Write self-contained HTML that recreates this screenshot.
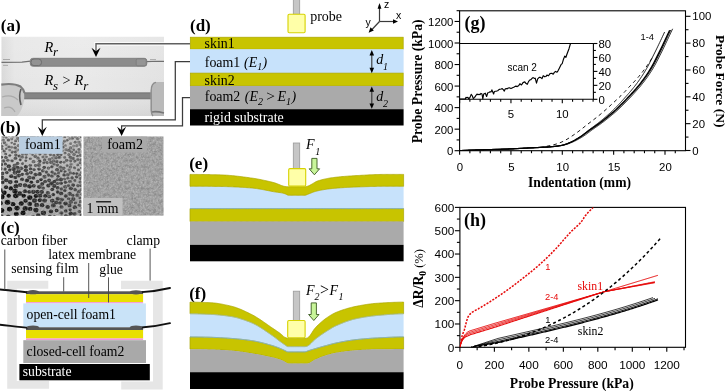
<!DOCTYPE html>
<html><head><meta charset="utf-8"><style>
html,body{margin:0;padding:0;background:#fff;width:725px;height:391px;overflow:hidden;}
svg{display:block;will-change:transform;}
</style></head><body>
<svg width="725" height="391" viewBox="0 0 725 391">
<rect width="725" height="391" fill="#fff"/>
<text x="0.80" y="30.50" font-family='"Liberation Serif", serif' font-size="17.00" font-weight="bold" font-style="normal" fill="#000" text-anchor="start" >(a)</text>
<defs><linearGradient id="pga" x1="0" y1="0" x2="1" y2="0"><stop offset="0" stop-color="#d8d8d8"/><stop offset="0.08" stop-color="#e6e6e6"/><stop offset="0.5" stop-color="#e9e9e9"/><stop offset="1" stop-color="#e2e2e2"/></linearGradient><linearGradient id="pgv" x1="0" y1="0" x2="0" y2="1"><stop offset="0" stop-color="#fff" stop-opacity="0.15"/><stop offset="0.6" stop-color="#fff" stop-opacity="0"/><stop offset="1" stop-color="#000" stop-opacity="0.06"/></linearGradient></defs>
<rect x="1.5" y="36.8" width="162.5" height="79.2" fill="url(#pga)"/>
<rect x="1.5" y="36.8" width="162.5" height="79.2" fill="url(#pgv)"/>
<path d="M1.5,62.4 L22,62.2 L30.5,61.2" stroke="#707070" stroke-width="1.3" fill="none"/>
<path d="M3,59.5 L10,59.5 M3,65.3 L8,65.4" stroke="#9a9a9a" stroke-width="0.8"/>
<path d="M146,61.6 L158,61.2 L164,61.4" stroke="#707070" stroke-width="1.1" fill="none"/>
<path d="M150,59.6 L156,59.6" stroke="#999" stroke-width="0.8"/>
<rect x="30.3" y="58.3" width="116.5" height="8.0" rx="2.5" fill="#8c8c8c" stroke="#7a7a7a" stroke-width="0.8"/>
<rect x="31" y="59.0" width="10.5" height="6.6" rx="3" fill="#929292" stroke="#6e6e6e" stroke-width="1"/>
<rect x="136.2" y="58.8" width="10" height="7" rx="1.5" fill="#959595" stroke="#7a7a7a" stroke-width="0.8"/>
<rect x="20" y="92.3" width="133" height="7.0" fill="#7a7a7a"/>
<rect x="20" y="93.6" width="133" height="4.2" fill="#858585"/>
<path d="M1.3,84.6 C8,83.6 16,84 20.5,86.5 C24.5,89.5 25,96 23.5,103 C22,109 19.5,114 17,116 L1.3,116 Z" fill="#c9c9c9"/>
<path d="M1.3,84.6 C8,83.6 16,84 20.5,86.5 C23,88.5 24,91 24.5,93" stroke="#7d7d7d" stroke-width="2.2" fill="none"/>
<path d="M21,89 C19,94 19.5,100 21,105" stroke="#5e5e5e" stroke-width="1.6" fill="none"/>
<path d="M2,97 C8,95 14,96 18,100 M4,108 C9,106 13,108 15,112" stroke="#aaa" stroke-width="1.2" fill="none"/>
<path d="M164,82.1 L156,82.1 C152.5,82.5 151,86 150.8,91 L150.8,110 C151,113 152,115.5 153,116 L164,116 Z" fill="#bababa"/>
<path d="M156,82.4 C152.5,82.8 151.2,86 151.2,91 L151.2,110 C151.4,113 152,115 153,116" stroke="#8e8e8e" stroke-width="1.4" fill="none"/>
<path d="M152,112 C156,111 160,112 164,113" stroke="#777" stroke-width="1.6" fill="none"/>
<text x="44.40" y="51.60" font-family='"Liberation Serif", serif' font-size="14.40" font-weight="normal" font-style="italic" fill="#000" text-anchor="start" >R</text>
<text x="53.00" y="56.20" font-family='"Liberation Serif", serif' font-size="13.00" font-weight="normal" font-style="italic" fill="#000" text-anchor="start" >r</text>
<text x="44.40" y="85.20" font-family='"Liberation Serif", serif' font-size="14.40" font-weight="normal" font-style="italic" fill="#000" text-anchor="start" >R</text>
<text x="53.00" y="89.80" font-family='"Liberation Serif", serif' font-size="13.00" font-weight="normal" font-style="italic" fill="#000" text-anchor="start" >s</text>
<text x="62.60" y="85.20" font-family='"Liberation Serif", serif' font-size="14.40" font-weight="normal" font-style="normal" fill="#000" text-anchor="start" >&gt;</text>
<text x="74.60" y="85.20" font-family='"Liberation Serif", serif' font-size="14.40" font-weight="normal" font-style="italic" fill="#000" text-anchor="start" >R</text>
<text x="83.20" y="89.80" font-family='"Liberation Serif", serif' font-size="13.00" font-weight="normal" font-style="italic" fill="#000" text-anchor="start" >r</text>
<text x="0.00" y="133.20" font-family='"Liberation Serif", serif' font-size="17.00" font-weight="bold" font-style="normal" fill="#000" text-anchor="start" >(b)</text>
<defs><clipPath id="f1clip"><rect x="1.2" y="136.5" width="80.1" height="79.2"/></clipPath><filter id="noise2" x="0" y="0" width="1" height="1"><feTurbulence type="fractalNoise" baseFrequency="0.32" numOctaves="3" seed="5" result="t"/><feColorMatrix type="matrix" values="0 0 0 0 0  0 0 0 0 0  0 0 0 0 0  -0.4 0 0 0 0.24" result="m"/><feComposite in="m" in2="SourceGraphic" operator="in"/></filter><filter id="noise3" x="0" y="0" width="1" height="1"><feTurbulence type="fractalNoise" baseFrequency="0.6" numOctaves="2" seed="9" result="t"/><feColorMatrix type="matrix" values="0 0 0 0 1  0 0 0 0 1  0 0 0 0 1  0.6 0 0 0 -0.25" result="m"/><feComposite in="m" in2="SourceGraphic" operator="in"/></filter><linearGradient id="f1g" x1="0" y1="0" x2="0.35" y2="1"><stop offset="0" stop-color="#c6c6c6"/><stop offset="0.55" stop-color="#b6b6b6"/><stop offset="1" stop-color="#a0a0a0"/></linearGradient></defs>
<rect x="1.2" y="136.5" width="80.1" height="79.2" fill="url(#f1g)"/>
<g clip-path="url(#f1clip)">
<ellipse cx="37.5" cy="181.5" rx="1.89" ry="1.70" fill="#3f3f3f"/><ellipse cx="76.7" cy="173.6" rx="1.53" ry="1.37" fill="#4a4a4a"/><ellipse cx="42.2" cy="183.8" rx="2.10" ry="1.89" fill="#3d3d3d"/><ellipse cx="15.3" cy="177.5" rx="1.94" ry="1.74" fill="#363636"/><ellipse cx="52.3" cy="200.8" rx="2.26" ry="2.04" fill="#333333"/><ellipse cx="7.8" cy="160.2" rx="1.73" ry="1.56" fill="#5a5a5a"/><ellipse cx="7.5" cy="202.2" rx="2.80" ry="2.52" fill="#0c0c0c"/><ellipse cx="57.6" cy="138.5" rx="1.58" ry="1.42" fill="#666666"/><ellipse cx="81.5" cy="215.1" rx="1.87" ry="1.69" fill="#383838"/><ellipse cx="54.3" cy="186.1" rx="2.21" ry="1.99" fill="#3a3a3a"/><ellipse cx="13.1" cy="136.2" rx="1.57" ry="1.41" fill="#747474"/><ellipse cx="43.9" cy="139.9" rx="1.77" ry="1.59" fill="#6c6c6c"/><ellipse cx="15.8" cy="155.1" rx="1.75" ry="1.57" fill="#565656"/><ellipse cx="2.5" cy="173.5" rx="1.85" ry="1.66" fill="#3d3d3d"/><ellipse cx="36.6" cy="204.9" rx="2.45" ry="2.20" fill="#2b2b2b"/><ellipse cx="43.1" cy="188.1" rx="1.81" ry="1.63" fill="#404040"/><ellipse cx="38.0" cy="158.1" rx="1.89" ry="1.70" fill="#616161"/><ellipse cx="69.7" cy="193.7" rx="2.15" ry="1.94" fill="#424242"/><ellipse cx="26.2" cy="154.1" rx="1.79" ry="1.61" fill="#626262"/><ellipse cx="24.0" cy="140.8" rx="1.40" ry="1.26" fill="#606060"/><ellipse cx="63.6" cy="168.2" rx="1.99" ry="1.79" fill="#595959"/><ellipse cx="70.3" cy="167.1" rx="1.87" ry="1.68" fill="#676767"/><ellipse cx="79.5" cy="205.3" rx="2.00" ry="1.80" fill="#515151"/><ellipse cx="0.0" cy="152.4" rx="1.46" ry="1.31" fill="#666666"/><ellipse cx="81.4" cy="168.0" rx="1.41" ry="1.27" fill="#656565"/><ellipse cx="6.1" cy="187.2" rx="2.14" ry="1.92" fill="#1e1e1e"/><ellipse cx="64.6" cy="157.4" rx="1.52" ry="1.37" fill="#696969"/><ellipse cx="80.0" cy="197.9" rx="1.57" ry="1.41" fill="#555555"/><ellipse cx="9.8" cy="155.5" rx="1.45" ry="1.30" fill="#515151"/><ellipse cx="8.4" cy="140.0" rx="1.80" ry="1.62" fill="#5e5e5e"/><ellipse cx="66.2" cy="149.7" rx="1.83" ry="1.64" fill="#717171"/><ellipse cx="46.4" cy="172.1" rx="1.70" ry="1.53" fill="#464646"/><ellipse cx="15.8" cy="195.7" rx="2.73" ry="2.46" fill="#101010"/><ellipse cx="10.9" cy="188.4" rx="2.29" ry="2.06" fill="#131313"/><ellipse cx="9.7" cy="169.9" rx="1.80" ry="1.62" fill="#343434"/><ellipse cx="80.6" cy="201.7" rx="1.82" ry="1.63" fill="#4f4f4f"/><ellipse cx="25.2" cy="208.4" rx="2.60" ry="2.34" fill="#181818"/><ellipse cx="17.5" cy="167.7" rx="2.09" ry="1.88" fill="#434343"/><ellipse cx="70.9" cy="188.3" rx="2.08" ry="1.88" fill="#3d3d3d"/><ellipse cx="8.3" cy="217.1" rx="2.59" ry="2.33" fill="#0c0c0c"/><ellipse cx="64.1" cy="162.3" rx="1.53" ry="1.37" fill="#666666"/><ellipse cx="20.2" cy="184.9" rx="2.25" ry="2.02" fill="#313131"/><ellipse cx="30.9" cy="172.6" rx="2.02" ry="1.82" fill="#464646"/><ellipse cx="79.6" cy="175.1" rx="1.65" ry="1.48" fill="#5f5f5f"/><ellipse cx="47.7" cy="206.9" rx="2.24" ry="2.02" fill="#2e2e2e"/><ellipse cx="15.2" cy="147.8" rx="1.83" ry="1.65" fill="#5f5f5f"/><ellipse cx="75.4" cy="202.9" rx="1.60" ry="1.44" fill="#4a4a4a"/><ellipse cx="20.7" cy="150.8" rx="1.76" ry="1.59" fill="#707070"/><ellipse cx="61.4" cy="213.1" rx="1.95" ry="1.76" fill="#3a3a3a"/><ellipse cx="16.3" cy="213.9" rx="2.45" ry="2.21" fill="#0c0c0c"/><ellipse cx="73.2" cy="185.1" rx="2.01" ry="1.81" fill="#474747"/><ellipse cx="35.0" cy="143.6" rx="1.61" ry="1.45" fill="#797979"/><ellipse cx="19.8" cy="193.5" rx="2.42" ry="2.18" fill="#262626"/><ellipse cx="21.3" cy="203.4" rx="2.51" ry="2.26" fill="#161616"/><ellipse cx="49.5" cy="159.4" rx="1.86" ry="1.67" fill="#676767"/><ellipse cx="5.7" cy="154.0" rx="1.51" ry="1.36" fill="#575757"/><ellipse cx="76.1" cy="151.9" rx="1.45" ry="1.31" fill="#626262"/><ellipse cx="1.4" cy="157.3" rx="1.62" ry="1.46" fill="#484848"/><ellipse cx="37.0" cy="140.0" rx="1.76" ry="1.58" fill="#6e6e6e"/><ellipse cx="14.6" cy="165.6" rx="2.07" ry="1.86" fill="#535353"/><ellipse cx="47.5" cy="145.9" rx="1.31" ry="1.18" fill="#666666"/><ellipse cx="30.1" cy="208.9" rx="2.33" ry="2.10" fill="#171717"/><ellipse cx="81.4" cy="189.5" rx="1.74" ry="1.56" fill="#4e4e4e"/><ellipse cx="57.4" cy="183.5" rx="1.75" ry="1.57" fill="#4b4b4b"/><ellipse cx="1.5" cy="210.5" rx="2.79" ry="2.52" fill="#0c0c0c"/><ellipse cx="40.0" cy="195.6" rx="2.43" ry="2.19" fill="#323232"/><ellipse cx="26.5" cy="217.9" rx="2.41" ry="2.17" fill="#0f0f0f"/><ellipse cx="6.2" cy="180.3" rx="2.23" ry="2.01" fill="#2c2c2c"/><ellipse cx="61.2" cy="193.4" rx="2.10" ry="1.89" fill="#363636"/><ellipse cx="65.8" cy="210.9" rx="1.78" ry="1.60" fill="#323232"/><ellipse cx="29.2" cy="191.9" rx="1.99" ry="1.79" fill="#313131"/><ellipse cx="74.8" cy="207.3" rx="2.19" ry="1.97" fill="#3a3a3a"/><ellipse cx="34.6" cy="200.6" rx="2.59" ry="2.33" fill="#2e2e2e"/><ellipse cx="51.9" cy="166.7" rx="1.73" ry="1.55" fill="#484848"/><ellipse cx="48.4" cy="185.5" rx="2.14" ry="1.92" fill="#393939"/><ellipse cx="82.4" cy="208.0" rx="1.75" ry="1.57" fill="#505050"/><ellipse cx="60.4" cy="167.2" rx="1.89" ry="1.70" fill="#5f5f5f"/><ellipse cx="61.0" cy="183.2" rx="1.83" ry="1.64" fill="#3b3b3b"/><ellipse cx="39.9" cy="154.1" rx="1.67" ry="1.51" fill="#575757"/><ellipse cx="58.0" cy="176.3" rx="1.68" ry="1.51" fill="#424242"/><ellipse cx="51.0" cy="211.4" rx="2.19" ry="1.97" fill="#2e2e2e"/><ellipse cx="21.2" cy="135.9" rx="1.78" ry="1.60" fill="#636363"/><ellipse cx="25.0" cy="191.3" rx="2.26" ry="2.03" fill="#2e2e2e"/><ellipse cx="75.2" cy="189.8" rx="2.00" ry="1.80" fill="#4c4c4c"/><ellipse cx="11.3" cy="176.2" rx="2.14" ry="1.92" fill="#2d2d2d"/><ellipse cx="69.5" cy="205.4" rx="2.10" ry="1.89" fill="#444444"/><ellipse cx="23.0" cy="149.0" rx="1.54" ry="1.39" fill="#5e5e5e"/><ellipse cx="51.9" cy="176.0" rx="1.80" ry="1.62" fill="#3c3c3c"/><ellipse cx="81.5" cy="172.6" rx="1.56" ry="1.41" fill="#646464"/><ellipse cx="6.2" cy="137.6" rx="1.41" ry="1.27" fill="#6c6c6c"/><ellipse cx="72.4" cy="138.4" rx="1.56" ry="1.40" fill="#666666"/><ellipse cx="25.6" cy="200.7" rx="2.25" ry="2.03" fill="#181818"/><ellipse cx="1.6" cy="146.3" rx="1.80" ry="1.62" fill="#5f5f5f"/><ellipse cx="37.8" cy="137.1" rx="1.34" ry="1.21" fill="#747474"/><ellipse cx="68.9" cy="154.7" rx="1.59" ry="1.43" fill="#616161"/><ellipse cx="11.7" cy="138.9" rx="1.64" ry="1.48" fill="#797979"/><ellipse cx="52.2" cy="172.1" rx="1.81" ry="1.63" fill="#494949"/><ellipse cx="52.3" cy="189.4" rx="1.91" ry="1.72" fill="#353535"/><ellipse cx="56.8" cy="151.5" rx="1.52" ry="1.37" fill="#757575"/><ellipse cx="39.4" cy="149.8" rx="1.41" ry="1.27" fill="#656565"/><ellipse cx="59.3" cy="149.9" rx="1.46" ry="1.32" fill="#696969"/><ellipse cx="22.6" cy="163.7" rx="1.53" ry="1.38" fill="#575757"/><ellipse cx="75.2" cy="142.2" rx="1.62" ry="1.46" fill="#6f6f6f"/><ellipse cx="77.4" cy="195.0" rx="2.06" ry="1.85" fill="#4c4c4c"/><ellipse cx="31.3" cy="182.2" rx="1.82" ry="1.64" fill="#272727"/><ellipse cx="59.9" cy="202.9" rx="1.90" ry="1.71" fill="#3a3a3a"/><ellipse cx="53.3" cy="194.6" rx="1.77" ry="1.60" fill="#2e2e2e"/><ellipse cx="44.6" cy="200.6" rx="2.41" ry="2.17" fill="#343434"/><ellipse cx="71.0" cy="163.9" rx="1.68" ry="1.51" fill="#676767"/><ellipse cx="67.2" cy="140.3" rx="1.38" ry="1.24" fill="#606060"/><ellipse cx="11.7" cy="147.3" rx="1.56" ry="1.41" fill="#6b6b6b"/><ellipse cx="78.8" cy="142.1" rx="1.80" ry="1.62" fill="#727272"/><ellipse cx="70.0" cy="181.5" rx="1.99" ry="1.79" fill="#555555"/><ellipse cx="25.9" cy="166.6" rx="2.07" ry="1.87" fill="#3d3d3d"/><ellipse cx="70.2" cy="209.7" rx="1.72" ry="1.55" fill="#3e3e3e"/><ellipse cx="80.4" cy="178.5" rx="1.59" ry="1.43" fill="#5d5d5d"/><ellipse cx="47.6" cy="151.7" rx="1.34" ry="1.20" fill="#696969"/><ellipse cx="44.5" cy="176.8" rx="2.17" ry="1.95" fill="#4f4f4f"/><ellipse cx="50.2" cy="137.3" rx="1.34" ry="1.21" fill="#696969"/><ellipse cx="79.4" cy="211.6" rx="1.90" ry="1.71" fill="#4b4b4b"/><ellipse cx="22.3" cy="174.3" rx="1.80" ry="1.62" fill="#3f3f3f"/><ellipse cx="39.6" cy="161.3" rx="1.95" ry="1.75" fill="#494949"/><ellipse cx="15.9" cy="186.3" rx="2.43" ry="2.18" fill="#272727"/><ellipse cx="76.8" cy="145.7" rx="1.79" ry="1.61" fill="#787878"/><ellipse cx="64.7" cy="136.9" rx="1.35" ry="1.22" fill="#636363"/><ellipse cx="57.0" cy="161.7" rx="1.81" ry="1.63" fill="#565656"/><ellipse cx="29.5" cy="186.4" rx="2.30" ry="2.07" fill="#242424"/><ellipse cx="8.7" cy="195.7" rx="2.23" ry="2.01" fill="#0c0c0c"/><ellipse cx="43.9" cy="148.3" rx="1.63" ry="1.47" fill="#6d6d6d"/><ellipse cx="74.9" cy="161.2" rx="1.66" ry="1.49" fill="#616161"/><ellipse cx="73.7" cy="146.1" rx="1.59" ry="1.43" fill="#787878"/><ellipse cx="21.5" cy="143.1" rx="1.48" ry="1.33" fill="#767676"/><ellipse cx="69.1" cy="170.0" rx="1.60" ry="1.44" fill="#646464"/><ellipse cx="65.6" cy="145.5" rx="1.45" ry="1.31" fill="#777777"/><ellipse cx="33.4" cy="191.9" rx="2.35" ry="2.11" fill="#2e2e2e"/><ellipse cx="56.6" cy="210.6" rx="1.92" ry="1.73" fill="#222222"/><ellipse cx="80.4" cy="144.6" rx="1.87" ry="1.68" fill="#787878"/><ellipse cx="41.7" cy="191.9" rx="2.22" ry="2.00" fill="#323232"/><ellipse cx="15.7" cy="140.9" rx="1.61" ry="1.45" fill="#626262"/><ellipse cx="15.3" cy="151.9" rx="1.59" ry="1.43" fill="#575757"/><ellipse cx="69.7" cy="217.2" rx="2.18" ry="1.96" fill="#353535"/><ellipse cx="27.1" cy="173.8" rx="1.99" ry="1.79" fill="#484848"/><ellipse cx="42.8" cy="170.7" rx="1.91" ry="1.72" fill="#4d4d4d"/><ellipse cx="15.0" cy="172.7" rx="2.32" ry="2.08" fill="#3e3e3e"/><ellipse cx="42.5" cy="136.3" rx="1.39" ry="1.25" fill="#666666"/><ellipse cx="61.8" cy="199.6" rx="2.17" ry="1.95" fill="#404040"/><ellipse cx="57.7" cy="198.7" rx="2.11" ry="1.90" fill="#393939"/><ellipse cx="60.0" cy="140.9" rx="1.89" ry="1.70" fill="#767676"/><ellipse cx="0.9" cy="164.5" rx="2.19" ry="1.97" fill="#464646"/><ellipse cx="44.2" cy="167.3" rx="1.78" ry="1.60" fill="#474747"/><ellipse cx="81.3" cy="136.9" rx="1.41" ry="1.27" fill="#5e5e5e"/><ellipse cx="21.3" cy="168.3" rx="2.04" ry="1.83" fill="#4c4c4c"/><ellipse cx="4.2" cy="151.2" rx="1.51" ry="1.36" fill="#585858"/><ellipse cx="31.2" cy="143.2" rx="1.62" ry="1.45" fill="#5f5f5f"/><ellipse cx="80.3" cy="182.1" rx="1.85" ry="1.67" fill="#555555"/><ellipse cx="78.5" cy="169.9" rx="1.63" ry="1.47" fill="#595959"/><ellipse cx="30.3" cy="158.7" rx="1.47" ry="1.32" fill="#5a5a5a"/><ellipse cx="54.4" cy="181.5" rx="1.95" ry="1.75" fill="#363636"/><ellipse cx="24.6" cy="136.2" rx="1.79" ry="1.61" fill="#6a6a6a"/><ellipse cx="35.6" cy="174.6" rx="2.19" ry="1.97" fill="#404040"/><ellipse cx="80.8" cy="155.2" rx="1.91" ry="1.72" fill="#636363"/><ellipse cx="43.4" cy="212.8" rx="2.66" ry="2.40" fill="#282828"/><ellipse cx="50.1" cy="144.6" rx="1.31" ry="1.17" fill="#646464"/><ellipse cx="43.8" cy="145.3" rx="1.50" ry="1.35" fill="#757575"/><ellipse cx="64.6" cy="179.1" rx="1.59" ry="1.43" fill="#585858"/><ellipse cx="60.9" cy="154.8" rx="1.57" ry="1.42" fill="#5c5c5c"/><ellipse cx="9.5" cy="209.1" rx="2.66" ry="2.39" fill="#0c0c0c"/><ellipse cx="65.1" cy="186.9" rx="2.08" ry="1.87" fill="#525252"/><ellipse cx="62.5" cy="150.8" rx="1.45" ry="1.31" fill="#666666"/><ellipse cx="3.3" cy="140.0" rx="1.70" ry="1.53" fill="#6e6e6e"/><ellipse cx="17.5" cy="163.5" rx="1.85" ry="1.66" fill="#4b4b4b"/><ellipse cx="6.2" cy="144.9" rx="1.51" ry="1.36" fill="#767676"/><ellipse cx="35.2" cy="156.4" rx="1.85" ry="1.66" fill="#606060"/><ellipse cx="67.2" cy="165.6" rx="1.46" ry="1.31" fill="#5c5c5c"/><ellipse cx="54.3" cy="217.1" rx="1.94" ry="1.75" fill="#1f1f1f"/><ellipse cx="27.0" cy="180.5" rx="2.26" ry="2.03" fill="#2c2c2c"/><ellipse cx="35.5" cy="165.6" rx="1.65" ry="1.49" fill="#585858"/><ellipse cx="64.4" cy="141.3" rx="1.65" ry="1.48" fill="#6e6e6e"/><ellipse cx="66.7" cy="160.3" rx="1.75" ry="1.58" fill="#5a5a5a"/><ellipse cx="30.3" cy="165.2" rx="1.71" ry="1.53" fill="#575757"/><ellipse cx="16.2" cy="181.8" rx="2.02" ry="1.82" fill="#272727"/><ellipse cx="73.1" cy="158.4" rx="1.85" ry="1.66" fill="#5d5d5d"/><ellipse cx="1.8" cy="177.8" rx="2.49" ry="2.24" fill="#373737"/><ellipse cx="53.9" cy="155.4" rx="1.43" ry="1.29" fill="#575757"/><ellipse cx="41.0" cy="179.6" rx="1.82" ry="1.64" fill="#2f2f2f"/><ellipse cx="70.8" cy="201.9" rx="2.20" ry="1.98" fill="#4a4a4a"/><ellipse cx="34.9" cy="147.1" rx="1.67" ry="1.50" fill="#606060"/><ellipse cx="61.5" cy="217.3" rx="2.08" ry="1.87" fill="#2c2c2c"/><ellipse cx="31.2" cy="148.9" rx="1.32" ry="1.19" fill="#6b6b6b"/><ellipse cx="15.4" cy="158.3" rx="1.81" ry="1.63" fill="#4d4d4d"/><ellipse cx="67.8" cy="174.8" rx="1.98" ry="1.79" fill="#5a5a5a"/><ellipse cx="72.1" cy="177.8" rx="1.75" ry="1.58" fill="#4a4a4a"/><ellipse cx="22.1" cy="179.4" rx="1.98" ry="1.78" fill="#3b3b3b"/><ellipse cx="0.1" cy="203.2" rx="2.69" ry="2.42" fill="#0c0c0c"/><ellipse cx="39.8" cy="173.9" rx="2.21" ry="1.99" fill="#3d3d3d"/><ellipse cx="13.1" cy="204.1" rx="2.45" ry="2.21" fill="#0c0c0c"/><ellipse cx="25.8" cy="160.8" rx="1.47" ry="1.33" fill="#585858"/><ellipse cx="38.3" cy="215.3" rx="2.21" ry="1.99" fill="#262626"/><ellipse cx="0.9" cy="217.3" rx="3.01" ry="2.71" fill="#0c0c0c"/><ellipse cx="60.7" cy="162.3" rx="1.61" ry="1.45" fill="#4d4d4d"/><ellipse cx="11.7" cy="142.8" rx="1.30" ry="1.17" fill="#6b6b6b"/><ellipse cx="33.8" cy="141.0" rx="1.80" ry="1.62" fill="#707070"/><ellipse cx="34.2" cy="136.3" rx="1.64" ry="1.48" fill="#777777"/><ellipse cx="8.8" cy="166.3" rx="2.19" ry="1.97" fill="#3a3a3a"/><ellipse cx="68.5" cy="185.7" rx="1.59" ry="1.43" fill="#474747"/><ellipse cx="74.9" cy="180.5" rx="1.64" ry="1.47" fill="#585858"/><ellipse cx="52.1" cy="151.4" rx="1.83" ry="1.65" fill="#6d6d6d"/><ellipse cx="47.8" cy="192.9" rx="2.06" ry="1.85" fill="#3e3e3e"/><ellipse cx="45.1" cy="181.5" rx="1.95" ry="1.76" fill="#404040"/><ellipse cx="46.5" cy="156.9" rx="1.39" ry="1.25" fill="#676767"/><ellipse cx="75.5" cy="217.3" rx="1.67" ry="1.50" fill="#484848"/><ellipse cx="69.0" cy="150.4" rx="1.82" ry="1.64" fill="#636363"/><ellipse cx="43.1" cy="156.9" rx="1.64" ry="1.47" fill="#6a6a6a"/><ellipse cx="47.1" cy="162.6" rx="1.80" ry="1.62" fill="#5d5d5d"/><ellipse cx="53.3" cy="138.1" rx="1.75" ry="1.57" fill="#6c6c6c"/><ellipse cx="55.7" cy="147.0" rx="1.79" ry="1.61" fill="#767676"/><ellipse cx="39.0" cy="169.1" rx="1.85" ry="1.66" fill="#414141"/><ellipse cx="35.9" cy="210.1" rx="2.61" ry="2.35" fill="#202020"/><ellipse cx="26.6" cy="139.5" rx="1.85" ry="1.67" fill="#686868"/><ellipse cx="49.3" cy="140.8" rx="1.61" ry="1.45" fill="#6d6d6d"/><ellipse cx="4.3" cy="192.7" rx="2.46" ry="2.21" fill="#101010"/><ellipse cx="19.6" cy="140.7" rx="1.69" ry="1.52" fill="#626262"/><ellipse cx="78.9" cy="135.0" rx="1.83" ry="1.64" fill="#6d6d6d"/><ellipse cx="20.2" cy="159.8" rx="1.54" ry="1.38" fill="#4b4b4b"/><ellipse cx="59.2" cy="146.2" rx="1.40" ry="1.26" fill="#747474"/><ellipse cx="42.0" cy="205.2" rx="2.32" ry="2.09" fill="#272727"/><ellipse cx="79.0" cy="149.4" rx="1.56" ry="1.41" fill="#5f5f5f"/><ellipse cx="50.5" cy="154.5" rx="1.78" ry="1.60" fill="#646464"/><ellipse cx="12.1" cy="160.8" rx="1.71" ry="1.54" fill="#515151"/><ellipse cx="3.5" cy="161.1" rx="1.93" ry="1.73" fill="#535353"/><ellipse cx="5.1" cy="169.1" rx="1.75" ry="1.58" fill="#444444"/><ellipse cx="30.2" cy="153.0" rx="1.51" ry="1.36" fill="#5e5e5e"/><ellipse cx="81.9" cy="147.0" rx="1.56" ry="1.40" fill="#6d6d6d"/><ellipse cx="19.1" cy="156.0" rx="1.74" ry="1.57" fill="#4d4d4d"/><ellipse cx="81.4" cy="185.7" rx="1.94" ry="1.74" fill="#525252"/><ellipse cx="73.6" cy="173.4" rx="1.50" ry="1.35" fill="#4c4c4c"/><ellipse cx="71.6" cy="152.0" rx="1.79" ry="1.61" fill="#646464"/><ellipse cx="57.4" cy="165.1" rx="1.79" ry="1.61" fill="#575757"/><ellipse cx="59.4" cy="157.3" rx="1.77" ry="1.59" fill="#565656"/><ellipse cx="77.7" cy="164.9" rx="1.49" ry="1.34" fill="#646464"/><ellipse cx="75.3" cy="136.7" rx="1.56" ry="1.41" fill="#6a6a6a"/><ellipse cx="32.7" cy="154.8" rx="1.42" ry="1.28" fill="#5d5d5d"/><ellipse cx="25.9" cy="170.2" rx="2.13" ry="1.92" fill="#3c3c3c"/><ellipse cx="12.2" cy="152.0" rx="1.72" ry="1.55" fill="#5c5c5c"/><ellipse cx="17.9" cy="138.4" rx="1.81" ry="1.63" fill="#737373"/><ellipse cx="81.0" cy="159.7" rx="1.72" ry="1.55" fill="#606060"/><ellipse cx="52.5" cy="142.5" rx="1.59" ry="1.43" fill="#606060"/><ellipse cx="34.1" cy="169.5" rx="1.69" ry="1.53" fill="#4a4a4a"/><ellipse cx="80.4" cy="162.7" rx="1.60" ry="1.44" fill="#585858"/><ellipse cx="57.7" cy="192.0" rx="1.84" ry="1.66" fill="#323232"/><ellipse cx="27.0" cy="149.8" rx="1.79" ry="1.61" fill="#5f5f5f"/><ellipse cx="64.1" cy="174.9" rx="1.77" ry="1.59" fill="#414141"/><ellipse cx="57.1" cy="169.8" rx="1.96" ry="1.77" fill="#444444"/><ellipse cx="23.7" cy="195.7" rx="2.28" ry="2.05" fill="#131313"/><ellipse cx="14.5" cy="143.9" rx="1.37" ry="1.23" fill="#5e5e5e"/><ellipse cx="77.5" cy="155.9" rx="1.41" ry="1.27" fill="#595959"/><ellipse cx="40.5" cy="145.0" rx="1.59" ry="1.43" fill="#727272"/><ellipse cx="23.0" cy="212.9" rx="2.56" ry="2.31" fill="#0c0c0c"/><ellipse cx="2.2" cy="149.0" rx="1.46" ry="1.31" fill="#606060"/><ellipse cx="29.8" cy="197.5" rx="2.64" ry="2.37" fill="#131313"/><ellipse cx="65.8" cy="196.0" rx="1.97" ry="1.77" fill="#393939"/><ellipse cx="68.7" cy="198.7" rx="1.69" ry="1.52" fill="#464646"/><ellipse cx="8.8" cy="146.9" rx="1.56" ry="1.40" fill="#626262"/><ellipse cx="33.5" cy="161.7" rx="1.99" ry="1.79" fill="#5f5f5f"/><ellipse cx="17.0" cy="208.1" rx="2.68" ry="2.41" fill="#141414"/><ellipse cx="82.5" cy="140.4" rx="1.43" ry="1.29" fill="#666666"/><ellipse cx="9.7" cy="150.1" rx="1.52" ry="1.37" fill="#737373"/><ellipse cx="72.8" cy="195.4" rx="1.66" ry="1.49" fill="#444444"/><ellipse cx="52.3" cy="158.1" rx="1.39" ry="1.25" fill="#686868"/><ellipse cx="78.1" cy="185.6" rx="1.82" ry="1.64" fill="#565656"/><ellipse cx="49.0" cy="180.3" rx="2.03" ry="1.83" fill="#3a3a3a"/><ellipse cx="74.5" cy="213.8" rx="2.09" ry="1.88" fill="#464646"/><ellipse cx="38.9" cy="165.0" rx="2.10" ry="1.89" fill="#5a5a5a"/><ellipse cx="10.3" cy="182.1" rx="2.37" ry="2.14" fill="#2f2f2f"/><ellipse cx="70.6" cy="143.7" rx="1.55" ry="1.39" fill="#727272"/><ellipse cx="70.6" cy="147.9" rx="1.88" ry="1.69" fill="#6b6b6b"/><ellipse cx="33.7" cy="185.8" rx="2.07" ry="1.86" fill="#313131"/><ellipse cx="53.4" cy="205.4" rx="2.46" ry="2.22" fill="#363636"/><ellipse cx="0.7" cy="168.7" rx="1.88" ry="1.69" fill="#3a3a3a"/><ellipse cx="4.4" cy="142.7" rx="1.63" ry="1.47" fill="#5f5f5f"/><ellipse cx="48.1" cy="135.5" rx="1.42" ry="1.27" fill="#717171"/><ellipse cx="64.9" cy="171.6" rx="1.60" ry="1.44" fill="#4a4a4a"/><ellipse cx="48.5" cy="174.9" rx="1.92" ry="1.73" fill="#4d4d4d"/><ellipse cx="57.9" cy="154.4" rx="1.70" ry="1.53" fill="#575757"/><ellipse cx="62.5" cy="143.5" rx="1.68" ry="1.52" fill="#5e5e5e"/><ellipse cx="65.1" cy="153.1" rx="1.57" ry="1.41" fill="#626262"/><ellipse cx="60.9" cy="179.4" rx="2.10" ry="1.89" fill="#404040"/><ellipse cx="55.3" cy="140.6" rx="1.87" ry="1.69" fill="#696969"/><ellipse cx="2.5" cy="182.4" rx="2.03" ry="1.83" fill="#313131"/><ellipse cx="40.3" cy="141.5" rx="1.82" ry="1.64" fill="#6e6e6e"/><ellipse cx="0.1" cy="140.6" rx="1.41" ry="1.27" fill="#676767"/><ellipse cx="65.9" cy="216.0" rx="1.99" ry="1.79" fill="#2d2d2d"/><ellipse cx="43.7" cy="162.8" rx="1.53" ry="1.38" fill="#565656"/><ellipse cx="32.1" cy="146.3" rx="1.61" ry="1.45" fill="#727272"/><ellipse cx="49.2" cy="196.5" rx="2.06" ry="1.86" fill="#3f3f3f"/><ellipse cx="76.7" cy="176.8" rx="1.78" ry="1.60" fill="#4f4f4f"/><ellipse cx="39.3" cy="186.8" rx="2.36" ry="2.12" fill="#3c3c3c"/><ellipse cx="26.2" cy="157.6" rx="1.45" ry="1.31" fill="#525252"/><ellipse cx="44.9" cy="217.8" rx="2.47" ry="2.23" fill="#202020"/><ellipse cx="58.6" cy="172.9" rx="1.80" ry="1.62" fill="#5b5b5b"/><ellipse cx="5.9" cy="157.4" rx="1.86" ry="1.68" fill="#545454"/><ellipse cx="33.1" cy="217.5" rx="2.49" ry="2.24" fill="#161616"/><ellipse cx="77.6" cy="138.6" rx="1.79" ry="1.61" fill="#717171"/><ellipse cx="27.9" cy="135.8" rx="1.42" ry="1.28" fill="#636363"/><ellipse cx="61.5" cy="206.9" rx="2.04" ry="1.83" fill="#3d3d3d"/><ellipse cx="0.1" cy="135.1" rx="1.67" ry="1.50" fill="#696969"/><ellipse cx="34.4" cy="150.2" rx="1.30" ry="1.17" fill="#6c6c6c"/><ellipse cx="28.6" cy="145.0" rx="1.61" ry="1.45" fill="#6d6d6d"/><ellipse cx="60.5" cy="137.5" rx="1.83" ry="1.64" fill="#717171"/><ellipse cx="65.5" cy="203.5" rx="2.31" ry="2.08" fill="#363636"/><ellipse cx="43.2" cy="151.9" rx="1.67" ry="1.50" fill="#6b6b6b"/><ellipse cx="56.1" cy="143.9" rx="1.60" ry="1.44" fill="#767676"/><ellipse cx="82.3" cy="151.6" rx="1.74" ry="1.57" fill="#676767"/><ellipse cx="69.5" cy="138.6" rx="1.55" ry="1.40" fill="#787878"/><ellipse cx="9.0" cy="135.3" rx="1.55" ry="1.40" fill="#656565"/><ellipse cx="74.5" cy="167.9" rx="1.57" ry="1.41" fill="#5f5f5f"/><ellipse cx="25.1" cy="185.4" rx="2.32" ry="2.09" fill="#333333"/><ellipse cx="65.5" cy="182.3" rx="1.85" ry="1.66" fill="#464646"/><ellipse cx="53.7" cy="160.8" rx="1.74" ry="1.56" fill="#606060"/><ellipse cx="73.7" cy="149.7" rx="1.40" ry="1.26" fill="#606060"/><ellipse cx="18.4" cy="145.6" rx="1.86" ry="1.68" fill="#717171"/><ellipse cx="45.2" cy="195.8" rx="2.10" ry="1.89" fill="#2a2a2a"/><ellipse cx="61.4" cy="188.9" rx="1.77" ry="1.59" fill="#494949"/><ellipse cx="48.5" cy="168.1" rx="1.81" ry="1.63" fill="#5c5c5c"/><ellipse cx="52.8" cy="135.2" rx="1.56" ry="1.41" fill="#696969"/><ellipse cx="82.5" cy="194.3" rx="2.10" ry="1.89" fill="#484848"/><ellipse cx="77.8" cy="159.7" rx="1.63" ry="1.47" fill="#5c5c5c"/><ellipse cx="73.2" cy="199.0" rx="2.16" ry="1.94" fill="#3d3d3d"/><ellipse cx="70.4" cy="157.3" rx="1.91" ry="1.72" fill="#606060"/><ellipse cx="64.9" cy="190.5" rx="1.74" ry="1.57" fill="#424242"/><ellipse cx="72.2" cy="135.6" rx="1.62" ry="1.46" fill="#666666"/><ellipse cx="67.9" cy="178.2" rx="1.54" ry="1.38" fill="#585858"/><ellipse cx="33.4" cy="178.1" rx="1.94" ry="1.74" fill="#3b3b3b"/><ellipse cx="6.8" cy="172.6" rx="1.85" ry="1.67" fill="#3d3d3d"/><ellipse cx="74.0" cy="154.5" rx="1.87" ry="1.68" fill="#6a6a6a"/><ellipse cx="31.4" cy="135.7" rx="1.82" ry="1.64" fill="#747474"/><ellipse cx="54.0" cy="164.0" rx="1.77" ry="1.59" fill="#5d5d5d"/><ellipse cx="55.0" cy="173.9" rx="1.74" ry="1.57" fill="#515151"/><ellipse cx="29.8" cy="203.9" rx="2.36" ry="2.13" fill="#1b1b1b"/><ellipse cx="61.1" cy="170.7" rx="1.60" ry="1.44" fill="#4e4e4e"/><ellipse cx="39.8" cy="200.1" rx="2.18" ry="1.96" fill="#191919"/><ellipse cx="1.7" cy="196.8" rx="2.86" ry="2.57" fill="#0c0c0c"/><ellipse cx="51.4" cy="147.8" rx="1.88" ry="1.69" fill="#6b6b6b"/><ellipse cx="22.8" cy="154.1" rx="1.78" ry="1.60" fill="#666666"/><ellipse cx="17.6" cy="150.0" rx="1.62" ry="1.46" fill="#767676"/><ellipse cx="82.8" cy="176.5" rx="1.78" ry="1.60" fill="#575757"/><ellipse cx="0.2" cy="190.2" rx="2.53" ry="2.28" fill="#101010"/><ellipse cx="22.0" cy="145.9" rx="1.83" ry="1.64" fill="#727272"/><ellipse cx="35.8" cy="196.1" rx="2.25" ry="2.02" fill="#191919"/><ellipse cx="25.6" cy="143.9" rx="1.34" ry="1.20" fill="#5e5e5e"/><ellipse cx="16.3" cy="135.9" rx="1.38" ry="1.24" fill="#686868"/><ellipse cx="70.7" cy="160.8" rx="1.60" ry="1.44" fill="#5f5f5f"/><ellipse cx="30.5" cy="140.3" rx="1.83" ry="1.64" fill="#6f6f6f"/><ellipse cx="18.6" cy="171.3" rx="2.20" ry="1.98" fill="#3b3b3b"/><ellipse cx="5.4" cy="163.9" rx="1.69" ry="1.52" fill="#484848"/><ellipse cx="62.9" cy="146.9" rx="1.82" ry="1.63" fill="#5e5e5e"/><ellipse cx="68.0" cy="135.2" rx="1.85" ry="1.66" fill="#626262"/><ellipse cx="47.0" cy="138.5" rx="1.86" ry="1.68" fill="#6a6a6a"/><ellipse cx="6.3" cy="148.8" rx="1.35" ry="1.21" fill="#606060"/><ellipse cx="45.9" cy="142.5" rx="1.67" ry="1.50" fill="#676767"/><ellipse cx="82.4" cy="164.9" rx="1.54" ry="1.38" fill="#5c5c5c"/><ellipse cx="35.8" cy="153.0" rx="1.57" ry="1.42" fill="#686868"/><ellipse cx="22.1" cy="157.1" rx="1.81" ry="1.63" fill="#616161"/><ellipse cx="70.7" cy="213.4" rx="2.11" ry="1.90" fill="#303030"/><ellipse cx="78.8" cy="191.7" rx="2.01" ry="1.81" fill="#525252"/><ellipse cx="29.4" cy="177.5" rx="2.29" ry="2.06" fill="#474747"/><ellipse cx="57.6" cy="187.8" rx="2.01" ry="1.81" fill="#414141"/><ellipse cx="56.0" cy="157.7" rx="1.94" ry="1.75" fill="#5f5f5f"/><ellipse cx="18.7" cy="175.6" rx="2.24" ry="2.02" fill="#3d3d3d"/><ellipse cx="15.0" cy="191.2" rx="2.62" ry="2.36" fill="#181818"/><ellipse cx="49.8" cy="216.7" rx="2.12" ry="1.91" fill="#292929"/><ellipse cx="30.5" cy="168.8" rx="1.80" ry="1.62" fill="#444444"/><ellipse cx="37.5" cy="191.8" rx="2.15" ry="1.93" fill="#262626"/><ellipse cx="37.9" cy="147.5" rx="1.34" ry="1.20" fill="#5f5f5f"/><ellipse cx="58.0" cy="135.3" rx="1.70" ry="1.53" fill="#686868"/><ellipse cx="45.2" cy="135.4" rx="1.74" ry="1.56" fill="#6a6a6a"/><ellipse cx="3.4" cy="136.2" rx="1.67" ry="1.51" fill="#696969"/><ellipse cx="51.4" cy="183.6" rx="2.23" ry="2.00" fill="#353535"/><ellipse cx="45.3" cy="153.9" rx="1.67" ry="1.50" fill="#6f6f6f"/><ellipse cx="44.7" cy="159.9" rx="1.72" ry="1.55" fill="#595959"/><ellipse cx="57.3" cy="179.6" rx="1.82" ry="1.63" fill="#4a4a4a"/><ellipse cx="0.1" cy="160.8" rx="1.54" ry="1.39" fill="#4b4b4b"/><ellipse cx="78.9" cy="152.4" rx="1.58" ry="1.42" fill="#717171"/><ellipse cx="13.6" cy="169.0" rx="2.21" ry="1.99" fill="#333333"/><ellipse cx="51.1" cy="162.4" rx="2.01" ry="1.81" fill="#616161"/><ellipse cx="70.4" cy="172.9" rx="1.72" ry="1.55" fill="#5b5b5b"/><ellipse cx="26.0" cy="147.0" rx="1.44" ry="1.30" fill="#777777"/><ellipse cx="56.1" cy="202.4" rx="2.09" ry="1.89" fill="#3e3e3e"/><ellipse cx="46.9" cy="149.0" rx="1.57" ry="1.42" fill="#656565"/><ellipse cx="0.6" cy="143.5" rx="1.33" ry="1.19" fill="#5f5f5f"/><ellipse cx="54.5" cy="149.9" rx="1.33" ry="1.20" fill="#6f6f6f"/>
<rect x="1.2" y="136.5" width="80.1" height="79.2" fill="#fff" filter="url(#noise3)"/>
</g>
<rect x="19" y="136.5" width="43.6" height="17.3" fill="#b9cde0"/>
<text x="24.90" y="149.00" font-family='"Liberation Serif", serif' font-size="14.00" font-weight="normal" font-style="normal" fill="#000" text-anchor="start" >foam1</text>
<rect x="83.5" y="136.5" width="80.0" height="79.1" fill="#a2a2a2"/>
<rect x="83.5" y="136.5" width="80.0" height="79.1" fill="#000" filter="url(#noise2)"/>
<rect x="83.5" y="136.5" width="80.0" height="79.1" fill="#fff" filter="url(#noise3)"/>
<rect x="102" y="136.5" width="44.8" height="16.0" fill="#a9a9a9"/>
<text x="107.20" y="148.50" font-family='"Liberation Serif", serif' font-size="14.00" font-weight="normal" font-style="normal" fill="#000" text-anchor="start" >foam2</text>
<rect x="83.5" y="198" width="39.1" height="17.6" fill="#c0c0c0"/>
<text x="86.60" y="213.20" font-family='"Liberation Serif", serif' font-size="13.80" font-weight="normal" font-style="normal" fill="#000" text-anchor="start" >1 mm</text>
<path d="M96.1,201.8 L111.1,201.8" stroke="#000" stroke-width="1.2"/>
<path d="M164,43.8 L96,43.8 L96,52" stroke="#fafafa" stroke-width="3.8" fill="none"/>
<path d="M190,43.8 L96,43.8 L96,52" stroke="#606060" stroke-width="1.4" fill="none"/>
<path d="M96.00,57.00 L91.50,47.70 L96.00,51.30 L100.50,47.70 Z" fill="#000"/>
<path d="M190,61.5 L175.3,61.5 L175.3,119.9 L42.3,119.9 L42.3,130" stroke="#3c3c3c" stroke-width="1.25" fill="none"/>
<path d="M42.30,136.10 L37.80,126.80 L42.30,130.40 L46.80,126.80 Z" fill="#000"/>
<path d="M190,97.6 L182.5,97.6 L182.5,125.9 L121.6,125.9 L121.6,130" stroke="#3c3c3c" stroke-width="1.25" fill="none"/>
<path d="M121.60,136.00 L117.10,126.70 L121.60,130.30 L126.10,126.70 Z" fill="#000"/>
<text x="0.80" y="232.50" font-family='"Liberation Serif", serif' font-size="17.00" font-weight="bold" font-style="normal" fill="#000" text-anchor="start" >(c)</text>
<path d="M7.2,280.7 L48.3,280.7 L48.3,288.8 L16.8,288.8 L16.8,381 L49.1,381 L49.1,388.8 L7.2,388.8 Z" fill="#e6e6e6"/>
<path d="M162.7,280.8 L121,280.8 L121,289 L153,289 L153,381.6 L121.2,381.6 L121.2,389.4 L162.7,389.4 Z" fill="#e6e6e6"/>
<rect x="26" y="291.3" width="117.1" height="3.0" fill="#555"/>
<rect x="26" y="294.2" width="117.1" height="8.0" fill="#e8e000"/>
<rect x="26" y="302.1" width="117.1" height="1.4" fill="#f29ad6"/>
<rect x="23.3" y="303.4" width="122.6" height="24.0" fill="#c9e3f8"/>
<rect x="26" y="327.3" width="117.1" height="2.8" fill="#555"/>
<rect x="26" y="330.0" width="117.1" height="8.5" fill="#e8e000"/>
<rect x="26" y="338.4" width="117.1" height="1.6" fill="#f29ad6"/>
<rect x="23.3" y="340.2" width="122.7" height="22.8" fill="#a9a9a9"/>
<rect x="19.4" y="364" width="130.4" height="16.3" fill="#000"/>
<path d="M-1,289.4 C8,290.0 18,291.6 30,292.4" stroke="#111" stroke-width="1.9" fill="none" stroke-linecap="round"/>
<path d="M139,292.4 C150,291.8 160,290.4 170,288.0" stroke="#111" stroke-width="1.9" fill="none" stroke-linecap="round"/>
<path d="M-1,324.6 C8,325.4 18,327.0 30,327.8" stroke="#111" stroke-width="1.9" fill="none" stroke-linecap="round"/>
<path d="M139,327.8 C150,327.2 160,325.6 170,323.2" stroke="#111" stroke-width="1.9" fill="none" stroke-linecap="round"/>
<ellipse cx="33.0" cy="292.2" rx="6.3" ry="2.1" fill="#555"/>
<ellipse cx="136.0" cy="292.3" rx="6.3" ry="2.1" fill="#555"/>
<ellipse cx="33.0" cy="327.6" rx="6.3" ry="2.1" fill="#555"/>
<ellipse cx="136.0" cy="327.6" rx="6.3" ry="2.1" fill="#555"/>
<text x="0.80" y="245.00" font-family='"Liberation Serif", serif' font-size="13.70" font-weight="normal" font-style="normal" fill="#000" text-anchor="start" >carbon fiber</text>
<text x="126.60" y="245.00" font-family='"Liberation Serif", serif' font-size="13.70" font-weight="normal" font-style="normal" fill="#000" text-anchor="start" >clamp</text>
<text x="48.30" y="259.10" font-family='"Liberation Serif", serif' font-size="13.70" font-weight="normal" font-style="normal" fill="#000" text-anchor="start" >latex membrane</text>
<text x="11.30" y="273.00" font-family='"Liberation Serif", serif' font-size="13.70" font-weight="normal" font-style="normal" fill="#000" text-anchor="start" >sensing film</text>
<text x="99.30" y="273.90" font-family='"Liberation Serif", serif' font-size="13.70" font-weight="normal" font-style="normal" fill="#000" text-anchor="start" >glue</text>
<path d="M4.8,249.5 L4.8,290" stroke="#444" stroke-width="0.9"/>
<path d="M63.7,277.2 L63.7,291.5" stroke="#444" stroke-width="0.9"/>
<path d="M88.7,263 L88.7,298" stroke="#444" stroke-width="0.9"/>
<path d="M108.5,277.3 L108.5,302.5" stroke="#444" stroke-width="0.9"/>
<path d="M150.1,248.7 L150.1,280.6" stroke="#444" stroke-width="0.9"/>
<text x="26.60" y="319.00" font-family='"Liberation Serif", serif' font-size="13.70" font-weight="normal" font-style="normal" fill="#000" text-anchor="start" >open-cell foam1</text>
<text x="26.60" y="356.40" font-family='"Liberation Serif", serif' font-size="13.70" font-weight="normal" font-style="normal" fill="#000" text-anchor="start" >closed-cell foam2</text>
<text x="22.80" y="376.20" font-family='"Liberation Serif", serif' font-size="13.70" font-weight="normal" font-style="normal" fill="#fff" text-anchor="start" >substrate</text>
<text x="190.00" y="30.80" font-family='"Liberation Serif", serif' font-size="17.00" font-weight="bold" font-style="normal" fill="#000" text-anchor="start" >(d)</text>
<rect x="190.3" y="37.2" width="212.9" height="12.0" fill="#c8c400" stroke="#aaa600" stroke-width="0.7"/>
<rect x="190.0" y="49.2" width="213.6" height="24.0" fill="#c7e2fb"/>
<rect x="190.3" y="73.1" width="212.9" height="12.8" fill="#c8c400" stroke="#aaa600" stroke-width="0.7"/>
<rect x="190.0" y="86.0" width="213.6" height="23.3" fill="#aaaaaa"/>
<rect x="190.0" y="109.2" width="213.6" height="16.3" fill="#000"/>
<rect x="293.3" y="-2.00" width="6.4" height="16.30" fill="#c6c6c6" stroke="#999" stroke-width="0.8"/>
<rect x="288.00" y="14.30" width="17.10" height="18.50" rx="1.2" fill="#ffffa8" stroke="#d6d200" stroke-width="1.1"/>
<text x="310.20" y="20.60" font-family='"Liberation Serif", serif' font-size="14.00" font-weight="normal" font-style="normal" fill="#000" text-anchor="start" >probe</text>
<text x="204.60" y="47.60" font-family='"Liberation Serif", serif' font-size="13.90" font-weight="normal" font-style="normal" fill="#000" text-anchor="start" >skin1</text>
<text x="204.80" y="66.6" font-family='"Liberation Serif", serif' font-size="13.9"><tspan>foam1 </tspan><tspan font-style="italic" dx="0.3">(E</tspan><tspan font-style="italic" font-size="10" dy="3.8">1</tspan><tspan font-style="italic" dy="-3.8" dx="0.2">)</tspan></text>
<text x="204.60" y="84.60" font-family='"Liberation Serif", serif' font-size="13.90" font-weight="normal" font-style="normal" fill="#000" text-anchor="start" >skin2</text>
<text x="204.80" y="100.9" font-family='"Liberation Serif", serif' font-size="13.9"><tspan>foam2 </tspan><tspan font-style="italic" dx="1">(E</tspan><tspan font-style="italic" font-size="10" dy="3.8">2</tspan><tspan dy="-3.8" dx="3.4" font-size="15.5">&gt;</tspan><tspan font-style="italic" dx="2.4">E</tspan><tspan font-style="italic" font-size="10" dy="3.8">1</tspan><tspan font-style="italic" dy="-3.8" dx="0.6">)</tspan></text>
<text x="204.60" y="121.60" font-family='"Liberation Serif", serif' font-size="13.90" font-weight="normal" font-style="normal" fill="#fff" text-anchor="start" >rigid substrate</text>
<path d="M371.8,53.00 L371.8,70.20" stroke="#333" stroke-width="1.1"/>
<path d="M369.5,55.40 L371.8,50.00 L374.1,55.40 Z" fill="#000"/>
<path d="M369.5,67.80 L371.8,73.20 L374.1,67.80 Z" fill="#000"/>
<text x="376.3" y="64.20" font-family='"Liberation Serif", serif' font-size="14" font-style="italic">d<tspan font-size="10" dy="5.8" dx="-0.4">1</tspan></text>
<path d="M371.8,89.40 L371.8,105.80" stroke="#333" stroke-width="1.1"/>
<path d="M369.5,91.80 L371.8,86.40 L374.1,91.80 Z" fill="#000"/>
<path d="M369.5,103.40 L371.8,108.80 L374.1,103.40 Z" fill="#000"/>
<text x="376.3" y="100.60" font-family='"Liberation Serif", serif' font-size="14" font-style="italic">d<tspan font-size="10" dy="6.0" dx="-0.4">2</tspan></text>
<path d="M379.5,21.5 L379.5,5" stroke="#3a3a3a" stroke-width="1.2"/>
<path d="M377.6,8.8 L379.5,2.9 L381.4,8.8 Z" fill="#000"/>
<path d="M379.5,21.5 L394.5,21.5" stroke="#3a3a3a" stroke-width="1.2"/>
<path d="M393,19.3 L398,21.5 L393,23.7 Z" fill="#000"/>
<path d="M379.5,21.5 L371.5,30" stroke="#3a3a3a" stroke-width="1.2"/>
<path d="M370.5,27.3 L368.6,32.7 L373.8,30.5 Z" fill="#000"/>
<text x="383.90" y="8.00" font-family='"Liberation Sans", sans-serif' font-size="10.50" font-weight="normal" font-style="normal" fill="#000" text-anchor="start" >z</text>
<text x="396.00" y="18.90" font-family='"Liberation Sans", sans-serif' font-size="10.50" font-weight="normal" font-style="normal" fill="#000" text-anchor="start" >x</text>
<text x="365.50" y="25.60" font-family='"Liberation Sans", sans-serif' font-size="10.50" font-weight="normal" font-style="normal" fill="#000" text-anchor="start" >y</text>
<text x="189.20" y="169.00" font-family='"Liberation Serif", serif' font-size="17.00" font-weight="bold" font-style="normal" fill="#000" text-anchor="start" >(e)</text>
<path d="M190.00,186.30 L191.19,186.30 L192.37,186.30 L193.56,186.30 L194.75,186.30 L195.93,186.30 L197.12,186.30 L198.31,186.30 L199.49,186.30 L200.68,186.30 L201.87,186.31 L203.05,186.31 L204.24,186.32 L205.43,186.33 L206.61,186.33 L207.80,186.34 L208.99,186.35 L210.17,186.36 L211.36,186.37 L212.55,186.39 L213.73,186.40 L214.92,186.41 L216.11,186.43 L217.29,186.44 L218.48,186.45 L219.67,186.47 L220.85,186.48 L222.04,186.50 L223.23,186.53 L224.41,186.55 L225.60,186.58 L226.79,186.61 L227.97,186.65 L229.16,186.69 L230.35,186.73 L231.53,186.78 L232.72,186.83 L233.91,186.88 L235.09,186.94 L236.28,187.00 L237.47,187.06 L238.65,187.12 L239.84,187.19 L241.03,187.26 L242.21,187.33 L243.40,187.41 L244.59,187.48 L245.77,187.56 L246.96,187.65 L248.15,187.73 L249.33,187.82 L250.52,187.91 L251.71,188.00 L252.89,188.12 L254.08,188.25 L255.27,188.40 L256.45,188.56 L257.64,188.73 L258.83,188.92 L260.01,189.12 L261.20,189.32 L262.39,189.54 L263.57,189.76 L264.76,189.98 L265.95,190.21 L267.13,190.45 L268.32,190.68 L269.51,190.92 L270.69,191.15 L271.88,191.39 L273.07,191.62 L274.25,191.83 L275.44,192.02 L276.63,192.17 L277.81,192.32 L279.00,192.47 L280.19,192.64 L281.37,192.83 L282.56,193.08 L283.75,193.38 L284.93,193.75 L286.12,194.21 L287.31,194.94 L288.49,195.30 L289.68,195.30 L290.87,195.30 L292.05,195.30 L293.24,195.30 L294.43,195.30 L295.61,195.30 L296.80,195.30 L297.99,195.30 L299.17,195.30 L300.36,195.30 L301.55,195.30 L302.73,195.30 L303.92,195.30 L305.11,195.30 L306.29,194.93 L307.48,194.42 L308.67,193.94 L309.85,193.45 L311.04,192.98 L312.23,192.52 L313.41,192.09 L314.60,191.68 L315.79,191.32 L316.97,191.00 L318.16,190.72 L319.35,190.47 L320.53,190.23 L321.72,190.00 L322.91,189.79 L324.09,189.59 L325.28,189.40 L326.47,189.22 L327.65,189.06 L328.84,188.90 L330.03,188.76 L331.21,188.63 L332.40,188.51 L333.59,188.40 L334.77,188.29 L335.96,188.19 L337.15,188.09 L338.33,188.00 L339.52,187.91 L340.71,187.82 L341.89,187.74 L343.08,187.66 L344.27,187.58 L345.45,187.51 L346.64,187.44 L347.83,187.37 L349.01,187.31 L350.20,187.25 L351.39,187.20 L352.57,187.14 L353.76,187.09 L354.95,187.05 L356.13,187.00 L357.32,186.96 L358.51,186.92 L359.69,186.88 L360.88,186.84 L362.07,186.80 L363.25,186.75 L364.44,186.71 L365.63,186.68 L366.81,186.64 L368.00,186.60 L369.19,186.57 L370.37,186.53 L371.56,186.50 L372.75,186.47 L373.93,186.44 L375.12,186.42 L376.31,186.39 L377.49,186.37 L378.68,186.35 L379.87,186.34 L381.05,186.32 L382.24,186.31 L383.43,186.31 L384.61,186.30 L385.80,186.30 L386.99,186.30 L388.17,186.30 L389.36,186.30 L390.55,186.30 L391.73,186.30 L392.92,186.30 L394.11,186.30 L395.29,186.30 L396.48,186.30 L397.67,186.30 L398.85,186.30 L400.04,186.30 L401.23,186.30 L402.41,186.30 L403.60,186.30 L403.60,208.60 L402.41,208.60 L401.23,208.60 L400.04,208.60 L398.85,208.60 L397.67,208.60 L396.48,208.60 L395.29,208.60 L394.11,208.60 L392.92,208.60 L391.73,208.60 L390.55,208.60 L389.36,208.60 L388.17,208.60 L386.99,208.60 L385.80,208.60 L384.61,208.60 L383.43,208.60 L382.24,208.60 L381.05,208.60 L379.87,208.60 L378.68,208.60 L377.49,208.60 L376.31,208.60 L375.12,208.60 L373.93,208.60 L372.75,208.60 L371.56,208.60 L370.37,208.60 L369.19,208.60 L368.00,208.60 L366.81,208.60 L365.63,208.60 L364.44,208.60 L363.25,208.60 L362.07,208.60 L360.88,208.60 L359.69,208.60 L358.51,208.60 L357.32,208.60 L356.13,208.60 L354.95,208.60 L353.76,208.60 L352.57,208.60 L351.39,208.60 L350.20,208.60 L349.01,208.60 L347.83,208.60 L346.64,208.60 L345.45,208.60 L344.27,208.60 L343.08,208.60 L341.89,208.60 L340.71,208.60 L339.52,208.60 L338.33,208.60 L337.15,208.60 L335.96,208.60 L334.77,208.60 L333.59,208.60 L332.40,208.60 L331.21,208.60 L330.03,208.60 L328.84,208.60 L327.65,208.60 L326.47,208.60 L325.28,208.60 L324.09,208.60 L322.91,208.60 L321.72,208.60 L320.53,208.60 L319.35,208.60 L318.16,208.60 L316.97,208.60 L315.79,208.60 L314.60,208.60 L313.41,208.60 L312.23,208.60 L311.04,208.60 L309.85,208.60 L308.67,208.60 L307.48,208.60 L306.29,208.60 L305.11,208.60 L303.92,208.60 L302.73,208.60 L301.55,208.60 L300.36,208.60 L299.17,208.60 L297.99,208.60 L296.80,208.60 L295.61,208.60 L294.43,208.60 L293.24,208.60 L292.05,208.60 L290.87,208.60 L289.68,208.60 L288.49,208.60 L287.31,208.60 L286.12,208.60 L284.93,208.60 L283.75,208.60 L282.56,208.60 L281.37,208.60 L280.19,208.60 L279.00,208.60 L277.81,208.60 L276.63,208.60 L275.44,208.60 L274.25,208.60 L273.07,208.60 L271.88,208.60 L270.69,208.60 L269.51,208.60 L268.32,208.60 L267.13,208.60 L265.95,208.60 L264.76,208.60 L263.57,208.60 L262.39,208.60 L261.20,208.60 L260.01,208.60 L258.83,208.60 L257.64,208.60 L256.45,208.60 L255.27,208.60 L254.08,208.60 L252.89,208.60 L251.71,208.60 L250.52,208.60 L249.33,208.60 L248.15,208.60 L246.96,208.60 L245.77,208.60 L244.59,208.60 L243.40,208.60 L242.21,208.60 L241.03,208.60 L239.84,208.60 L238.65,208.60 L237.47,208.60 L236.28,208.60 L235.09,208.60 L233.91,208.60 L232.72,208.60 L231.53,208.60 L230.35,208.60 L229.16,208.60 L227.97,208.60 L226.79,208.60 L225.60,208.60 L224.41,208.60 L223.23,208.60 L222.04,208.60 L220.85,208.60 L219.67,208.60 L218.48,208.60 L217.29,208.60 L216.11,208.60 L214.92,208.60 L213.73,208.60 L212.55,208.60 L211.36,208.60 L210.17,208.60 L208.99,208.60 L207.80,208.60 L206.61,208.60 L205.43,208.60 L204.24,208.60 L203.05,208.60 L201.87,208.60 L200.68,208.60 L199.49,208.60 L198.31,208.60 L197.12,208.60 L195.93,208.60 L194.75,208.60 L193.56,208.60 L192.37,208.60 L191.19,208.60 L190.00,208.60 Z" fill="#c7e2fb"/>
<path d="M190.00,174.40 L191.19,174.40 L192.37,174.40 L193.56,174.41 L194.75,174.41 L195.93,174.42 L197.12,174.43 L198.31,174.44 L199.49,174.45 L200.68,174.47 L201.87,174.48 L203.05,174.50 L204.24,174.52 L205.43,174.54 L206.61,174.56 L207.80,174.58 L208.99,174.61 L210.17,174.63 L211.36,174.66 L212.55,174.69 L213.73,174.71 L214.92,174.74 L216.11,174.77 L217.29,174.80 L218.48,174.84 L219.67,174.87 L220.85,174.90 L222.04,174.94 L223.23,174.99 L224.41,175.05 L225.60,175.12 L226.79,175.20 L227.97,175.28 L229.16,175.38 L230.35,175.48 L231.53,175.58 L232.72,175.70 L233.91,175.81 L235.09,175.94 L236.28,176.07 L237.47,176.20 L238.65,176.34 L239.84,176.48 L241.03,176.63 L242.21,176.78 L243.40,176.93 L244.59,177.08 L245.77,177.24 L246.96,177.40 L248.15,177.56 L249.33,177.72 L250.52,177.88 L251.71,178.05 L252.89,178.22 L254.08,178.41 L255.27,178.60 L256.45,178.81 L257.64,179.02 L258.83,179.24 L260.01,179.47 L261.20,179.71 L262.39,179.95 L263.57,180.20 L264.76,180.46 L265.95,180.72 L267.13,180.99 L268.32,181.27 L269.51,181.55 L270.69,181.83 L271.88,182.12 L273.07,182.41 L274.25,182.72 L275.44,183.10 L276.63,183.54 L277.81,184.01 L279.00,184.50 L280.19,184.99 L281.37,185.45 L282.56,185.86 L283.75,186.22 L284.93,186.49 L286.12,186.65 L287.31,186.70 L288.49,186.70 L289.68,186.70 L290.87,186.70 L292.05,186.70 L293.24,186.70 L294.43,186.70 L295.61,186.70 L296.80,186.70 L297.99,186.70 L299.17,186.70 L300.36,186.70 L301.55,186.70 L302.73,186.70 L303.92,186.70 L305.11,186.70 L306.29,186.51 L307.48,186.21 L308.67,185.80 L309.85,185.26 L311.04,184.60 L312.23,183.89 L313.41,183.15 L314.60,182.43 L315.79,181.78 L316.97,181.22 L318.16,180.81 L319.35,180.44 L320.53,180.10 L321.72,179.78 L322.91,179.47 L324.09,179.18 L325.28,178.91 L326.47,178.66 L327.65,178.43 L328.84,178.21 L330.03,178.01 L331.21,177.83 L332.40,177.66 L333.59,177.51 L334.77,177.37 L335.96,177.23 L337.15,177.10 L338.33,176.97 L339.52,176.85 L340.71,176.73 L341.89,176.62 L343.08,176.52 L344.27,176.41 L345.45,176.32 L346.64,176.22 L347.83,176.14 L349.01,176.05 L350.20,175.97 L351.39,175.89 L352.57,175.82 L353.76,175.74 L354.95,175.67 L356.13,175.61 L357.32,175.54 L358.51,175.47 L359.69,175.40 L360.88,175.33 L362.07,175.26 L363.25,175.19 L364.44,175.13 L365.63,175.06 L366.81,175.00 L368.00,174.93 L369.19,174.87 L370.37,174.81 L371.56,174.76 L372.75,174.71 L373.93,174.66 L375.12,174.61 L376.31,174.57 L377.49,174.53 L378.68,174.50 L379.87,174.47 L381.05,174.44 L382.24,174.42 L383.43,174.41 L384.61,174.40 L385.80,174.40 L386.99,174.40 L388.17,174.40 L389.36,174.40 L390.55,174.40 L391.73,174.40 L392.92,174.40 L394.11,174.40 L395.29,174.40 L396.48,174.40 L397.67,174.40 L398.85,174.40 L400.04,174.40 L401.23,174.40 L402.41,174.40 L403.60,174.40 L403.60,186.30 L402.41,186.30 L401.23,186.30 L400.04,186.30 L398.85,186.30 L397.67,186.30 L396.48,186.30 L395.29,186.30 L394.11,186.30 L392.92,186.30 L391.73,186.30 L390.55,186.30 L389.36,186.30 L388.17,186.30 L386.99,186.30 L385.80,186.30 L384.61,186.30 L383.43,186.31 L382.24,186.31 L381.05,186.32 L379.87,186.34 L378.68,186.35 L377.49,186.37 L376.31,186.39 L375.12,186.42 L373.93,186.44 L372.75,186.47 L371.56,186.50 L370.37,186.53 L369.19,186.57 L368.00,186.60 L366.81,186.64 L365.63,186.68 L364.44,186.71 L363.25,186.75 L362.07,186.80 L360.88,186.84 L359.69,186.88 L358.51,186.92 L357.32,186.96 L356.13,187.00 L354.95,187.05 L353.76,187.09 L352.57,187.14 L351.39,187.20 L350.20,187.25 L349.01,187.31 L347.83,187.37 L346.64,187.44 L345.45,187.51 L344.27,187.58 L343.08,187.66 L341.89,187.74 L340.71,187.82 L339.52,187.91 L338.33,188.00 L337.15,188.09 L335.96,188.19 L334.77,188.29 L333.59,188.40 L332.40,188.51 L331.21,188.63 L330.03,188.76 L328.84,188.90 L327.65,189.06 L326.47,189.22 L325.28,189.40 L324.09,189.59 L322.91,189.79 L321.72,190.00 L320.53,190.23 L319.35,190.47 L318.16,190.72 L316.97,191.00 L315.79,191.32 L314.60,191.68 L313.41,192.09 L312.23,192.52 L311.04,192.98 L309.85,193.45 L308.67,193.94 L307.48,194.42 L306.29,194.93 L305.11,195.30 L303.92,195.30 L302.73,195.30 L301.55,195.30 L300.36,195.30 L299.17,195.30 L297.99,195.30 L296.80,195.30 L295.61,195.30 L294.43,195.30 L293.24,195.30 L292.05,195.30 L290.87,195.30 L289.68,195.30 L288.49,195.30 L287.31,194.94 L286.12,194.21 L284.93,193.75 L283.75,193.38 L282.56,193.08 L281.37,192.83 L280.19,192.64 L279.00,192.47 L277.81,192.32 L276.63,192.17 L275.44,192.02 L274.25,191.83 L273.07,191.62 L271.88,191.39 L270.69,191.15 L269.51,190.92 L268.32,190.68 L267.13,190.45 L265.95,190.21 L264.76,189.98 L263.57,189.76 L262.39,189.54 L261.20,189.32 L260.01,189.12 L258.83,188.92 L257.64,188.73 L256.45,188.56 L255.27,188.40 L254.08,188.25 L252.89,188.12 L251.71,188.00 L250.52,187.91 L249.33,187.82 L248.15,187.73 L246.96,187.65 L245.77,187.56 L244.59,187.48 L243.40,187.41 L242.21,187.33 L241.03,187.26 L239.84,187.19 L238.65,187.12 L237.47,187.06 L236.28,187.00 L235.09,186.94 L233.91,186.88 L232.72,186.83 L231.53,186.78 L230.35,186.73 L229.16,186.69 L227.97,186.65 L226.79,186.61 L225.60,186.58 L224.41,186.55 L223.23,186.53 L222.04,186.50 L220.85,186.48 L219.67,186.47 L218.48,186.45 L217.29,186.44 L216.11,186.43 L214.92,186.41 L213.73,186.40 L212.55,186.39 L211.36,186.37 L210.17,186.36 L208.99,186.35 L207.80,186.34 L206.61,186.33 L205.43,186.33 L204.24,186.32 L203.05,186.31 L201.87,186.31 L200.68,186.30 L199.49,186.30 L198.31,186.30 L197.12,186.30 L195.93,186.30 L194.75,186.30 L193.56,186.30 L192.37,186.30 L191.19,186.30 L190.00,186.30 Z" fill="#c8c400" stroke="#aaa600" stroke-width="0.7"/>
<path d="M190.00,208.60 L191.19,208.60 L192.37,208.60 L193.56,208.60 L194.75,208.60 L195.93,208.60 L197.12,208.60 L198.31,208.60 L199.49,208.60 L200.68,208.60 L201.87,208.60 L203.05,208.60 L204.24,208.60 L205.43,208.60 L206.61,208.60 L207.80,208.60 L208.99,208.60 L210.17,208.60 L211.36,208.60 L212.55,208.60 L213.73,208.60 L214.92,208.60 L216.11,208.60 L217.29,208.60 L218.48,208.60 L219.67,208.60 L220.85,208.60 L222.04,208.60 L223.23,208.60 L224.41,208.60 L225.60,208.60 L226.79,208.60 L227.97,208.60 L229.16,208.60 L230.35,208.60 L231.53,208.60 L232.72,208.60 L233.91,208.60 L235.09,208.60 L236.28,208.60 L237.47,208.60 L238.65,208.60 L239.84,208.60 L241.03,208.60 L242.21,208.60 L243.40,208.60 L244.59,208.60 L245.77,208.60 L246.96,208.60 L248.15,208.60 L249.33,208.60 L250.52,208.60 L251.71,208.60 L252.89,208.60 L254.08,208.60 L255.27,208.60 L256.45,208.60 L257.64,208.60 L258.83,208.60 L260.01,208.60 L261.20,208.60 L262.39,208.60 L263.57,208.60 L264.76,208.60 L265.95,208.60 L267.13,208.60 L268.32,208.60 L269.51,208.60 L270.69,208.60 L271.88,208.60 L273.07,208.60 L274.25,208.60 L275.44,208.60 L276.63,208.60 L277.81,208.60 L279.00,208.60 L280.19,208.60 L281.37,208.60 L282.56,208.60 L283.75,208.60 L284.93,208.60 L286.12,208.60 L287.31,208.60 L288.49,208.60 L289.68,208.60 L290.87,208.60 L292.05,208.60 L293.24,208.60 L294.43,208.60 L295.61,208.60 L296.80,208.60 L297.99,208.60 L299.17,208.60 L300.36,208.60 L301.55,208.60 L302.73,208.60 L303.92,208.60 L305.11,208.60 L306.29,208.60 L307.48,208.60 L308.67,208.60 L309.85,208.60 L311.04,208.60 L312.23,208.60 L313.41,208.60 L314.60,208.60 L315.79,208.60 L316.97,208.60 L318.16,208.60 L319.35,208.60 L320.53,208.60 L321.72,208.60 L322.91,208.60 L324.09,208.60 L325.28,208.60 L326.47,208.60 L327.65,208.60 L328.84,208.60 L330.03,208.60 L331.21,208.60 L332.40,208.60 L333.59,208.60 L334.77,208.60 L335.96,208.60 L337.15,208.60 L338.33,208.60 L339.52,208.60 L340.71,208.60 L341.89,208.60 L343.08,208.60 L344.27,208.60 L345.45,208.60 L346.64,208.60 L347.83,208.60 L349.01,208.60 L350.20,208.60 L351.39,208.60 L352.57,208.60 L353.76,208.60 L354.95,208.60 L356.13,208.60 L357.32,208.60 L358.51,208.60 L359.69,208.60 L360.88,208.60 L362.07,208.60 L363.25,208.60 L364.44,208.60 L365.63,208.60 L366.81,208.60 L368.00,208.60 L369.19,208.60 L370.37,208.60 L371.56,208.60 L372.75,208.60 L373.93,208.60 L375.12,208.60 L376.31,208.60 L377.49,208.60 L378.68,208.60 L379.87,208.60 L381.05,208.60 L382.24,208.60 L383.43,208.60 L384.61,208.60 L385.80,208.60 L386.99,208.60 L388.17,208.60 L389.36,208.60 L390.55,208.60 L391.73,208.60 L392.92,208.60 L394.11,208.60 L395.29,208.60 L396.48,208.60 L397.67,208.60 L398.85,208.60 L400.04,208.60 L401.23,208.60 L402.41,208.60 L403.60,208.60 L403.60,221.50 L402.41,221.50 L401.23,221.50 L400.04,221.50 L398.85,221.50 L397.67,221.50 L396.48,221.50 L395.29,221.50 L394.11,221.50 L392.92,221.50 L391.73,221.50 L390.55,221.50 L389.36,221.50 L388.17,221.50 L386.99,221.50 L385.80,221.50 L384.61,221.50 L383.43,221.50 L382.24,221.50 L381.05,221.50 L379.87,221.50 L378.68,221.50 L377.49,221.50 L376.31,221.50 L375.12,221.50 L373.93,221.50 L372.75,221.50 L371.56,221.50 L370.37,221.50 L369.19,221.50 L368.00,221.50 L366.81,221.50 L365.63,221.50 L364.44,221.50 L363.25,221.50 L362.07,221.50 L360.88,221.50 L359.69,221.50 L358.51,221.50 L357.32,221.50 L356.13,221.50 L354.95,221.50 L353.76,221.50 L352.57,221.50 L351.39,221.50 L350.20,221.50 L349.01,221.50 L347.83,221.50 L346.64,221.50 L345.45,221.50 L344.27,221.50 L343.08,221.50 L341.89,221.50 L340.71,221.50 L339.52,221.50 L338.33,221.50 L337.15,221.50 L335.96,221.50 L334.77,221.50 L333.59,221.50 L332.40,221.50 L331.21,221.50 L330.03,221.50 L328.84,221.50 L327.65,221.50 L326.47,221.50 L325.28,221.50 L324.09,221.50 L322.91,221.50 L321.72,221.50 L320.53,221.50 L319.35,221.50 L318.16,221.50 L316.97,221.50 L315.79,221.50 L314.60,221.50 L313.41,221.50 L312.23,221.50 L311.04,221.50 L309.85,221.50 L308.67,221.50 L307.48,221.50 L306.29,221.50 L305.11,221.50 L303.92,221.50 L302.73,221.50 L301.55,221.50 L300.36,221.50 L299.17,221.50 L297.99,221.50 L296.80,221.50 L295.61,221.50 L294.43,221.50 L293.24,221.50 L292.05,221.50 L290.87,221.50 L289.68,221.50 L288.49,221.50 L287.31,221.50 L286.12,221.50 L284.93,221.50 L283.75,221.50 L282.56,221.50 L281.37,221.50 L280.19,221.50 L279.00,221.50 L277.81,221.50 L276.63,221.50 L275.44,221.50 L274.25,221.50 L273.07,221.50 L271.88,221.50 L270.69,221.50 L269.51,221.50 L268.32,221.50 L267.13,221.50 L265.95,221.50 L264.76,221.50 L263.57,221.50 L262.39,221.50 L261.20,221.50 L260.01,221.50 L258.83,221.50 L257.64,221.50 L256.45,221.50 L255.27,221.50 L254.08,221.50 L252.89,221.50 L251.71,221.50 L250.52,221.50 L249.33,221.50 L248.15,221.50 L246.96,221.50 L245.77,221.50 L244.59,221.50 L243.40,221.50 L242.21,221.50 L241.03,221.50 L239.84,221.50 L238.65,221.50 L237.47,221.50 L236.28,221.50 L235.09,221.50 L233.91,221.50 L232.72,221.50 L231.53,221.50 L230.35,221.50 L229.16,221.50 L227.97,221.50 L226.79,221.50 L225.60,221.50 L224.41,221.50 L223.23,221.50 L222.04,221.50 L220.85,221.50 L219.67,221.50 L218.48,221.50 L217.29,221.50 L216.11,221.50 L214.92,221.50 L213.73,221.50 L212.55,221.50 L211.36,221.50 L210.17,221.50 L208.99,221.50 L207.80,221.50 L206.61,221.50 L205.43,221.50 L204.24,221.50 L203.05,221.50 L201.87,221.50 L200.68,221.50 L199.49,221.50 L198.31,221.50 L197.12,221.50 L195.93,221.50 L194.75,221.50 L193.56,221.50 L192.37,221.50 L191.19,221.50 L190.00,221.50 Z" fill="#c8c400" stroke="#aaa600" stroke-width="0.7"/>
<polyline points="190.00,208.60 191.19,208.60 192.37,208.60 193.56,208.60 194.75,208.60 195.93,208.60 197.12,208.60 198.31,208.60 199.49,208.60 200.68,208.60 201.87,208.60 203.05,208.60 204.24,208.60 205.43,208.60 206.61,208.60 207.80,208.60 208.99,208.60 210.17,208.60 211.36,208.60 212.55,208.60 213.73,208.60 214.92,208.60 216.11,208.60 217.29,208.60 218.48,208.60 219.67,208.60 220.85,208.60 222.04,208.60 223.23,208.60 224.41,208.60 225.60,208.60 226.79,208.60 227.97,208.60 229.16,208.60 230.35,208.60 231.53,208.60 232.72,208.60 233.91,208.60 235.09,208.60 236.28,208.60 237.47,208.60 238.65,208.60 239.84,208.60 241.03,208.60 242.21,208.60 243.40,208.60 244.59,208.60 245.77,208.60 246.96,208.60 248.15,208.60 249.33,208.60 250.52,208.60 251.71,208.60 252.89,208.60 254.08,208.60 255.27,208.60 256.45,208.60 257.64,208.60 258.83,208.60 260.01,208.60 261.20,208.60 262.39,208.60 263.57,208.60 264.76,208.60 265.95,208.60 267.13,208.60 268.32,208.60 269.51,208.60 270.69,208.60 271.88,208.60 273.07,208.60 274.25,208.60 275.44,208.60 276.63,208.60 277.81,208.60 279.00,208.60 280.19,208.60 281.37,208.60 282.56,208.60 283.75,208.60 284.93,208.60 286.12,208.60 287.31,208.60 288.49,208.60 289.68,208.60 290.87,208.60 292.05,208.60 293.24,208.60 294.43,208.60 295.61,208.60 296.80,208.60 297.99,208.60 299.17,208.60 300.36,208.60 301.55,208.60 302.73,208.60 303.92,208.60 305.11,208.60 306.29,208.60 307.48,208.60 308.67,208.60 309.85,208.60 311.04,208.60 312.23,208.60 313.41,208.60 314.60,208.60 315.79,208.60 316.97,208.60 318.16,208.60 319.35,208.60 320.53,208.60 321.72,208.60 322.91,208.60 324.09,208.60 325.28,208.60 326.47,208.60 327.65,208.60 328.84,208.60 330.03,208.60 331.21,208.60 332.40,208.60 333.59,208.60 334.77,208.60 335.96,208.60 337.15,208.60 338.33,208.60 339.52,208.60 340.71,208.60 341.89,208.60 343.08,208.60 344.27,208.60 345.45,208.60 346.64,208.60 347.83,208.60 349.01,208.60 350.20,208.60 351.39,208.60 352.57,208.60 353.76,208.60 354.95,208.60 356.13,208.60 357.32,208.60 358.51,208.60 359.69,208.60 360.88,208.60 362.07,208.60 363.25,208.60 364.44,208.60 365.63,208.60 366.81,208.60 368.00,208.60 369.19,208.60 370.37,208.60 371.56,208.60 372.75,208.60 373.93,208.60 375.12,208.60 376.31,208.60 377.49,208.60 378.68,208.60 379.87,208.60 381.05,208.60 382.24,208.60 383.43,208.60 384.61,208.60 385.80,208.60 386.99,208.60 388.17,208.60 389.36,208.60 390.55,208.60 391.73,208.60 392.92,208.60 394.11,208.60 395.29,208.60 396.48,208.60 397.67,208.60 398.85,208.60 400.04,208.60 401.23,208.60 402.41,208.60 403.60,208.60" fill="none" stroke="#79b0e4" stroke-width="0.80"/>
<path d="M190.00,221.50 L191.19,221.50 L192.37,221.50 L193.56,221.50 L194.75,221.50 L195.93,221.50 L197.12,221.50 L198.31,221.50 L199.49,221.50 L200.68,221.50 L201.87,221.50 L203.05,221.50 L204.24,221.50 L205.43,221.50 L206.61,221.50 L207.80,221.50 L208.99,221.50 L210.17,221.50 L211.36,221.50 L212.55,221.50 L213.73,221.50 L214.92,221.50 L216.11,221.50 L217.29,221.50 L218.48,221.50 L219.67,221.50 L220.85,221.50 L222.04,221.50 L223.23,221.50 L224.41,221.50 L225.60,221.50 L226.79,221.50 L227.97,221.50 L229.16,221.50 L230.35,221.50 L231.53,221.50 L232.72,221.50 L233.91,221.50 L235.09,221.50 L236.28,221.50 L237.47,221.50 L238.65,221.50 L239.84,221.50 L241.03,221.50 L242.21,221.50 L243.40,221.50 L244.59,221.50 L245.77,221.50 L246.96,221.50 L248.15,221.50 L249.33,221.50 L250.52,221.50 L251.71,221.50 L252.89,221.50 L254.08,221.50 L255.27,221.50 L256.45,221.50 L257.64,221.50 L258.83,221.50 L260.01,221.50 L261.20,221.50 L262.39,221.50 L263.57,221.50 L264.76,221.50 L265.95,221.50 L267.13,221.50 L268.32,221.50 L269.51,221.50 L270.69,221.50 L271.88,221.50 L273.07,221.50 L274.25,221.50 L275.44,221.50 L276.63,221.50 L277.81,221.50 L279.00,221.50 L280.19,221.50 L281.37,221.50 L282.56,221.50 L283.75,221.50 L284.93,221.50 L286.12,221.50 L287.31,221.50 L288.49,221.50 L289.68,221.50 L290.87,221.50 L292.05,221.50 L293.24,221.50 L294.43,221.50 L295.61,221.50 L296.80,221.50 L297.99,221.50 L299.17,221.50 L300.36,221.50 L301.55,221.50 L302.73,221.50 L303.92,221.50 L305.11,221.50 L306.29,221.50 L307.48,221.50 L308.67,221.50 L309.85,221.50 L311.04,221.50 L312.23,221.50 L313.41,221.50 L314.60,221.50 L315.79,221.50 L316.97,221.50 L318.16,221.50 L319.35,221.50 L320.53,221.50 L321.72,221.50 L322.91,221.50 L324.09,221.50 L325.28,221.50 L326.47,221.50 L327.65,221.50 L328.84,221.50 L330.03,221.50 L331.21,221.50 L332.40,221.50 L333.59,221.50 L334.77,221.50 L335.96,221.50 L337.15,221.50 L338.33,221.50 L339.52,221.50 L340.71,221.50 L341.89,221.50 L343.08,221.50 L344.27,221.50 L345.45,221.50 L346.64,221.50 L347.83,221.50 L349.01,221.50 L350.20,221.50 L351.39,221.50 L352.57,221.50 L353.76,221.50 L354.95,221.50 L356.13,221.50 L357.32,221.50 L358.51,221.50 L359.69,221.50 L360.88,221.50 L362.07,221.50 L363.25,221.50 L364.44,221.50 L365.63,221.50 L366.81,221.50 L368.00,221.50 L369.19,221.50 L370.37,221.50 L371.56,221.50 L372.75,221.50 L373.93,221.50 L375.12,221.50 L376.31,221.50 L377.49,221.50 L378.68,221.50 L379.87,221.50 L381.05,221.50 L382.24,221.50 L383.43,221.50 L384.61,221.50 L385.80,221.50 L386.99,221.50 L388.17,221.50 L389.36,221.50 L390.55,221.50 L391.73,221.50 L392.92,221.50 L394.11,221.50 L395.29,221.50 L396.48,221.50 L397.67,221.50 L398.85,221.50 L400.04,221.50 L401.23,221.50 L402.41,221.50 L403.60,221.50 L403.60,244.80 L402.41,244.80 L401.23,244.80 L400.04,244.80 L398.85,244.80 L397.67,244.80 L396.48,244.80 L395.29,244.80 L394.11,244.80 L392.92,244.80 L391.73,244.80 L390.55,244.80 L389.36,244.80 L388.17,244.80 L386.99,244.80 L385.80,244.80 L384.61,244.80 L383.43,244.80 L382.24,244.80 L381.05,244.80 L379.87,244.80 L378.68,244.80 L377.49,244.80 L376.31,244.80 L375.12,244.80 L373.93,244.80 L372.75,244.80 L371.56,244.80 L370.37,244.80 L369.19,244.80 L368.00,244.80 L366.81,244.80 L365.63,244.80 L364.44,244.80 L363.25,244.80 L362.07,244.80 L360.88,244.80 L359.69,244.80 L358.51,244.80 L357.32,244.80 L356.13,244.80 L354.95,244.80 L353.76,244.80 L352.57,244.80 L351.39,244.80 L350.20,244.80 L349.01,244.80 L347.83,244.80 L346.64,244.80 L345.45,244.80 L344.27,244.80 L343.08,244.80 L341.89,244.80 L340.71,244.80 L339.52,244.80 L338.33,244.80 L337.15,244.80 L335.96,244.80 L334.77,244.80 L333.59,244.80 L332.40,244.80 L331.21,244.80 L330.03,244.80 L328.84,244.80 L327.65,244.80 L326.47,244.80 L325.28,244.80 L324.09,244.80 L322.91,244.80 L321.72,244.80 L320.53,244.80 L319.35,244.80 L318.16,244.80 L316.97,244.80 L315.79,244.80 L314.60,244.80 L313.41,244.80 L312.23,244.80 L311.04,244.80 L309.85,244.80 L308.67,244.80 L307.48,244.80 L306.29,244.80 L305.11,244.80 L303.92,244.80 L302.73,244.80 L301.55,244.80 L300.36,244.80 L299.17,244.80 L297.99,244.80 L296.80,244.80 L295.61,244.80 L294.43,244.80 L293.24,244.80 L292.05,244.80 L290.87,244.80 L289.68,244.80 L288.49,244.80 L287.31,244.80 L286.12,244.80 L284.93,244.80 L283.75,244.80 L282.56,244.80 L281.37,244.80 L280.19,244.80 L279.00,244.80 L277.81,244.80 L276.63,244.80 L275.44,244.80 L274.25,244.80 L273.07,244.80 L271.88,244.80 L270.69,244.80 L269.51,244.80 L268.32,244.80 L267.13,244.80 L265.95,244.80 L264.76,244.80 L263.57,244.80 L262.39,244.80 L261.20,244.80 L260.01,244.80 L258.83,244.80 L257.64,244.80 L256.45,244.80 L255.27,244.80 L254.08,244.80 L252.89,244.80 L251.71,244.80 L250.52,244.80 L249.33,244.80 L248.15,244.80 L246.96,244.80 L245.77,244.80 L244.59,244.80 L243.40,244.80 L242.21,244.80 L241.03,244.80 L239.84,244.80 L238.65,244.80 L237.47,244.80 L236.28,244.80 L235.09,244.80 L233.91,244.80 L232.72,244.80 L231.53,244.80 L230.35,244.80 L229.16,244.80 L227.97,244.80 L226.79,244.80 L225.60,244.80 L224.41,244.80 L223.23,244.80 L222.04,244.80 L220.85,244.80 L219.67,244.80 L218.48,244.80 L217.29,244.80 L216.11,244.80 L214.92,244.80 L213.73,244.80 L212.55,244.80 L211.36,244.80 L210.17,244.80 L208.99,244.80 L207.80,244.80 L206.61,244.80 L205.43,244.80 L204.24,244.80 L203.05,244.80 L201.87,244.80 L200.68,244.80 L199.49,244.80 L198.31,244.80 L197.12,244.80 L195.93,244.80 L194.75,244.80 L193.56,244.80 L192.37,244.80 L191.19,244.80 L190.00,244.80 Z" fill="#aaaaaa"/>
<rect x="190.0" y="244.8" width="213.6" height="16.5" fill="#000"/>
<rect x="293.3" y="143.00" width="6.4" height="25.60" fill="#c6c6c6" stroke="#999" stroke-width="0.8"/>
<rect x="288.70" y="168.60" width="17.00" height="17.50" rx="1.2" fill="#ffffa8" stroke="#d6d200" stroke-width="1.1"/>
<path d="M311.80,158.40 L317.00,158.40 L317.00,168.80 L319.60,168.80 L314.40,174.80 L309.20,168.80 L311.80,168.80 Z" fill="#c8f59a" stroke="#3a5a20" stroke-width="0.9"/>
<text x="306" y="148.9" font-family='"Liberation Serif", serif' font-size="14" font-style="italic">F<tspan font-size="10" dy="5.6" dx="0.8">1</tspan></text>
<text x="189.20" y="298.50" font-family='"Liberation Serif", serif' font-size="17.00" font-weight="bold" font-style="normal" fill="#000" text-anchor="start" >(f)</text>
<path d="M190.00,313.71 L191.19,313.72 L192.37,313.74 L193.56,313.76 L194.75,313.78 L195.93,313.81 L197.12,313.84 L198.31,313.88 L199.49,313.91 L200.68,313.95 L201.87,314.00 L203.05,314.04 L204.24,314.09 L205.43,314.14 L206.61,314.19 L207.80,314.24 L208.99,314.29 L210.17,314.34 L211.36,314.40 L212.55,314.46 L213.73,314.54 L214.92,314.62 L216.11,314.71 L217.29,314.81 L218.48,314.91 L219.67,315.03 L220.85,315.15 L222.04,315.28 L223.23,315.42 L224.41,315.56 L225.60,315.71 L226.79,315.87 L227.97,316.03 L229.16,316.20 L230.35,316.38 L231.53,316.56 L232.72,316.78 L233.91,317.01 L235.09,317.27 L236.28,317.55 L237.47,317.86 L238.65,318.18 L239.84,318.53 L241.03,318.89 L242.21,319.27 L243.40,319.67 L244.59,320.08 L245.77,320.51 L246.96,320.95 L248.15,321.40 L249.33,321.86 L250.52,322.33 L251.71,322.82 L252.89,323.34 L254.08,323.90 L255.27,324.50 L256.45,325.14 L257.64,325.81 L258.83,326.51 L260.01,327.24 L261.20,327.99 L262.39,328.76 L263.57,329.54 L264.76,330.34 L265.95,331.15 L267.13,331.97 L268.32,332.79 L269.51,333.61 L270.69,334.43 L271.88,335.24 L273.07,336.07 L274.25,336.94 L275.44,337.83 L276.63,338.75 L277.81,339.67 L279.00,340.58 L280.19,341.48 L281.37,342.36 L282.56,343.21 L283.75,344.04 L284.93,344.85 L286.12,345.66 L287.31,346.47 L288.49,346.60 L289.68,346.60 L290.87,346.60 L292.05,346.60 L293.24,346.60 L294.43,346.60 L295.61,346.60 L296.80,346.60 L297.99,346.60 L299.17,346.60 L300.36,346.60 L301.55,346.60 L302.73,346.60 L303.92,346.60 L305.11,346.60 L306.29,346.40 L307.48,346.03 L308.67,345.37 L309.85,344.42 L311.04,343.29 L312.23,342.07 L313.41,340.85 L314.60,339.71 L315.79,338.73 L316.97,337.82 L318.16,336.94 L319.35,336.08 L320.53,335.24 L321.72,334.42 L322.91,333.62 L324.09,332.83 L325.28,332.06 L326.47,331.30 L327.65,330.54 L328.84,329.78 L330.03,329.04 L331.21,328.31 L332.40,327.62 L333.59,326.96 L334.77,326.34 L335.96,325.78 L337.15,325.25 L338.33,324.73 L339.52,324.21 L340.71,323.71 L341.89,323.23 L343.08,322.75 L344.27,322.29 L345.45,321.85 L346.64,321.42 L347.83,321.00 L349.01,320.61 L350.20,320.23 L351.39,319.88 L352.57,319.54 L353.76,319.23 L354.95,318.94 L356.13,318.67 L357.32,318.42 L358.51,318.18 L359.69,317.95 L360.88,317.72 L362.07,317.50 L363.25,317.30 L364.44,317.10 L365.63,316.90 L366.81,316.72 L368.00,316.55 L369.19,316.38 L370.37,316.22 L371.56,316.07 L372.75,315.93 L373.93,315.80 L375.12,315.67 L376.31,315.56 L377.49,315.45 L378.68,315.34 L379.87,315.23 L381.05,315.12 L382.24,315.01 L383.43,314.91 L384.61,314.80 L385.80,314.70 L386.99,314.60 L388.17,314.50 L389.36,314.41 L390.55,314.32 L391.73,314.24 L392.92,314.16 L394.11,314.08 L395.29,314.01 L396.48,313.95 L397.67,313.89 L398.85,313.84 L400.04,313.79 L401.23,313.76 L402.41,313.73 L403.60,313.71 L403.60,336.91 L402.41,336.92 L401.23,336.94 L400.04,336.96 L398.85,336.98 L397.67,337.01 L396.48,337.05 L395.29,337.08 L394.11,337.12 L392.92,337.17 L391.73,337.22 L390.55,337.27 L389.36,337.32 L388.17,337.37 L386.99,337.43 L385.80,337.49 L384.61,337.55 L383.43,337.61 L382.24,337.67 L381.05,337.73 L379.87,337.79 L378.68,337.85 L377.49,337.91 L376.31,337.98 L375.12,338.04 L373.93,338.11 L372.75,338.18 L371.56,338.26 L370.37,338.34 L369.19,338.42 L368.00,338.51 L366.81,338.61 L365.63,338.70 L364.44,338.80 L363.25,338.91 L362.07,339.02 L360.88,339.13 L359.69,339.25 L358.51,339.37 L357.32,339.49 L356.13,339.62 L354.95,339.75 L353.76,339.90 L352.57,340.06 L351.39,340.23 L350.20,340.40 L349.01,340.59 L347.83,340.78 L346.64,340.98 L345.45,341.18 L344.27,341.40 L343.08,341.62 L341.89,341.84 L340.71,342.07 L339.52,342.31 L338.33,342.55 L337.15,342.79 L335.96,343.04 L334.77,343.30 L333.59,343.57 L332.40,343.87 L331.21,344.18 L330.03,344.49 L328.84,344.82 L327.65,345.14 L326.47,345.47 L325.28,345.79 L324.09,346.11 L322.91,346.44 L321.72,346.77 L320.53,347.10 L319.35,347.44 L318.16,347.79 L316.97,348.13 L315.79,348.48 L314.60,348.84 L313.41,349.19 L312.23,349.54 L311.04,349.90 L309.85,350.27 L308.67,350.67 L307.48,351.08 L306.29,351.56 L305.11,351.90 L303.92,351.90 L302.73,351.90 L301.55,351.90 L300.36,351.90 L299.17,351.90 L297.99,351.90 L296.80,351.90 L295.61,351.90 L294.43,351.90 L293.24,351.90 L292.05,351.90 L290.87,351.90 L289.68,351.90 L288.49,351.90 L287.31,351.80 L286.12,351.21 L284.93,350.60 L283.75,350.01 L282.56,349.45 L281.37,348.93 L280.19,348.44 L279.00,347.96 L277.81,347.50 L276.63,347.06 L275.44,346.63 L274.25,346.22 L273.07,345.84 L271.88,345.47 L270.69,345.12 L269.51,344.78 L268.32,344.44 L267.13,344.10 L265.95,343.78 L264.76,343.46 L263.57,343.14 L262.39,342.84 L261.20,342.55 L260.01,342.26 L258.83,341.99 L257.64,341.73 L256.45,341.48 L255.27,341.25 L254.08,341.03 L252.89,340.82 L251.71,340.64 L250.52,340.46 L249.33,340.29 L248.15,340.13 L246.96,339.98 L245.77,339.83 L244.59,339.68 L243.40,339.54 L242.21,339.41 L241.03,339.28 L239.84,339.16 L238.65,339.04 L237.47,338.93 L236.28,338.82 L235.09,338.72 L233.91,338.62 L232.72,338.53 L231.53,338.44 L230.35,338.36 L229.16,338.28 L227.97,338.20 L226.79,338.12 L225.60,338.04 L224.41,337.96 L223.23,337.89 L222.04,337.82 L220.85,337.75 L219.67,337.68 L218.48,337.61 L217.29,337.55 L216.11,337.50 L214.92,337.44 L213.73,337.39 L212.55,337.34 L211.36,337.30 L210.17,337.27 L208.99,337.23 L207.80,337.21 L206.61,337.18 L205.43,337.16 L204.24,337.14 L203.05,337.12 L201.87,337.09 L200.68,337.07 L199.49,337.05 L198.31,337.04 L197.12,337.02 L195.93,337.00 L194.75,336.99 L193.56,336.97 L192.37,336.96 L191.19,336.94 L190.00,336.93 Z" fill="#c7e2fb"/>
<path d="M190.00,302.11 L191.19,302.12 L192.37,302.13 L193.56,302.15 L194.75,302.17 L195.93,302.20 L197.12,302.22 L198.31,302.25 L199.49,302.29 L200.68,302.32 L201.87,302.36 L203.05,302.40 L204.24,302.45 L205.43,302.49 L206.61,302.54 L207.80,302.59 L208.99,302.65 L210.17,302.70 L211.36,302.76 L212.55,302.84 L213.73,302.95 L214.92,303.07 L216.11,303.21 L217.29,303.37 L218.48,303.55 L219.67,303.74 L220.85,303.95 L222.04,304.17 L223.23,304.40 L224.41,304.64 L225.60,304.89 L226.79,305.14 L227.97,305.41 L229.16,305.68 L230.35,305.95 L231.53,306.24 L232.72,306.55 L233.91,306.89 L235.09,307.26 L236.28,307.66 L237.47,308.09 L238.65,308.54 L239.84,309.01 L241.03,309.50 L242.21,310.01 L243.40,310.54 L244.59,311.08 L245.77,311.64 L246.96,312.20 L248.15,312.78 L249.33,313.36 L250.52,313.95 L251.71,314.54 L252.89,315.16 L254.08,315.82 L255.27,316.50 L256.45,317.22 L257.64,317.95 L258.83,318.71 L260.01,319.49 L261.20,320.29 L262.39,321.10 L263.57,321.92 L264.76,322.75 L265.95,323.58 L267.13,324.41 L268.32,325.24 L269.51,326.07 L270.69,326.90 L271.88,327.71 L273.07,328.51 L274.25,329.31 L275.44,330.10 L276.63,330.91 L277.81,331.73 L279.00,332.58 L280.19,333.46 L281.37,334.39 L282.56,335.42 L283.75,336.65 L284.93,337.42 L286.12,337.86 L287.31,338.23 L288.49,338.30 L289.68,338.30 L290.87,338.30 L292.05,338.30 L293.24,338.30 L294.43,338.30 L295.61,338.30 L296.80,338.30 L297.99,338.30 L299.17,338.30 L300.36,338.30 L301.55,338.30 L302.73,338.30 L303.92,338.30 L305.11,338.30 L306.29,338.16 L307.48,337.88 L308.67,337.08 L309.85,335.75 L311.04,334.07 L312.23,332.21 L313.41,330.35 L314.60,328.67 L315.79,327.33 L316.97,326.11 L318.16,324.94 L319.35,323.82 L320.53,322.73 L321.72,321.70 L322.91,320.71 L324.09,319.76 L325.28,318.87 L326.47,318.03 L327.65,317.20 L328.84,316.40 L330.03,315.63 L331.21,314.90 L332.40,314.21 L333.59,313.57 L334.77,312.99 L335.96,312.46 L337.15,311.98 L338.33,311.51 L339.52,311.06 L340.71,310.62 L341.89,310.20 L343.08,309.79 L344.27,309.41 L345.45,309.03 L346.64,308.67 L347.83,308.33 L349.01,308.00 L350.20,307.69 L351.39,307.39 L352.57,307.10 L353.76,306.83 L354.95,306.58 L356.13,306.33 L357.32,306.10 L358.51,305.87 L359.69,305.64 L360.88,305.42 L362.07,305.21 L363.25,305.00 L364.44,304.80 L365.63,304.61 L366.81,304.42 L368.00,304.25 L369.19,304.08 L370.37,303.92 L371.56,303.78 L372.75,303.65 L373.93,303.53 L375.12,303.42 L376.31,303.33 L377.49,303.25 L378.68,303.17 L379.87,303.09 L381.05,303.02 L382.24,302.94 L383.43,302.87 L384.61,302.80 L385.80,302.73 L386.99,302.67 L388.17,302.60 L389.36,302.54 L390.55,302.49 L391.73,302.43 L392.92,302.38 L394.11,302.33 L395.29,302.29 L396.48,302.25 L397.67,302.21 L398.85,302.18 L400.04,302.16 L401.23,302.14 L402.41,302.12 L403.60,302.11 L403.60,313.71 L402.41,313.73 L401.23,313.76 L400.04,313.79 L398.85,313.84 L397.67,313.89 L396.48,313.95 L395.29,314.01 L394.11,314.08 L392.92,314.16 L391.73,314.24 L390.55,314.32 L389.36,314.41 L388.17,314.50 L386.99,314.60 L385.80,314.70 L384.61,314.80 L383.43,314.91 L382.24,315.01 L381.05,315.12 L379.87,315.23 L378.68,315.34 L377.49,315.45 L376.31,315.56 L375.12,315.67 L373.93,315.80 L372.75,315.93 L371.56,316.07 L370.37,316.22 L369.19,316.38 L368.00,316.55 L366.81,316.72 L365.63,316.90 L364.44,317.10 L363.25,317.30 L362.07,317.50 L360.88,317.72 L359.69,317.95 L358.51,318.18 L357.32,318.42 L356.13,318.67 L354.95,318.94 L353.76,319.23 L352.57,319.54 L351.39,319.88 L350.20,320.23 L349.01,320.61 L347.83,321.00 L346.64,321.42 L345.45,321.85 L344.27,322.29 L343.08,322.75 L341.89,323.23 L340.71,323.71 L339.52,324.21 L338.33,324.73 L337.15,325.25 L335.96,325.78 L334.77,326.34 L333.59,326.96 L332.40,327.62 L331.21,328.31 L330.03,329.04 L328.84,329.78 L327.65,330.54 L326.47,331.30 L325.28,332.06 L324.09,332.83 L322.91,333.62 L321.72,334.42 L320.53,335.24 L319.35,336.08 L318.16,336.94 L316.97,337.82 L315.79,338.73 L314.60,339.71 L313.41,340.85 L312.23,342.07 L311.04,343.29 L309.85,344.42 L308.67,345.37 L307.48,346.03 L306.29,346.40 L305.11,346.60 L303.92,346.60 L302.73,346.60 L301.55,346.60 L300.36,346.60 L299.17,346.60 L297.99,346.60 L296.80,346.60 L295.61,346.60 L294.43,346.60 L293.24,346.60 L292.05,346.60 L290.87,346.60 L289.68,346.60 L288.49,346.60 L287.31,346.47 L286.12,345.66 L284.93,344.85 L283.75,344.04 L282.56,343.21 L281.37,342.36 L280.19,341.48 L279.00,340.58 L277.81,339.67 L276.63,338.75 L275.44,337.83 L274.25,336.94 L273.07,336.07 L271.88,335.24 L270.69,334.43 L269.51,333.61 L268.32,332.79 L267.13,331.97 L265.95,331.15 L264.76,330.34 L263.57,329.54 L262.39,328.76 L261.20,327.99 L260.01,327.24 L258.83,326.51 L257.64,325.81 L256.45,325.14 L255.27,324.50 L254.08,323.90 L252.89,323.34 L251.71,322.82 L250.52,322.33 L249.33,321.86 L248.15,321.40 L246.96,320.95 L245.77,320.51 L244.59,320.08 L243.40,319.67 L242.21,319.27 L241.03,318.89 L239.84,318.53 L238.65,318.18 L237.47,317.86 L236.28,317.55 L235.09,317.27 L233.91,317.01 L232.72,316.78 L231.53,316.56 L230.35,316.38 L229.16,316.20 L227.97,316.03 L226.79,315.87 L225.60,315.71 L224.41,315.56 L223.23,315.42 L222.04,315.28 L220.85,315.15 L219.67,315.03 L218.48,314.91 L217.29,314.81 L216.11,314.71 L214.92,314.62 L213.73,314.54 L212.55,314.46 L211.36,314.40 L210.17,314.34 L208.99,314.29 L207.80,314.24 L206.61,314.19 L205.43,314.14 L204.24,314.09 L203.05,314.04 L201.87,314.00 L200.68,313.95 L199.49,313.91 L198.31,313.88 L197.12,313.84 L195.93,313.81 L194.75,313.78 L193.56,313.76 L192.37,313.74 L191.19,313.72 L190.00,313.71 Z" fill="#c8c400" stroke="#aaa600" stroke-width="0.7"/>
<path d="M190.00,336.93 L191.19,336.94 L192.37,336.96 L193.56,336.97 L194.75,336.99 L195.93,337.00 L197.12,337.02 L198.31,337.04 L199.49,337.05 L200.68,337.07 L201.87,337.09 L203.05,337.12 L204.24,337.14 L205.43,337.16 L206.61,337.18 L207.80,337.21 L208.99,337.23 L210.17,337.27 L211.36,337.30 L212.55,337.34 L213.73,337.39 L214.92,337.44 L216.11,337.50 L217.29,337.55 L218.48,337.61 L219.67,337.68 L220.85,337.75 L222.04,337.82 L223.23,337.89 L224.41,337.96 L225.60,338.04 L226.79,338.12 L227.97,338.20 L229.16,338.28 L230.35,338.36 L231.53,338.44 L232.72,338.53 L233.91,338.62 L235.09,338.72 L236.28,338.82 L237.47,338.93 L238.65,339.04 L239.84,339.16 L241.03,339.28 L242.21,339.41 L243.40,339.54 L244.59,339.68 L245.77,339.83 L246.96,339.98 L248.15,340.13 L249.33,340.29 L250.52,340.46 L251.71,340.64 L252.89,340.82 L254.08,341.03 L255.27,341.25 L256.45,341.48 L257.64,341.73 L258.83,341.99 L260.01,342.26 L261.20,342.55 L262.39,342.84 L263.57,343.14 L264.76,343.46 L265.95,343.78 L267.13,344.10 L268.32,344.44 L269.51,344.78 L270.69,345.12 L271.88,345.47 L273.07,345.84 L274.25,346.22 L275.44,346.63 L276.63,347.06 L277.81,347.50 L279.00,347.96 L280.19,348.44 L281.37,348.93 L282.56,349.45 L283.75,350.01 L284.93,350.60 L286.12,351.21 L287.31,351.80 L288.49,351.90 L289.68,351.90 L290.87,351.90 L292.05,351.90 L293.24,351.90 L294.43,351.90 L295.61,351.90 L296.80,351.90 L297.99,351.90 L299.17,351.90 L300.36,351.90 L301.55,351.90 L302.73,351.90 L303.92,351.90 L305.11,351.90 L306.29,351.56 L307.48,351.08 L308.67,350.67 L309.85,350.27 L311.04,349.90 L312.23,349.54 L313.41,349.19 L314.60,348.84 L315.79,348.48 L316.97,348.13 L318.16,347.79 L319.35,347.44 L320.53,347.10 L321.72,346.77 L322.91,346.44 L324.09,346.11 L325.28,345.79 L326.47,345.47 L327.65,345.14 L328.84,344.82 L330.03,344.49 L331.21,344.18 L332.40,343.87 L333.59,343.57 L334.77,343.30 L335.96,343.04 L337.15,342.79 L338.33,342.55 L339.52,342.31 L340.71,342.07 L341.89,341.84 L343.08,341.62 L344.27,341.40 L345.45,341.18 L346.64,340.98 L347.83,340.78 L349.01,340.59 L350.20,340.40 L351.39,340.23 L352.57,340.06 L353.76,339.90 L354.95,339.75 L356.13,339.62 L357.32,339.49 L358.51,339.37 L359.69,339.25 L360.88,339.13 L362.07,339.02 L363.25,338.91 L364.44,338.80 L365.63,338.70 L366.81,338.61 L368.00,338.51 L369.19,338.42 L370.37,338.34 L371.56,338.26 L372.75,338.18 L373.93,338.11 L375.12,338.04 L376.31,337.98 L377.49,337.91 L378.68,337.85 L379.87,337.79 L381.05,337.73 L382.24,337.67 L383.43,337.61 L384.61,337.55 L385.80,337.49 L386.99,337.43 L388.17,337.37 L389.36,337.32 L390.55,337.27 L391.73,337.22 L392.92,337.17 L394.11,337.12 L395.29,337.08 L396.48,337.05 L397.67,337.01 L398.85,336.98 L400.04,336.96 L401.23,336.94 L402.41,336.92 L403.60,336.91 L403.60,349.10 L402.41,349.10 L401.23,349.10 L400.04,349.11 L398.85,349.11 L397.67,349.11 L396.48,349.12 L395.29,349.12 L394.11,349.12 L392.92,349.13 L391.73,349.13 L390.55,349.14 L389.36,349.15 L388.17,349.15 L386.99,349.16 L385.80,349.17 L384.61,349.18 L383.43,349.19 L382.24,349.20 L381.05,349.21 L379.87,349.22 L378.68,349.23 L377.49,349.24 L376.31,349.25 L375.12,349.27 L373.93,349.29 L372.75,349.32 L371.56,349.36 L370.37,349.41 L369.19,349.46 L368.00,349.51 L366.81,349.57 L365.63,349.64 L364.44,349.71 L363.25,349.78 L362.07,349.85 L360.88,349.93 L359.69,350.01 L358.51,350.09 L357.32,350.17 L356.13,350.26 L354.95,350.34 L353.76,350.44 L352.57,350.55 L351.39,350.66 L350.20,350.78 L349.01,350.91 L347.83,351.05 L346.64,351.20 L345.45,351.35 L344.27,351.51 L343.08,351.67 L341.89,351.85 L340.71,352.03 L339.52,352.21 L338.33,352.41 L337.15,352.60 L335.96,352.81 L334.77,353.03 L333.59,353.27 L332.40,353.54 L331.21,353.83 L330.03,354.14 L328.84,354.47 L327.65,354.81 L326.47,355.16 L325.28,355.52 L324.09,355.91 L322.91,356.33 L321.72,356.77 L320.53,357.23 L319.35,357.71 L318.16,358.21 L316.97,358.71 L315.79,359.23 L314.60,359.79 L313.41,360.50 L312.23,361.27 L311.04,362.03 L309.85,362.70 L308.67,363.18 L307.48,363.40 L306.29,363.40 L305.11,363.40 L303.92,363.40 L302.73,363.40 L301.55,363.40 L300.36,363.40 L299.17,363.40 L297.99,363.40 L296.80,363.40 L295.61,363.40 L294.43,363.40 L293.24,363.40 L292.05,363.40 L290.87,363.40 L289.68,363.40 L288.49,363.40 L287.31,363.29 L286.12,362.57 L284.93,361.82 L283.75,361.11 L282.56,360.50 L281.37,360.01 L280.19,359.57 L279.00,359.18 L277.81,358.81 L276.63,358.47 L275.44,358.15 L274.25,357.85 L273.07,357.56 L271.88,357.27 L270.69,356.99 L269.51,356.71 L268.32,356.45 L267.13,356.18 L265.95,355.93 L264.76,355.68 L263.57,355.44 L262.39,355.20 L261.20,354.97 L260.01,354.75 L258.83,354.53 L257.64,354.31 L256.45,354.10 L255.27,353.90 L254.08,353.70 L252.89,353.50 L251.71,353.31 L250.52,353.12 L249.33,352.93 L248.15,352.75 L246.96,352.56 L245.77,352.37 L244.59,352.19 L243.40,352.01 L242.21,351.83 L241.03,351.66 L239.84,351.49 L238.65,351.34 L237.47,351.18 L236.28,351.04 L235.09,350.91 L233.91,350.79 L232.72,350.68 L231.53,350.58 L230.35,350.49 L229.16,350.41 L227.97,350.32 L226.79,350.25 L225.60,350.17 L224.41,350.09 L223.23,350.02 L222.04,349.95 L220.85,349.89 L219.67,349.83 L218.48,349.77 L217.29,349.71 L216.11,349.66 L214.92,349.61 L213.73,349.56 L212.55,349.52 L211.36,349.48 L210.17,349.45 L208.99,349.42 L207.80,349.39 L206.61,349.37 L205.43,349.35 L204.24,349.33 L203.05,349.31 L201.87,349.29 L200.68,349.27 L199.49,349.25 L198.31,349.23 L197.12,349.21 L195.93,349.20 L194.75,349.18 L193.56,349.17 L192.37,349.15 L191.19,349.14 L190.00,349.13 Z" fill="#c8c400" stroke="#aaa600" stroke-width="0.7"/>
<path d="M190.00,349.13 L191.19,349.14 L192.37,349.15 L193.56,349.17 L194.75,349.18 L195.93,349.20 L197.12,349.21 L198.31,349.23 L199.49,349.25 L200.68,349.27 L201.87,349.29 L203.05,349.31 L204.24,349.33 L205.43,349.35 L206.61,349.37 L207.80,349.39 L208.99,349.42 L210.17,349.45 L211.36,349.48 L212.55,349.52 L213.73,349.56 L214.92,349.61 L216.11,349.66 L217.29,349.71 L218.48,349.77 L219.67,349.83 L220.85,349.89 L222.04,349.95 L223.23,350.02 L224.41,350.09 L225.60,350.17 L226.79,350.25 L227.97,350.32 L229.16,350.41 L230.35,350.49 L231.53,350.58 L232.72,350.68 L233.91,350.79 L235.09,350.91 L236.28,351.04 L237.47,351.18 L238.65,351.34 L239.84,351.49 L241.03,351.66 L242.21,351.83 L243.40,352.01 L244.59,352.19 L245.77,352.37 L246.96,352.56 L248.15,352.75 L249.33,352.93 L250.52,353.12 L251.71,353.31 L252.89,353.50 L254.08,353.70 L255.27,353.90 L256.45,354.10 L257.64,354.31 L258.83,354.53 L260.01,354.75 L261.20,354.97 L262.39,355.20 L263.57,355.44 L264.76,355.68 L265.95,355.93 L267.13,356.18 L268.32,356.45 L269.51,356.71 L270.69,356.99 L271.88,357.27 L273.07,357.56 L274.25,357.85 L275.44,358.15 L276.63,358.47 L277.81,358.81 L279.00,359.18 L280.19,359.57 L281.37,360.01 L282.56,360.50 L283.75,361.11 L284.93,361.82 L286.12,362.57 L287.31,363.29 L288.49,363.40 L289.68,363.40 L290.87,363.40 L292.05,363.40 L293.24,363.40 L294.43,363.40 L295.61,363.40 L296.80,363.40 L297.99,363.40 L299.17,363.40 L300.36,363.40 L301.55,363.40 L302.73,363.40 L303.92,363.40 L305.11,363.40 L306.29,363.40 L307.48,363.40 L308.67,363.18 L309.85,362.70 L311.04,362.03 L312.23,361.27 L313.41,360.50 L314.60,359.79 L315.79,359.23 L316.97,358.71 L318.16,358.21 L319.35,357.71 L320.53,357.23 L321.72,356.77 L322.91,356.33 L324.09,355.91 L325.28,355.52 L326.47,355.16 L327.65,354.81 L328.84,354.47 L330.03,354.14 L331.21,353.83 L332.40,353.54 L333.59,353.27 L334.77,353.03 L335.96,352.81 L337.15,352.60 L338.33,352.41 L339.52,352.21 L340.71,352.03 L341.89,351.85 L343.08,351.67 L344.27,351.51 L345.45,351.35 L346.64,351.20 L347.83,351.05 L349.01,350.91 L350.20,350.78 L351.39,350.66 L352.57,350.55 L353.76,350.44 L354.95,350.34 L356.13,350.26 L357.32,350.17 L358.51,350.09 L359.69,350.01 L360.88,349.93 L362.07,349.85 L363.25,349.78 L364.44,349.71 L365.63,349.64 L366.81,349.57 L368.00,349.51 L369.19,349.46 L370.37,349.41 L371.56,349.36 L372.75,349.32 L373.93,349.29 L375.12,349.27 L376.31,349.25 L377.49,349.24 L378.68,349.23 L379.87,349.22 L381.05,349.21 L382.24,349.20 L383.43,349.19 L384.61,349.18 L385.80,349.17 L386.99,349.16 L388.17,349.15 L389.36,349.15 L390.55,349.14 L391.73,349.13 L392.92,349.13 L394.11,349.12 L395.29,349.12 L396.48,349.12 L397.67,349.11 L398.85,349.11 L400.04,349.11 L401.23,349.10 L402.41,349.10 L403.60,349.10 L403.60,372.20 L402.41,372.20 L401.23,372.20 L400.04,372.20 L398.85,372.20 L397.67,372.20 L396.48,372.20 L395.29,372.20 L394.11,372.20 L392.92,372.20 L391.73,372.20 L390.55,372.20 L389.36,372.20 L388.17,372.20 L386.99,372.20 L385.80,372.20 L384.61,372.20 L383.43,372.20 L382.24,372.20 L381.05,372.20 L379.87,372.20 L378.68,372.20 L377.49,372.20 L376.31,372.20 L375.12,372.20 L373.93,372.20 L372.75,372.20 L371.56,372.20 L370.37,372.20 L369.19,372.20 L368.00,372.20 L366.81,372.20 L365.63,372.20 L364.44,372.20 L363.25,372.20 L362.07,372.20 L360.88,372.20 L359.69,372.20 L358.51,372.20 L357.32,372.20 L356.13,372.20 L354.95,372.20 L353.76,372.20 L352.57,372.20 L351.39,372.20 L350.20,372.20 L349.01,372.20 L347.83,372.20 L346.64,372.20 L345.45,372.20 L344.27,372.20 L343.08,372.20 L341.89,372.20 L340.71,372.20 L339.52,372.20 L338.33,372.20 L337.15,372.20 L335.96,372.20 L334.77,372.20 L333.59,372.20 L332.40,372.20 L331.21,372.20 L330.03,372.20 L328.84,372.20 L327.65,372.20 L326.47,372.20 L325.28,372.20 L324.09,372.20 L322.91,372.20 L321.72,372.20 L320.53,372.20 L319.35,372.20 L318.16,372.20 L316.97,372.20 L315.79,372.20 L314.60,372.20 L313.41,372.20 L312.23,372.20 L311.04,372.20 L309.85,372.20 L308.67,372.20 L307.48,372.20 L306.29,372.20 L305.11,372.20 L303.92,372.20 L302.73,372.20 L301.55,372.20 L300.36,372.20 L299.17,372.20 L297.99,372.20 L296.80,372.20 L295.61,372.20 L294.43,372.20 L293.24,372.20 L292.05,372.20 L290.87,372.20 L289.68,372.20 L288.49,372.20 L287.31,372.20 L286.12,372.20 L284.93,372.20 L283.75,372.20 L282.56,372.20 L281.37,372.20 L280.19,372.20 L279.00,372.20 L277.81,372.20 L276.63,372.20 L275.44,372.20 L274.25,372.20 L273.07,372.20 L271.88,372.20 L270.69,372.20 L269.51,372.20 L268.32,372.20 L267.13,372.20 L265.95,372.20 L264.76,372.20 L263.57,372.20 L262.39,372.20 L261.20,372.20 L260.01,372.20 L258.83,372.20 L257.64,372.20 L256.45,372.20 L255.27,372.20 L254.08,372.20 L252.89,372.20 L251.71,372.20 L250.52,372.20 L249.33,372.20 L248.15,372.20 L246.96,372.20 L245.77,372.20 L244.59,372.20 L243.40,372.20 L242.21,372.20 L241.03,372.20 L239.84,372.20 L238.65,372.20 L237.47,372.20 L236.28,372.20 L235.09,372.20 L233.91,372.20 L232.72,372.20 L231.53,372.20 L230.35,372.20 L229.16,372.20 L227.97,372.20 L226.79,372.20 L225.60,372.20 L224.41,372.20 L223.23,372.20 L222.04,372.20 L220.85,372.20 L219.67,372.20 L218.48,372.20 L217.29,372.20 L216.11,372.20 L214.92,372.20 L213.73,372.20 L212.55,372.20 L211.36,372.20 L210.17,372.20 L208.99,372.20 L207.80,372.20 L206.61,372.20 L205.43,372.20 L204.24,372.20 L203.05,372.20 L201.87,372.20 L200.68,372.20 L199.49,372.20 L198.31,372.20 L197.12,372.20 L195.93,372.20 L194.75,372.20 L193.56,372.20 L192.37,372.20 L191.19,372.20 L190.00,372.20 Z" fill="#aaaaaa"/>
<polyline points="190.00,336.93 191.19,336.94 192.37,336.96 193.56,336.97 194.75,336.99 195.93,337.00 197.12,337.02 198.31,337.04 199.49,337.05 200.68,337.07 201.87,337.09 203.05,337.12 204.24,337.14 205.43,337.16 206.61,337.18 207.80,337.21 208.99,337.23 210.17,337.27 211.36,337.30 212.55,337.34 213.73,337.39 214.92,337.44 216.11,337.50 217.29,337.55 218.48,337.61 219.67,337.68 220.85,337.75 222.04,337.82 223.23,337.89 224.41,337.96 225.60,338.04 226.79,338.12 227.97,338.20 229.16,338.28 230.35,338.36 231.53,338.44 232.72,338.53 233.91,338.62 235.09,338.72 236.28,338.82 237.47,338.93 238.65,339.04 239.84,339.16 241.03,339.28 242.21,339.41 243.40,339.54 244.59,339.68 245.77,339.83 246.96,339.98 248.15,340.13 249.33,340.29 250.52,340.46 251.71,340.64 252.89,340.82 254.08,341.03 255.27,341.25 256.45,341.48 257.64,341.73 258.83,341.99 260.01,342.26 261.20,342.55 262.39,342.84 263.57,343.14 264.76,343.46 265.95,343.78 267.13,344.10 268.32,344.44 269.51,344.78 270.69,345.12 271.88,345.47 273.07,345.84 274.25,346.22 275.44,346.63 276.63,347.06 277.81,347.50 279.00,347.96 280.19,348.44 281.37,348.93 282.56,349.45 283.75,350.01 284.93,350.60 286.12,351.21 287.31,351.80 288.49,351.90 289.68,351.90 290.87,351.90 292.05,351.90 293.24,351.90 294.43,351.90 295.61,351.90 296.80,351.90 297.99,351.90 299.17,351.90 300.36,351.90 301.55,351.90 302.73,351.90 303.92,351.90 305.11,351.90 306.29,351.56 307.48,351.08 308.67,350.67 309.85,350.27 311.04,349.90 312.23,349.54 313.41,349.19 314.60,348.84 315.79,348.48 316.97,348.13 318.16,347.79 319.35,347.44 320.53,347.10 321.72,346.77 322.91,346.44 324.09,346.11 325.28,345.79 326.47,345.47 327.65,345.14 328.84,344.82 330.03,344.49 331.21,344.18 332.40,343.87 333.59,343.57 334.77,343.30 335.96,343.04 337.15,342.79 338.33,342.55 339.52,342.31 340.71,342.07 341.89,341.84 343.08,341.62 344.27,341.40 345.45,341.18 346.64,340.98 347.83,340.78 349.01,340.59 350.20,340.40 351.39,340.23 352.57,340.06 353.76,339.90 354.95,339.75 356.13,339.62 357.32,339.49 358.51,339.37 359.69,339.25 360.88,339.13 362.07,339.02 363.25,338.91 364.44,338.80 365.63,338.70 366.81,338.61 368.00,338.51 369.19,338.42 370.37,338.34 371.56,338.26 372.75,338.18 373.93,338.11 375.12,338.04 376.31,337.98 377.49,337.91 378.68,337.85 379.87,337.79 381.05,337.73 382.24,337.67 383.43,337.61 384.61,337.55 385.80,337.49 386.99,337.43 388.17,337.37 389.36,337.32 390.55,337.27 391.73,337.22 392.92,337.17 394.11,337.12 395.29,337.08 396.48,337.05 397.67,337.01 398.85,336.98 400.04,336.96 401.23,336.94 402.41,336.92 403.60,336.91" fill="none" stroke="#79b0e4" stroke-width="0.80"/>
<polyline points="190.00,313.71 191.19,313.72 192.37,313.74 193.56,313.76 194.75,313.78 195.93,313.81 197.12,313.84 198.31,313.88 199.49,313.91 200.68,313.95 201.87,314.00 203.05,314.04 204.24,314.09 205.43,314.14 206.61,314.19 207.80,314.24 208.99,314.29 210.17,314.34 211.36,314.40 212.55,314.46 213.73,314.54 214.92,314.62 216.11,314.71 217.29,314.81 218.48,314.91 219.67,315.03 220.85,315.15 222.04,315.28 223.23,315.42 224.41,315.56 225.60,315.71 226.79,315.87 227.97,316.03 229.16,316.20 230.35,316.38 231.53,316.56 232.72,316.78 233.91,317.01 235.09,317.27 236.28,317.55 237.47,317.86 238.65,318.18 239.84,318.53 241.03,318.89 242.21,319.27 243.40,319.67 244.59,320.08 245.77,320.51 246.96,320.95 248.15,321.40 249.33,321.86 250.52,322.33 251.71,322.82 252.89,323.34 254.08,323.90 255.27,324.50 256.45,325.14 257.64,325.81 258.83,326.51 260.01,327.24 261.20,327.99 262.39,328.76 263.57,329.54 264.76,330.34 265.95,331.15 267.13,331.97 268.32,332.79 269.51,333.61 270.69,334.43 271.88,335.24 273.07,336.07 274.25,336.94 275.44,337.83 276.63,338.75 277.81,339.67 279.00,340.58 280.19,341.48 281.37,342.36 282.56,343.21 283.75,344.04 284.93,344.85 286.12,345.66 287.31,346.47 288.49,346.60 289.68,346.60 290.87,346.60 292.05,346.60 293.24,346.60 294.43,346.60 295.61,346.60 296.80,346.60 297.99,346.60 299.17,346.60 300.36,346.60 301.55,346.60 302.73,346.60 303.92,346.60 305.11,346.60 306.29,346.40 307.48,346.03 308.67,345.37 309.85,344.42 311.04,343.29 312.23,342.07 313.41,340.85 314.60,339.71 315.79,338.73 316.97,337.82 318.16,336.94 319.35,336.08 320.53,335.24 321.72,334.42 322.91,333.62 324.09,332.83 325.28,332.06 326.47,331.30 327.65,330.54 328.84,329.78 330.03,329.04 331.21,328.31 332.40,327.62 333.59,326.96 334.77,326.34 335.96,325.78 337.15,325.25 338.33,324.73 339.52,324.21 340.71,323.71 341.89,323.23 343.08,322.75 344.27,322.29 345.45,321.85 346.64,321.42 347.83,321.00 349.01,320.61 350.20,320.23 351.39,319.88 352.57,319.54 353.76,319.23 354.95,318.94 356.13,318.67 357.32,318.42 358.51,318.18 359.69,317.95 360.88,317.72 362.07,317.50 363.25,317.30 364.44,317.10 365.63,316.90 366.81,316.72 368.00,316.55 369.19,316.38 370.37,316.22 371.56,316.07 372.75,315.93 373.93,315.80 375.12,315.67 376.31,315.56 377.49,315.45 378.68,315.34 379.87,315.23 381.05,315.12 382.24,315.01 383.43,314.91 384.61,314.80 385.80,314.70 386.99,314.60 388.17,314.50 389.36,314.41 390.55,314.32 391.73,314.24 392.92,314.16 394.11,314.08 395.29,314.01 396.48,313.95 397.67,313.89 398.85,313.84 400.04,313.79 401.23,313.76 402.41,313.73 403.60,313.71" fill="none" stroke="#9cc4e8" stroke-width="0.50"/>
<rect x="190.0" y="372.2" width="213.6" height="16.8" fill="#000"/>
<rect x="293.3" y="291.20" width="6.4" height="29.30" fill="#c6c6c6" stroke="#999" stroke-width="0.8"/>
<rect x="287.70" y="320.50" width="17.40" height="17.30" rx="1.2" fill="#ffffa8" stroke="#d6d200" stroke-width="1.1"/>
<path d="M311.20,302.90 L316.40,302.90 L316.40,314.50 L319.00,314.50 L313.80,320.50 L308.60,314.50 L311.20,314.50 Z" fill="#c8f59a" stroke="#3a5a20" stroke-width="0.9"/>
<text x="306" y="294.5" font-family='"Liberation Serif", serif' font-size="14" font-style="italic">F<tspan font-size="10" dy="5">2</tspan><tspan dy="-5" dx="0.4" font-size="16" font-style="normal">&gt;</tspan><tspan dx="0.6">F</tspan><tspan font-size="10" dy="5" dx="0.3">1</tspan></text>
<rect x="459.60" y="10.80" width="225.90" height="139.90" fill="none" stroke="#000" stroke-width="1.1"/>
<path d="M454.60,150.70 L459.60,150.70" stroke="#000" stroke-width="1.1"/>
<text x="453.40" y="155.30" font-family='"Liberation Sans", sans-serif' font-size="11.40" font-weight="normal" font-style="normal" fill="#000" text-anchor="end" >0</text>
<path d="M456.60,139.93 L459.60,139.93" stroke="#000" stroke-width="1.1"/>
<path d="M454.60,129.16 L459.60,129.16" stroke="#000" stroke-width="1.1"/>
<text x="453.40" y="133.76" font-family='"Liberation Sans", sans-serif' font-size="11.40" font-weight="normal" font-style="normal" fill="#000" text-anchor="end" >200</text>
<path d="M456.60,118.39 L459.60,118.39" stroke="#000" stroke-width="1.1"/>
<path d="M454.60,107.62 L459.60,107.62" stroke="#000" stroke-width="1.1"/>
<text x="453.40" y="112.22" font-family='"Liberation Sans", sans-serif' font-size="11.40" font-weight="normal" font-style="normal" fill="#000" text-anchor="end" >400</text>
<path d="M456.60,96.85 L459.60,96.85" stroke="#000" stroke-width="1.1"/>
<path d="M454.60,86.08 L459.60,86.08" stroke="#000" stroke-width="1.1"/>
<text x="453.40" y="90.68" font-family='"Liberation Sans", sans-serif' font-size="11.40" font-weight="normal" font-style="normal" fill="#000" text-anchor="end" >600</text>
<path d="M456.60,75.31 L459.60,75.31" stroke="#000" stroke-width="1.1"/>
<path d="M454.60,64.54 L459.60,64.54" stroke="#000" stroke-width="1.1"/>
<text x="453.40" y="69.14" font-family='"Liberation Sans", sans-serif' font-size="11.40" font-weight="normal" font-style="normal" fill="#000" text-anchor="end" >800</text>
<path d="M456.60,53.77 L459.60,53.77" stroke="#000" stroke-width="1.1"/>
<path d="M454.60,43.00 L459.60,43.00" stroke="#000" stroke-width="1.1"/>
<text x="453.40" y="47.60" font-family='"Liberation Sans", sans-serif' font-size="11.40" font-weight="normal" font-style="normal" fill="#000" text-anchor="end" >1000</text>
<path d="M456.60,32.23 L459.60,32.23" stroke="#000" stroke-width="1.1"/>
<path d="M454.60,21.46 L459.60,21.46" stroke="#000" stroke-width="1.1"/>
<text x="453.40" y="26.06" font-family='"Liberation Sans", sans-serif' font-size="11.40" font-weight="normal" font-style="normal" fill="#000" text-anchor="end" >1200</text>
<path d="M456.60,10.69 L459.60,10.69" stroke="#000" stroke-width="1.1"/>
<path d="M685.50,150.50 L690.50,150.50" stroke="#000" stroke-width="1.1"/>
<text x="692.30" y="154.60" font-family='"Liberation Sans", sans-serif' font-size="11.40" font-weight="normal" font-style="normal" fill="#000" text-anchor="start" >0</text>
<path d="M685.50,137.08 L688.50,137.08" stroke="#000" stroke-width="1.1"/>
<path d="M685.50,123.66 L690.50,123.66" stroke="#000" stroke-width="1.1"/>
<text x="692.30" y="127.76" font-family='"Liberation Sans", sans-serif' font-size="11.40" font-weight="normal" font-style="normal" fill="#000" text-anchor="start" >20</text>
<path d="M685.50,110.24 L688.50,110.24" stroke="#000" stroke-width="1.1"/>
<path d="M685.50,96.82 L690.50,96.82" stroke="#000" stroke-width="1.1"/>
<text x="692.30" y="100.92" font-family='"Liberation Sans", sans-serif' font-size="11.40" font-weight="normal" font-style="normal" fill="#000" text-anchor="start" >40</text>
<path d="M685.50,83.40 L688.50,83.40" stroke="#000" stroke-width="1.1"/>
<path d="M685.50,69.98 L690.50,69.98" stroke="#000" stroke-width="1.1"/>
<text x="692.30" y="74.08" font-family='"Liberation Sans", sans-serif' font-size="11.40" font-weight="normal" font-style="normal" fill="#000" text-anchor="start" >60</text>
<path d="M685.50,56.56 L688.50,56.56" stroke="#000" stroke-width="1.1"/>
<path d="M685.50,43.14 L690.50,43.14" stroke="#000" stroke-width="1.1"/>
<text x="692.30" y="47.24" font-family='"Liberation Sans", sans-serif' font-size="11.40" font-weight="normal" font-style="normal" fill="#000" text-anchor="start" >80</text>
<path d="M685.50,29.72 L688.50,29.72" stroke="#000" stroke-width="1.1"/>
<path d="M685.50,16.30 L690.50,16.30" stroke="#000" stroke-width="1.1"/>
<text x="692.30" y="20.40" font-family='"Liberation Sans", sans-serif' font-size="11.40" font-weight="normal" font-style="normal" fill="#000" text-anchor="start" >100</text>
<path d="M459.60,150.70 L459.60,154.70" stroke="#000" stroke-width="1.1"/>
<text x="460.00" y="170.80" font-family='"Liberation Sans", sans-serif' font-size="11.40" font-weight="normal" font-style="normal" fill="#000" text-anchor="middle" >0</text>
<path d="M469.87,150.70 L469.87,153.20" stroke="#000" stroke-width="1.1"/>
<path d="M480.14,150.70 L480.14,153.20" stroke="#000" stroke-width="1.1"/>
<path d="M490.41,150.70 L490.41,153.20" stroke="#000" stroke-width="1.1"/>
<path d="M500.68,150.70 L500.68,153.20" stroke="#000" stroke-width="1.1"/>
<path d="M510.95,150.70 L510.95,154.70" stroke="#000" stroke-width="1.1"/>
<text x="511.35" y="170.80" font-family='"Liberation Sans", sans-serif' font-size="11.40" font-weight="normal" font-style="normal" fill="#000" text-anchor="middle" >5</text>
<path d="M521.22,150.70 L521.22,153.20" stroke="#000" stroke-width="1.1"/>
<path d="M531.49,150.70 L531.49,153.20" stroke="#000" stroke-width="1.1"/>
<path d="M541.76,150.70 L541.76,153.20" stroke="#000" stroke-width="1.1"/>
<path d="M552.03,150.70 L552.03,153.20" stroke="#000" stroke-width="1.1"/>
<path d="M562.30,150.70 L562.30,154.70" stroke="#000" stroke-width="1.1"/>
<text x="562.70" y="170.80" font-family='"Liberation Sans", sans-serif' font-size="11.40" font-weight="normal" font-style="normal" fill="#000" text-anchor="middle" >10</text>
<path d="M572.57,150.70 L572.57,153.20" stroke="#000" stroke-width="1.1"/>
<path d="M582.84,150.70 L582.84,153.20" stroke="#000" stroke-width="1.1"/>
<path d="M593.11,150.70 L593.11,153.20" stroke="#000" stroke-width="1.1"/>
<path d="M603.38,150.70 L603.38,153.20" stroke="#000" stroke-width="1.1"/>
<path d="M613.65,150.70 L613.65,154.70" stroke="#000" stroke-width="1.1"/>
<text x="614.05" y="170.80" font-family='"Liberation Sans", sans-serif' font-size="11.40" font-weight="normal" font-style="normal" fill="#000" text-anchor="middle" >15</text>
<path d="M623.92,150.70 L623.92,153.20" stroke="#000" stroke-width="1.1"/>
<path d="M634.19,150.70 L634.19,153.20" stroke="#000" stroke-width="1.1"/>
<path d="M644.46,150.70 L644.46,153.20" stroke="#000" stroke-width="1.1"/>
<path d="M654.73,150.70 L654.73,153.20" stroke="#000" stroke-width="1.1"/>
<path d="M665.00,150.70 L665.00,154.70" stroke="#000" stroke-width="1.1"/>
<text x="665.40" y="170.80" font-family='"Liberation Sans", sans-serif' font-size="11.40" font-weight="normal" font-style="normal" fill="#000" text-anchor="middle" >20</text>
<path d="M675.27,150.70 L675.27,153.20" stroke="#000" stroke-width="1.1"/>
<text x="579.50" y="187.00" font-family='"Liberation Serif", serif' font-size="13.60" font-weight="bold" font-style="normal" fill="#000" text-anchor="middle" >Indentation (mm)</text>
<text transform="translate(422.2,81.4) rotate(-90)" x="0" y="0" font-family='"Liberation Serif", serif' font-size="13.7" font-weight="bold" text-anchor="middle">Probe Pressure (kPa)</text>
<text transform="translate(716.0,81.2) rotate(90)" x="0" y="0" font-family='"Liberation Serif", serif' font-size="13.5" font-weight="bold" text-anchor="middle">Probe Force (N)</text>
<text x="464.60" y="29.40" font-family='"Liberation Serif", serif' font-size="18.00" font-weight="bold" font-style="normal" fill="#000" text-anchor="start" >(g)</text>
<path d="M459.60,43.50 L593.40,43.50 L593.40,99.30 L459.60,99.30" fill="none" stroke="#000" stroke-width="1.1"/>
<path d="M459.60,99.30 L459.60,103.30" stroke="#000" stroke-width="1.1"/>
<path d="M469.87,99.30 L469.87,101.80" stroke="#000" stroke-width="1.1"/>
<path d="M480.14,99.30 L480.14,101.80" stroke="#000" stroke-width="1.1"/>
<path d="M490.41,99.30 L490.41,101.80" stroke="#000" stroke-width="1.1"/>
<path d="M500.68,99.30 L500.68,101.80" stroke="#000" stroke-width="1.1"/>
<path d="M510.95,99.30 L510.95,103.30" stroke="#000" stroke-width="1.1"/>
<text x="510.95" y="117.90" font-family='"Liberation Sans", sans-serif' font-size="11.40" font-weight="normal" font-style="normal" fill="#000" text-anchor="middle" >5</text>
<path d="M521.22,99.30 L521.22,101.80" stroke="#000" stroke-width="1.1"/>
<path d="M531.49,99.30 L531.49,101.80" stroke="#000" stroke-width="1.1"/>
<path d="M541.76,99.30 L541.76,101.80" stroke="#000" stroke-width="1.1"/>
<path d="M552.03,99.30 L552.03,101.80" stroke="#000" stroke-width="1.1"/>
<path d="M562.30,99.30 L562.30,103.30" stroke="#000" stroke-width="1.1"/>
<text x="562.30" y="117.90" font-family='"Liberation Sans", sans-serif' font-size="11.40" font-weight="normal" font-style="normal" fill="#000" text-anchor="middle" >10</text>
<path d="M572.57,99.30 L572.57,101.80" stroke="#000" stroke-width="1.1"/>
<path d="M582.84,99.30 L582.84,101.80" stroke="#000" stroke-width="1.1"/>
<path d="M593.11,99.30 L593.11,101.80" stroke="#000" stroke-width="1.1"/>
<path d="M593.40,99.30 L597.40,99.30" stroke="#000" stroke-width="1.1"/>
<text x="598.40" y="103.60" font-family='"Liberation Sans", sans-serif' font-size="11.40" font-weight="normal" font-style="normal" fill="#000" text-anchor="start" >0</text>
<path d="M593.40,92.33 L595.90,92.33" stroke="#000" stroke-width="1.1"/>
<path d="M593.40,85.35 L597.40,85.35" stroke="#000" stroke-width="1.1"/>
<text x="598.40" y="89.65" font-family='"Liberation Sans", sans-serif' font-size="11.40" font-weight="normal" font-style="normal" fill="#000" text-anchor="start" >20</text>
<path d="M593.40,78.38 L595.90,78.38" stroke="#000" stroke-width="1.1"/>
<path d="M593.40,71.40 L597.40,71.40" stroke="#000" stroke-width="1.1"/>
<text x="598.40" y="75.70" font-family='"Liberation Sans", sans-serif' font-size="11.40" font-weight="normal" font-style="normal" fill="#000" text-anchor="start" >40</text>
<path d="M593.40,64.42 L595.90,64.42" stroke="#000" stroke-width="1.1"/>
<path d="M593.40,57.45 L597.40,57.45" stroke="#000" stroke-width="1.1"/>
<text x="598.40" y="61.75" font-family='"Liberation Sans", sans-serif' font-size="11.40" font-weight="normal" font-style="normal" fill="#000" text-anchor="start" >60</text>
<path d="M593.40,50.47 L595.90,50.47" stroke="#000" stroke-width="1.1"/>
<path d="M593.40,43.50 L597.40,43.50" stroke="#000" stroke-width="1.1"/>
<text x="598.40" y="47.80" font-family='"Liberation Sans", sans-serif' font-size="11.40" font-weight="normal" font-style="normal" fill="#000" text-anchor="start" >80</text>
<text x="507.40" y="71.20" font-family='"Liberation Sans", sans-serif' font-size="10.00" font-weight="normal" font-style="normal" fill="#000" text-anchor="start" >scan 2</text>
<text x="640.60" y="40.30" font-family='"Liberation Sans", sans-serif' font-size="9.30" font-weight="normal" font-style="normal" fill="#000" text-anchor="start" >1-4</text>
<polyline points="459.70,99.00 460.84,99.00 461.98,99.00 463.12,99.00 464.26,99.00 465.40,99.00 465.90,97.30 466.90,97.68 467.90,97.30 468.80,99.00 470.00,97.38 471.20,94.40 472.25,95.75 473.30,98.60 474.60,97.30 475.80,95.59 477.00,94.00 478.00,94.71 479.00,94.24 480.00,94.64 481.00,93.38 482.00,94.00 482.80,99.00 483.70,94.00 485.30,93.20 486.60,96.50 487.80,92.80 488.90,92.45 490.00,91.79 491.10,91.90 491.90,89.90 493.60,94.00 494.40,91.50 495.50,91.30 496.60,91.08 497.70,90.70 499.20,89.40 501.00,89.00 502.25,88.67 503.50,89.90 504.30,91.10 505.20,89.00 506.20,88.50 507.20,88.90 508.25,88.00 509.30,87.80 511.00,88.60 512.60,87.80 514.20,87.00 515.90,86.10 517.20,86.60 518.55,85.82 519.90,83.70 521.50,85.00 523.00,82.60 524.80,81.90 526.05,83.53 527.30,84.30 528.50,81.61 529.70,80.00 530.95,79.58 532.20,78.20 533.20,77.62 534.20,78.39 535.20,78.20 536.50,83.10 537.70,78.80 538.73,77.80 539.77,77.20 540.80,77.60 542.00,78.60 543.20,75.70 544.80,76.80 545.85,76.54 546.90,75.10 548.50,75.80 550.00,73.60 551.80,73.30 553.20,74.20 554.35,72.34 555.50,71.40 557.00,72.20 558.00,70.80 559.20,68.40 561.00,64.70 562.20,63.60 563.50,59.20 564.70,56.10 565.90,57.30 567.10,53.70 569.00,48.70 570.50,43.50" fill="none" stroke="#000" stroke-width="1.15" stroke-linejoin="round"/>
<defs><clipPath id="gclip"><path d="M459.6,99.9 L594.0,99.9 L594.0,10.8 L685.5,10.8 L685.5,150.7 L459.6,150.7 Z"/></clipPath></defs>
<g clip-path="url(#gclip)">
<polyline points="459.60,150.60 460.60,150.56 461.60,150.53 462.60,150.49 463.60,150.46 464.60,150.42 465.60,150.38 466.60,150.34 467.60,150.31 468.60,150.27 469.60,150.23 470.60,150.20 471.60,150.16 472.60,150.12 473.60,150.09 474.60,150.05 475.60,150.02 476.60,149.98 477.60,149.95 478.60,149.91 479.60,149.88 480.60,149.85 481.60,149.81 482.60,149.78 483.60,149.75 484.60,149.72 485.60,149.69 486.60,149.66 487.60,149.63 488.60,149.61 489.60,149.58 490.60,149.55 491.60,149.53 492.60,149.50 493.60,149.47 494.60,149.45 495.60,149.42 496.60,149.39 497.60,149.37 498.60,149.34 499.60,149.31 500.60,149.28 501.60,149.25 502.60,149.22 503.60,149.18 504.60,149.15 505.60,149.11 506.60,149.08 507.60,149.04 508.60,149.00 509.60,148.95 510.60,148.91 511.60,148.86 512.60,148.82 513.60,148.77 514.60,148.72 515.60,148.67 516.60,148.61 517.60,148.56 518.60,148.51 519.60,148.46 520.60,148.40 521.60,148.35 522.60,148.29 523.60,148.24 524.60,148.18 525.60,148.13 526.60,148.08 527.60,148.02 528.60,147.97 529.60,147.92 530.60,147.87 531.60,147.82 532.60,147.77 533.60,147.73 534.60,147.68 535.60,147.64 536.60,147.59 537.60,147.55 538.60,147.50 539.60,147.45 540.60,147.40 541.60,147.35 542.60,147.30 543.60,147.25 544.60,147.19 545.60,147.13 546.60,147.07 547.60,147.01 548.60,146.94 549.60,146.86 550.60,146.78 551.60,146.69 552.60,146.60 553.60,146.50 554.60,146.39 555.60,146.28 556.60,146.15 557.60,146.02 558.60,145.87 559.60,145.71 560.60,145.54 561.60,145.35 562.60,145.13 563.60,144.88 564.60,144.58 565.60,144.25 566.60,143.91 567.60,143.54 568.60,143.14 569.60,142.72 570.60,142.26 571.60,141.79 572.60,141.30 573.60,140.79 574.60,140.25 575.60,139.66 576.60,139.05 577.60,138.41 578.60,137.76 579.60,137.09 580.60,136.40 581.60,135.68 582.60,134.93 583.60,134.16 584.60,133.37 585.60,132.58 586.60,131.78 587.60,130.99 588.60,130.21 589.60,129.44 590.60,128.70 591.60,127.96 592.60,127.22 593.60,126.49 594.60,125.75 595.60,125.02 596.60,124.27 597.60,123.51 598.60,122.73 599.60,121.94 600.60,121.13 601.60,120.31 602.60,119.47 603.60,118.63 604.60,117.78 605.60,116.91 606.60,116.04 607.60,115.17 608.60,114.28 609.60,113.40 610.60,112.50 611.60,111.59 612.60,110.66 613.60,109.71 614.60,108.73 615.60,107.73 616.60,106.71 617.60,105.67 618.60,104.62 619.60,103.55 620.60,102.47 621.60,101.38 622.60,100.27 623.60,99.16 624.60,98.04 625.60,96.92 626.60,95.79 627.60,94.66 628.60,93.53 629.60,92.38 630.60,91.22 631.60,90.03 632.60,88.83 633.60,87.60 634.60,86.35 635.60,85.06 636.60,83.74 637.60,82.38 638.60,81.00 639.60,79.58 640.60,78.13 641.60,76.64 642.60,75.11 643.60,73.54 644.60,71.92 645.60,70.26 646.60,68.55 647.60,66.76 648.60,64.87 649.60,62.90 650.60,60.93 651.60,58.97 652.60,56.98 653.60,54.99 654.60,53.00 655.60,50.99 656.60,48.94 657.60,46.86 658.60,44.77 659.60,42.67 660.60,40.57 661.60,38.45 662.60,36.32 663.60,34.18 664.60,32.03" fill="none" stroke="#000" stroke-width="0.85"/>
<polyline points="459.60,150.60 460.60,150.56 461.60,150.53 462.60,150.49 463.60,150.46 464.60,150.42 465.60,150.38 466.60,150.34 467.60,150.31 468.60,150.27 469.60,150.23 470.60,150.20 471.60,150.16 472.60,150.12 473.60,150.09 474.60,150.05 475.60,150.02 476.60,149.98 477.60,149.95 478.60,149.91 479.60,149.88 480.60,149.85 481.60,149.81 482.60,149.78 483.60,149.75 484.60,149.72 485.60,149.69 486.60,149.66 487.60,149.63 488.60,149.61 489.60,149.58 490.60,149.55 491.60,149.53 492.60,149.50 493.60,149.47 494.60,149.45 495.60,149.42 496.60,149.39 497.60,149.37 498.60,149.34 499.60,149.31 500.60,149.28 501.60,149.25 502.60,149.22 503.60,149.18 504.60,149.15 505.60,149.11 506.60,149.08 507.60,149.04 508.60,149.00 509.60,148.95 510.60,148.91 511.60,148.86 512.60,148.82 513.60,148.77 514.60,148.72 515.60,148.67 516.60,148.61 517.60,148.56 518.60,148.51 519.60,148.46 520.60,148.40 521.60,148.35 522.60,148.29 523.60,148.24 524.60,148.18 525.60,148.13 526.60,148.08 527.60,148.02 528.60,147.97 529.60,147.92 530.60,147.87 531.60,147.82 532.60,147.77 533.60,147.73 534.60,147.68 535.60,147.64 536.60,147.59 537.60,147.55 538.60,147.50 539.60,147.45 540.60,147.40 541.60,147.35 542.60,147.30 543.60,147.25 544.60,147.19 545.60,147.14 546.60,147.08 547.60,147.02 548.60,146.95 549.60,146.88 550.60,146.81 551.60,146.73 552.60,146.64 553.60,146.55 554.60,146.45 555.60,146.35 556.60,146.24 557.60,146.12 558.60,145.99 559.60,145.85 560.60,145.70 561.60,145.53 562.60,145.35 563.60,145.15 564.60,144.91 565.60,144.64 566.60,144.34 567.60,144.01 568.60,143.68 569.60,143.31 570.60,142.92 571.60,142.51 572.60,142.07 573.60,141.62 574.60,141.15 575.60,140.66 576.60,140.14 577.60,139.61 578.60,139.06 579.60,138.49 580.60,137.91 581.60,137.32 582.60,136.72 583.60,136.09 584.60,135.43 585.60,134.73 586.60,134.00 587.60,133.25 588.60,132.50 589.60,131.74 590.60,130.99 591.60,130.25 592.60,129.53 593.60,128.82 594.60,128.12 595.60,127.42 596.60,126.73 597.60,126.03 598.60,125.33 599.60,124.63 600.60,123.92 601.60,123.19 602.60,122.45 603.60,121.69 604.60,120.92 605.60,120.14 606.60,119.35 607.60,118.55 608.60,117.74 609.60,116.92 610.60,116.10 611.60,115.27 612.60,114.44 613.60,113.60 614.60,112.75 615.60,111.89 616.60,111.02 617.60,110.13 618.60,109.21 619.60,108.28 620.60,107.32 621.60,106.35 622.60,105.36 623.60,104.36 624.60,103.34 625.60,102.32 626.60,101.28 627.60,100.24 628.60,99.19 629.60,98.13 630.60,97.06 631.60,96.00 632.60,94.93 633.60,93.85 634.60,92.77 635.60,91.67 636.60,90.56 637.60,89.43 638.60,88.28 639.60,87.11 640.60,85.91 641.60,84.68 642.60,83.42 643.60,82.13 644.60,80.81 645.60,79.47 646.60,78.09 647.60,76.68 648.60,75.23 649.60,73.75 650.60,72.23 651.60,70.66 652.60,69.06 653.60,67.39 654.60,65.64 655.60,63.80 656.60,61.90 657.60,59.96 658.60,57.98 659.60,55.99 660.60,54.00 661.60,52.00 662.60,49.97 663.60,47.90 664.60,45.82 665.60,43.72 666.60,41.62 667.60,39.51 668.60,37.39 669.60,35.25 670.60,33.10 671.60,30.96 672.60,28.81" fill="none" stroke="#000" stroke-width="0.85"/>
<polyline points="459.60,150.60 460.60,150.56 461.60,150.53 462.60,150.49 463.60,150.46 464.60,150.42 465.60,150.38 466.60,150.34 467.60,150.31 468.60,150.27 469.60,150.23 470.60,150.20 471.60,150.16 472.60,150.12 473.60,150.09 474.60,150.05 475.60,150.02 476.60,149.98 477.60,149.95 478.60,149.91 479.60,149.88 480.60,149.85 481.60,149.81 482.60,149.78 483.60,149.75 484.60,149.72 485.60,149.69 486.60,149.66 487.60,149.63 488.60,149.61 489.60,149.58 490.60,149.55 491.60,149.53 492.60,149.50 493.60,149.47 494.60,149.45 495.60,149.42 496.60,149.39 497.60,149.37 498.60,149.34 499.60,149.31 500.60,149.28 501.60,149.25 502.60,149.22 503.60,149.18 504.60,149.15 505.60,149.11 506.60,149.08 507.60,149.04 508.60,149.00 509.60,148.95 510.60,148.91 511.60,148.86 512.60,148.82 513.60,148.77 514.60,148.72 515.60,148.67 516.60,148.61 517.60,148.56 518.60,148.51 519.60,148.46 520.60,148.40 521.60,148.35 522.60,148.29 523.60,148.24 524.60,148.18 525.60,148.13 526.60,148.08 527.60,148.02 528.60,147.97 529.60,147.92 530.60,147.87 531.60,147.82 532.60,147.77 533.60,147.73 534.60,147.68 535.60,147.64 536.60,147.59 537.60,147.55 538.60,147.50 539.60,147.45 540.60,147.40 541.60,147.35 542.60,147.30 543.60,147.25 544.60,147.19 545.60,147.13 546.60,147.07 547.60,147.01 548.60,146.94 549.60,146.86 550.60,146.78 551.60,146.69 552.60,146.60 553.60,146.50 554.60,146.39 555.60,146.28 556.60,146.15 557.60,146.02 558.60,145.87 559.60,145.71 560.60,145.54 561.60,145.35 562.60,145.13 563.60,144.88 564.60,144.58 565.60,144.25 566.60,143.91 567.60,143.54 568.60,143.14 569.60,142.72 570.60,142.26 571.60,141.79 572.60,141.30 573.60,140.79 574.60,140.25 575.60,139.68 576.60,139.10 577.60,138.50 578.60,137.88 579.60,137.25 580.60,136.61 581.60,135.94 582.60,135.23 583.60,134.51 584.60,133.77 585.60,133.02 586.60,132.27 587.60,131.52 588.60,130.77 589.60,130.03 590.60,129.31 591.60,128.61 592.60,127.91 593.60,127.21 594.60,126.52 595.60,125.82 596.60,125.12 597.60,124.42 598.60,123.70 599.60,122.97 600.60,122.22 601.60,121.46 602.60,120.69 603.60,119.91 604.60,119.11 605.60,118.31 606.60,117.50 607.60,116.68 608.60,115.85 609.60,115.02 610.60,114.18 611.60,113.34 612.60,112.50 613.60,111.64 614.60,110.76 615.60,109.86 616.60,108.93 617.60,107.99 618.60,107.03 619.60,106.05 620.60,105.06 621.60,104.06 622.60,103.04 623.60,102.01 624.60,100.97 625.60,99.92 626.60,98.87 627.60,97.81 628.60,96.74 629.60,95.68 630.60,94.61 631.60,93.53 632.60,92.44 633.60,91.34 634.60,90.23 635.60,89.09 636.60,87.93 637.60,86.75 638.60,85.54 639.60,84.31 640.60,83.03 641.60,81.74 642.60,80.41 643.60,79.06 644.60,77.67 645.60,76.25 646.60,74.79 647.60,73.30 648.60,71.76 649.60,70.19 650.60,68.56 651.60,66.88 652.60,65.09 653.60,63.24 654.60,61.32 655.60,59.37 656.60,57.38 657.60,55.39 658.60,53.40 659.60,51.39 660.60,49.35 661.60,47.28 662.60,45.19 663.60,43.09 664.60,40.99 665.60,38.88 666.60,36.75 667.60,34.60 668.60,32.46 669.60,30.31" fill="none" stroke="#000" stroke-width="1.3"/>
<polyline points="459.60,150.60 460.60,150.56 461.60,150.53 462.60,150.49 463.60,150.46 464.60,150.42 465.60,150.38 466.60,150.34 467.60,150.31 468.60,150.27 469.60,150.23 470.60,150.20 471.60,150.16 472.60,150.12 473.60,150.09 474.60,150.05 475.60,150.02 476.60,149.98 477.60,149.95 478.60,149.91 479.60,149.88 480.60,149.85 481.60,149.81 482.60,149.78 483.60,149.75 484.60,149.72 485.60,149.69 486.60,149.66 487.60,149.63 488.60,149.61 489.60,149.58 490.60,149.55 491.60,149.53 492.60,149.50 493.60,149.47 494.60,149.45 495.60,149.42 496.60,149.39 497.60,149.37 498.60,149.34 499.60,149.31 500.60,149.28 501.60,149.25 502.60,149.22 503.60,149.18 504.60,149.15 505.60,149.11 506.60,149.08 507.60,149.04 508.60,149.00 509.60,148.95 510.60,148.91 511.60,148.86 512.60,148.82 513.60,148.77 514.60,148.72 515.60,148.67 516.60,148.61 517.60,148.56 518.60,148.51 519.60,148.46 520.60,148.40 521.60,148.35 522.60,148.29 523.60,148.24 524.60,148.18 525.60,148.13 526.60,148.08 527.60,148.02 528.60,147.97 529.60,147.92 530.60,147.87 531.60,147.82 532.60,147.77 533.60,147.73 534.60,147.68 535.60,147.64 536.60,147.59 537.60,147.55 538.60,147.50 539.60,147.45 540.60,147.40 541.60,147.35 542.60,147.30 543.60,147.25 544.60,147.19 545.60,147.13 546.60,147.07 547.60,147.01 548.60,146.94 549.60,146.86 550.60,146.78 551.60,146.69 552.60,146.60 553.60,146.50 554.60,146.39 555.60,146.28 556.60,146.15 557.60,146.02 558.60,145.87 559.60,145.71 560.60,145.54 561.60,145.35 562.60,145.15 563.60,144.90 564.60,144.61 565.60,144.30 566.60,143.96 567.60,143.61 568.60,143.22 569.60,142.81 570.60,142.37 571.60,141.92 572.60,141.44 573.60,140.95 574.60,140.43 575.60,139.88 576.60,139.32 577.60,138.74 578.60,138.14 579.60,137.53 580.60,136.91 581.60,136.27 582.60,135.59 583.60,134.90 584.60,134.18 585.60,133.46 586.60,132.72 587.60,131.98 588.60,131.25 589.60,130.52 590.60,129.81 591.60,129.11 592.60,128.42 593.60,127.74 594.60,127.06 595.60,126.38 596.60,125.70 597.60,125.02 598.60,124.32 599.60,123.62 600.60,122.90 601.60,122.15 602.60,121.39 603.60,120.61 604.60,119.83 605.60,119.03 606.60,118.23 607.60,117.42 608.60,116.60 609.60,115.77 610.60,114.94 611.60,114.10 612.60,113.26 613.60,112.41 614.60,111.55 615.60,110.67 616.60,109.77 617.60,108.84 618.60,107.90 619.60,106.93 620.60,105.95 621.60,104.96 622.60,103.95 623.60,102.94 624.60,101.91 625.60,100.87 626.60,99.82 627.60,98.76 628.60,97.70 629.60,96.64 630.60,95.57 631.60,94.50 632.60,93.42 633.60,92.33 634.60,91.23 635.60,90.11 636.60,88.98 637.60,87.82 638.60,86.63 639.60,85.42 640.60,84.18 641.60,82.91 642.60,81.60 643.60,80.28 644.60,78.92 645.60,77.53 646.60,76.10 647.60,74.64 648.60,73.15 649.60,71.61 650.60,70.03 651.60,68.40 652.60,66.70 653.60,64.91 654.60,63.05 655.60,61.13 656.60,59.17 657.60,57.18 658.60,55.19 659.60,53.20 660.60,51.19 661.60,49.14 662.60,47.07 663.60,44.98 664.60,42.88 665.60,40.78 666.60,38.66 667.60,36.53 668.60,34.39 669.60,32.24 670.60,30.10" fill="none" stroke="#000" stroke-width="1.0"/>
<polyline points="540.00,147.40 541.00,147.23 542.00,147.06 543.00,146.90 544.00,146.73 545.00,146.56 546.00,146.38 547.00,146.20 548.00,146.00 549.00,145.79 550.00,145.58 551.00,145.37 552.00,145.14 553.00,144.91 554.00,144.66 555.00,144.40 556.00,144.12 557.00,143.82 558.00,143.50 559.00,143.14 560.00,142.75 561.00,142.32 562.00,141.86 563.00,141.37 564.00,140.87 565.00,140.36 566.00,139.82 567.00,139.25 568.00,138.65 569.00,138.01 570.00,137.36 571.00,136.70 572.00,136.03 573.00,135.36 574.00,134.67 575.00,133.97 576.00,133.26 577.00,132.53 578.00,131.79 579.00,131.05 580.00,130.29 581.00,129.52 582.00,128.73 583.00,127.94 584.00,127.14 585.00,126.34 586.00,125.54 587.00,124.76 588.00,123.98 589.00,123.22 590.00,122.46 591.00,121.70 592.00,120.94 593.00,120.18 594.00,119.41 595.00,118.64 596.00,117.85 597.00,117.06 598.00,116.27 599.00,115.46 600.00,114.65 601.00,113.82 602.00,112.98 603.00,112.12 604.00,111.25 605.00,110.37 606.00,109.48 607.00,108.58 608.00,107.68 609.00,106.77 610.00,105.85 611.00,104.93 612.00,104.01 613.00,103.08 614.00,102.16 615.00,101.23 616.00,100.30 617.00,99.38 618.00,98.44 619.00,97.50 620.00,96.55 621.00,95.59 622.00,94.60 623.00,93.60 624.00,92.56 625.00,91.49 626.00,90.40 627.00,89.30 628.00,88.20 629.00,87.11 630.00,86.06 631.00,85.02 632.00,83.99 633.00,82.96 634.00,81.91 635.00,80.83 636.00,79.72 637.00,78.59 638.00,77.43 639.00,76.25 640.00,75.05 641.00,73.82 642.00,72.57 643.00,71.28 644.00,69.96 645.00,68.60 646.00,67.21 647.00,65.78 648.00,64.29 649.00,62.76 650.00,61.21 651.00,59.65 652.00,58.11" fill="none" stroke="#000" stroke-width="0.9" stroke-dasharray="3.6,3.2"/>
</g>
<rect x="459.90" y="207.40" width="225.60" height="139.90" fill="none" stroke="#000" stroke-width="1.1"/>
<path d="M454.90,347.30 L459.90,347.30" stroke="#000" stroke-width="1.1"/>
<text x="454.30" y="351.50" font-family='"Liberation Sans", sans-serif' font-size="11.80" font-weight="normal" font-style="normal" fill="#000" text-anchor="end" >0</text>
<path d="M456.90,335.64 L459.90,335.64" stroke="#000" stroke-width="1.1"/>
<path d="M454.90,323.98 L459.90,323.98" stroke="#000" stroke-width="1.1"/>
<text x="454.30" y="328.18" font-family='"Liberation Sans", sans-serif' font-size="11.80" font-weight="normal" font-style="normal" fill="#000" text-anchor="end" >100</text>
<path d="M456.90,312.32 L459.90,312.32" stroke="#000" stroke-width="1.1"/>
<path d="M454.90,300.67 L459.90,300.67" stroke="#000" stroke-width="1.1"/>
<text x="454.30" y="304.87" font-family='"Liberation Sans", sans-serif' font-size="11.80" font-weight="normal" font-style="normal" fill="#000" text-anchor="end" >200</text>
<path d="M456.90,289.01 L459.90,289.01" stroke="#000" stroke-width="1.1"/>
<path d="M454.90,277.35 L459.90,277.35" stroke="#000" stroke-width="1.1"/>
<text x="454.30" y="281.55" font-family='"Liberation Sans", sans-serif' font-size="11.80" font-weight="normal" font-style="normal" fill="#000" text-anchor="end" >300</text>
<path d="M456.90,265.69 L459.90,265.69" stroke="#000" stroke-width="1.1"/>
<path d="M454.90,254.03 L459.90,254.03" stroke="#000" stroke-width="1.1"/>
<text x="454.30" y="258.23" font-family='"Liberation Sans", sans-serif' font-size="11.80" font-weight="normal" font-style="normal" fill="#000" text-anchor="end" >400</text>
<path d="M456.90,242.37 L459.90,242.37" stroke="#000" stroke-width="1.1"/>
<path d="M454.90,230.72 L459.90,230.72" stroke="#000" stroke-width="1.1"/>
<text x="454.30" y="234.92" font-family='"Liberation Sans", sans-serif' font-size="11.80" font-weight="normal" font-style="normal" fill="#000" text-anchor="end" >500</text>
<path d="M456.90,219.06 L459.90,219.06" stroke="#000" stroke-width="1.1"/>
<path d="M454.90,207.40 L459.90,207.40" stroke="#000" stroke-width="1.1"/>
<text x="454.30" y="211.60" font-family='"Liberation Sans", sans-serif' font-size="11.80" font-weight="normal" font-style="normal" fill="#000" text-anchor="end" >600</text>
<path d="M459.90,347.30 L459.90,351.80" stroke="#000" stroke-width="1.1"/>
<text x="459.90" y="369.00" font-family='"Liberation Sans", sans-serif' font-size="11.80" font-weight="normal" font-style="normal" fill="#000" text-anchor="middle" >0</text>
<path d="M477.14,347.30 L477.14,350.30" stroke="#000" stroke-width="1.1"/>
<path d="M494.38,347.30 L494.38,351.80" stroke="#000" stroke-width="1.1"/>
<text x="494.38" y="369.00" font-family='"Liberation Sans", sans-serif' font-size="11.80" font-weight="normal" font-style="normal" fill="#000" text-anchor="middle" >200</text>
<path d="M511.62,347.30 L511.62,350.30" stroke="#000" stroke-width="1.1"/>
<path d="M528.86,347.30 L528.86,351.80" stroke="#000" stroke-width="1.1"/>
<text x="528.86" y="369.00" font-family='"Liberation Sans", sans-serif' font-size="11.80" font-weight="normal" font-style="normal" fill="#000" text-anchor="middle" >400</text>
<path d="M546.10,347.30 L546.10,350.30" stroke="#000" stroke-width="1.1"/>
<path d="M563.34,347.30 L563.34,351.80" stroke="#000" stroke-width="1.1"/>
<text x="563.34" y="369.00" font-family='"Liberation Sans", sans-serif' font-size="11.80" font-weight="normal" font-style="normal" fill="#000" text-anchor="middle" >600</text>
<path d="M580.58,347.30 L580.58,350.30" stroke="#000" stroke-width="1.1"/>
<path d="M597.82,347.30 L597.82,351.80" stroke="#000" stroke-width="1.1"/>
<text x="597.82" y="369.00" font-family='"Liberation Sans", sans-serif' font-size="11.80" font-weight="normal" font-style="normal" fill="#000" text-anchor="middle" >800</text>
<path d="M615.06,347.30 L615.06,350.30" stroke="#000" stroke-width="1.1"/>
<path d="M632.30,347.30 L632.30,351.80" stroke="#000" stroke-width="1.1"/>
<text x="632.30" y="369.00" font-family='"Liberation Sans", sans-serif' font-size="11.80" font-weight="normal" font-style="normal" fill="#000" text-anchor="middle" >1000</text>
<path d="M649.54,347.30 L649.54,350.30" stroke="#000" stroke-width="1.1"/>
<path d="M666.78,347.30 L666.78,351.80" stroke="#000" stroke-width="1.1"/>
<text x="666.78" y="369.00" font-family='"Liberation Sans", sans-serif' font-size="11.80" font-weight="normal" font-style="normal" fill="#000" text-anchor="middle" >1200</text>
<path d="M684.02,347.30 L684.02,350.30" stroke="#000" stroke-width="1.1"/>
<text x="571.80" y="387.80" font-family='"Liberation Serif", serif' font-size="13.70" font-weight="bold" font-style="normal" fill="#000" text-anchor="middle" >Probe Pressure (kPa)</text>
<text transform="translate(423.2,307.7) rotate(-90)" x="0" y="0" font-family='"Liberation Serif", serif' font-size="13.6" text-anchor="start"><tspan font-weight="bold">&#916;R/R</tspan><tspan font-weight="bold" font-size="9.5" dy="2.5">0</tspan><tspan dy="-2.5" font-size="12.6"> (%)</tspan></text>
<text x="464.00" y="225.80" font-family='"Liberation Serif", serif' font-size="18.00" font-weight="bold" font-style="normal" fill="#000" text-anchor="start" >(h)</text>
<defs><clipPath id="hclip"><rect x="459.9" y="207.4" width="225.6" height="139.9"/></clipPath></defs>
<g clip-path="url(#hclip)">
<polyline points="459.80,347.20 460.30,344.65 460.80,342.00 461.30,339.44 461.80,337.16 462.30,335.32 462.80,333.86 463.30,332.58 463.80,331.32 464.30,329.91 464.80,328.21 465.30,326.26 465.80,324.23 466.30,322.29 466.80,320.58 467.30,318.96 467.80,317.50 468.30,316.40 468.80,315.62 469.30,314.95 469.80,314.37 470.30,313.87 470.80,313.42 471.30,313.00 471.80,312.60 472.30,312.23 472.80,311.89 473.30,311.56 473.80,311.25 474.30,310.96 474.80,310.68 475.30,310.41 475.80,310.14 476.30,309.88 476.80,309.61 477.30,309.35 477.80,309.08 478.30,308.81 478.80,308.52 479.30,308.22 479.80,307.92 480.30,307.63 480.80,307.33 481.30,307.04 481.80,306.74 482.30,306.45 482.80,306.15 483.30,305.85 483.80,305.56 484.30,305.26 484.80,304.96 485.30,304.66 485.80,304.35 486.30,304.05 486.80,303.74 487.30,303.43 487.80,303.12 488.30,302.80 488.80,302.49 489.30,302.17 489.80,301.86 490.30,301.54 490.80,301.22 491.30,300.90 491.80,300.58 492.30,300.26 492.80,299.93 493.30,299.61 493.80,299.28 494.30,298.95 494.80,298.63 495.30,298.30 495.80,297.97 496.30,297.64 496.80,297.30 497.30,296.97 497.80,296.64 498.30,296.30 498.80,295.97 499.30,295.63 499.80,295.30 500.30,294.96 500.80,294.62 501.30,294.28 501.80,293.93 502.30,293.59 502.80,293.25 503.30,292.90 503.80,292.55 504.30,292.20 504.80,291.85 505.30,291.50 505.80,291.14 506.30,290.79 506.80,290.43 507.30,290.07 507.80,289.71 508.30,289.35 508.80,288.98 509.30,288.62 509.80,288.25 510.30,287.89 510.80,287.52 511.30,287.15 511.80,286.78 512.30,286.40 512.80,286.03 513.30,285.66 513.80,285.28 514.30,284.90 514.80,284.53 515.30,284.15 515.80,283.77 516.30,283.39 516.80,283.00 517.30,282.62 517.80,282.24 518.30,281.85 518.80,281.47 519.30,281.08 519.80,280.69 520.30,280.30 520.80,279.91 521.30,279.52 521.80,279.13 522.30,278.74 522.80,278.35 523.30,277.96 523.80,277.56 524.30,277.17 524.80,276.78 525.30,276.39 525.80,275.99 526.30,275.60 526.80,275.20 527.30,274.81 527.80,274.41 528.30,274.01 528.80,273.61 529.30,273.21 529.80,272.81 530.30,272.40 530.80,272.00 531.30,271.59 531.80,271.18 532.30,270.77 532.80,270.36 533.30,269.95 533.80,269.53 534.30,269.12 534.80,268.70 535.30,268.28 535.80,267.85 536.30,267.43 536.80,267.00 537.30,266.57 537.80,266.14 538.30,265.70 538.80,265.26 539.30,264.82 539.80,264.38 540.30,263.93 540.80,263.48 541.30,263.03 541.80,262.57 542.30,262.12 542.80,261.65 543.30,261.19 543.80,260.72 544.30,260.25 544.80,259.78 545.30,259.31 545.80,258.83 546.30,258.35 546.80,257.87 547.30,257.38 547.80,256.89 548.30,256.40 548.80,255.91 549.30,255.41 549.80,254.92 550.30,254.42 550.80,253.91 551.30,253.41 551.80,252.90 552.30,252.39 552.80,251.88 553.30,251.37 553.80,250.86 554.30,250.34 554.80,249.82 555.30,249.30 555.80,248.77 556.30,248.24 556.80,247.70 557.30,247.16 557.80,246.60 558.30,246.05 558.80,245.48 559.30,244.92 559.80,244.35 560.30,243.77 560.80,243.20 561.30,242.62 561.80,242.04 562.30,241.45 562.80,240.87 563.30,240.29 563.80,239.71 564.30,239.13 564.80,238.55 565.30,237.97 565.80,237.39 566.30,236.82 566.80,236.25 567.30,235.69 567.80,235.13 568.30,234.57 568.80,234.03 569.30,233.48 569.80,232.95 570.30,232.42 570.80,231.90 571.30,231.39 571.80,230.90 572.30,230.42 572.80,229.95 573.30,229.49 573.80,229.04 574.30,228.59 574.80,228.15 575.30,227.70 575.80,227.26 576.30,226.81 576.80,226.36 577.30,225.90 577.80,225.43 578.30,224.95 578.80,224.46 579.30,223.95 579.80,223.42 580.30,222.88 580.80,222.31 581.30,221.72 581.80,221.08 582.30,220.37 582.80,219.60 583.30,218.81 583.80,218.00 584.30,217.22 584.80,216.48 585.30,215.80 585.80,215.18 586.30,214.57 586.80,213.99 587.30,213.42 587.80,212.87 588.30,212.33 588.80,211.80 589.30,211.28 589.80,210.77 590.30,210.26 590.80,209.76 591.30,209.26 591.80,208.76 592.30,208.26 592.80,207.76 593.30,207.25 593.80,206.74 594.30,206.21" fill="none" stroke="#e60a0a" stroke-width="1.5" stroke-dasharray="2.1,1.3"/>
<polyline points="459.80,347.20 460.80,343.41 461.80,340.33 462.80,338.04 463.80,336.29 464.80,334.88 465.80,333.71 466.80,332.74 467.80,331.91 468.80,331.38 469.80,330.90 470.80,330.59 471.80,330.29 472.80,329.98 473.80,329.68 474.80,329.37 475.80,329.07 476.80,328.76 477.80,328.46 478.80,328.15 479.80,327.85 480.80,327.54 481.80,327.24 482.80,326.93 483.80,326.63 484.80,326.32 485.80,326.02 486.80,325.71 487.80,325.41 488.80,325.10 489.80,324.80 490.80,324.49 491.80,324.19 492.80,323.88 493.80,323.58 494.80,323.29 495.80,323.00 496.80,322.71 497.80,322.42 498.80,322.13 499.80,321.84 500.80,321.56 501.80,321.27 502.80,320.98 503.80,320.69 504.80,320.40 505.80,320.11 506.80,319.82 507.80,319.53 508.80,319.25 509.80,318.96 510.80,318.67 511.80,318.38 512.80,318.09 513.80,317.80 514.80,317.51 515.80,317.23 516.80,316.94 517.80,316.65 518.80,316.36 519.80,316.07 520.80,315.78 521.80,315.49 522.80,315.21 523.80,314.92 524.80,314.63 525.80,314.34 526.80,314.05 527.80,313.76 528.80,313.47 529.80,313.18 530.80,312.90 531.80,312.61 532.80,312.32 533.80,312.03 534.80,311.74 535.80,311.45 536.80,311.16 537.80,310.88 538.80,310.59 539.80,310.30 540.80,310.01 541.80,309.72 542.80,309.43 543.80,309.14 544.80,308.86 545.80,308.57 546.80,308.28 547.80,307.99 548.80,307.70 549.80,307.41 550.80,307.12 551.80,306.83 552.80,306.55 553.80,306.26 554.80,305.97 555.80,305.68 556.80,305.39 557.80,305.10 558.80,304.81 559.80,304.53 560.80,304.24 561.80,303.95 562.80,303.66 563.80,303.37 564.80,303.08 565.80,302.79 566.80,302.51 567.80,302.22 568.80,301.93 569.80,301.64 570.80,301.35 571.80,301.06 572.80,300.77 573.80,300.48 574.80,300.20 575.80,299.91 576.80,299.62 577.80,299.33 578.80,299.04 579.80,298.75 580.80,298.46 581.80,298.18 582.80,297.89 583.80,297.60 584.80,297.31 585.80,297.02 586.80,296.73 587.80,296.44 588.80,296.16 589.80,295.87 590.80,295.58 591.80,295.29 592.80,295.00 593.80,294.71 594.80,294.42 595.80,294.13 596.80,293.85 597.80,293.56 598.80,293.27 599.80,292.98 600.80,292.69 601.80,292.40 602.80,292.11 603.80,291.83 604.80,291.52 605.80,291.22 606.80,290.91 607.80,290.61 608.80,290.30 609.80,290.00 610.80,289.69 611.80,289.39 612.80,289.08 613.80,288.78 614.80,288.47 615.80,288.17 616.80,287.86 617.80,287.56 618.80,287.25 619.80,286.95 620.80,286.64 621.80,286.34 622.80,286.03 623.80,285.73 624.80,285.42 625.80,285.12 626.80,284.81 627.80,284.51 628.80,284.20 629.80,283.90 630.80,283.59 631.80,283.29 632.80,282.98 633.80,282.68 634.80,282.37 635.80,282.07 636.80,281.76 637.80,281.46 638.80,281.15 639.80,280.85 640.80,280.54 641.80,280.24 642.80,279.93 643.80,279.63 644.80,279.32 645.80,279.02 646.80,278.71 647.80,278.41 648.80,278.10 649.80,277.80 650.80,277.49 651.80,277.19 652.80,276.88 653.80,276.58 654.80,276.27 655.80,275.97 656.80,275.66 657.80,275.36" fill="none" stroke="#e60a0a" stroke-width="0.95"/>
<polyline points="459.80,347.20 460.80,343.59 461.80,340.68 462.80,338.57 463.80,336.99 464.80,335.76 465.80,334.76 466.80,333.97 467.80,333.31 468.80,332.78 469.80,332.30 470.80,331.99 471.80,331.69 472.80,331.38 473.80,331.08 474.80,330.77 475.80,330.47 476.80,330.16 477.80,329.86 478.80,329.55 479.80,329.25 480.80,328.94 481.80,328.64 482.80,328.33 483.80,328.03 484.80,327.72 485.80,327.42 486.80,327.11 487.80,326.81 488.80,326.50 489.80,326.20 490.80,325.89 491.80,325.59 492.80,325.28 493.80,324.98 494.80,324.68 495.80,324.38 496.80,324.07 497.80,323.77 498.80,323.47 499.80,323.17 500.80,322.87 501.80,322.57 502.80,322.27 503.80,321.96 504.80,321.66 505.80,321.36 506.80,321.06 507.80,320.76 508.80,320.46 509.80,320.16 510.80,319.86 511.80,319.55 512.80,319.25 513.80,318.95 514.80,318.65 515.80,318.35 516.80,318.05 517.80,317.75 518.80,317.44 519.80,317.14 520.80,316.84 521.80,316.54 522.80,316.24 523.80,315.94 524.80,315.64 525.80,315.33 526.80,315.03 527.80,314.73 528.80,314.43 529.80,314.13 530.80,313.83 531.80,313.53 532.80,313.23 533.80,312.92 534.80,312.62 535.80,312.32 536.80,312.02 537.80,311.72 538.80,311.42 539.80,311.12 540.80,310.81 541.80,310.51 542.80,310.21 543.80,309.91 544.80,309.61 545.80,309.31 546.80,309.01 547.80,308.70 548.80,308.40 549.80,308.10 550.80,307.80 551.80,307.50 552.80,307.20 553.80,306.90 554.80,306.60 555.80,306.29 556.80,305.99 557.80,305.69 558.80,305.39 559.80,305.09 560.80,304.79 561.80,304.49 562.80,304.18 563.80,303.88 564.80,303.58 565.80,303.28 566.80,302.98 567.80,302.68 568.80,302.38 569.80,302.07 570.80,301.77 571.80,301.47 572.80,301.17 573.80,300.87 574.80,300.57 575.80,300.27 576.80,299.97 577.80,299.66 578.80,299.36 579.80,299.06 580.80,298.76 581.80,298.46 582.80,298.16 583.80,297.86 584.80,297.55 585.80,297.25 586.80,296.95 587.80,296.65 588.80,296.35 589.80,296.05 590.80,295.75 591.80,295.44 592.80,295.14 593.80,294.84 594.80,294.54 595.80,294.24 596.80,293.94 597.80,293.64 598.80,293.34 599.80,293.03 600.80,292.73 601.80,292.43 602.80,292.13 603.80,291.83 604.80,291.61 605.80,291.41 606.80,291.22 607.80,291.02 608.80,290.82 609.80,290.62 610.80,290.43 611.80,290.23 612.80,290.03 613.80,289.84 614.80,289.64 615.80,289.44 616.80,289.24 617.80,289.05 618.80,288.85 619.80,288.65 620.80,288.46 621.80,288.26 622.80,288.06 623.80,287.86 624.80,287.67 625.80,287.47 626.80,287.27 627.80,287.08 628.80,286.88 629.80,286.68 630.80,286.48 631.80,286.29 632.80,286.09 633.80,285.89 634.80,285.70 635.80,285.50 636.80,285.30 637.80,285.10 638.80,284.91 639.80,284.71 640.80,284.51 641.80,284.32 642.80,284.12 643.80,283.92 644.80,283.72 645.80,283.53 646.80,283.33 647.80,283.13 648.80,282.94 649.80,282.74 650.80,282.54 651.80,282.34 652.80,282.15 653.80,281.95 654.80,281.75" fill="none" stroke="#e60a0a" stroke-width="0.90"/>
<polyline points="459.80,347.20 460.80,343.75 461.80,341.00 462.80,339.06 463.80,337.64 464.80,336.57 465.80,335.74 466.80,335.11 467.80,334.61 468.80,334.08 469.80,333.60 470.80,333.29 471.80,332.99 472.80,332.68 473.80,332.38 474.80,332.07 475.80,331.77 476.80,331.46 477.80,331.16 478.80,330.85 479.80,330.55 480.80,330.24 481.80,329.94 482.80,329.63 483.80,329.33 484.80,329.02 485.80,328.72 486.80,328.41 487.80,328.11 488.80,327.80 489.80,327.50 490.80,327.19 491.80,326.89 492.80,326.58 493.80,326.28 494.80,325.97 495.80,325.65 496.80,325.34 497.80,325.03 498.80,324.71 499.80,324.40 500.80,324.09 501.80,323.78 502.80,323.46 503.80,323.15 504.80,322.84 505.80,322.52 506.80,322.21 507.80,321.90 508.80,321.58 509.80,321.27 510.80,320.96 511.80,320.64 512.80,320.33 513.80,320.02 514.80,319.70 515.80,319.39 516.80,319.08 517.80,318.76 518.80,318.45 519.80,318.14 520.80,317.82 521.80,317.51 522.80,317.20 523.80,316.89 524.80,316.57 525.80,316.26 526.80,315.95 527.80,315.63 528.80,315.32 529.80,315.01 530.80,314.69 531.80,314.38 532.80,314.07 533.80,313.75 534.80,313.44 535.80,313.13 536.80,312.81 537.80,312.50 538.80,312.19 539.80,311.87 540.80,311.56 541.80,311.25 542.80,310.93 543.80,310.62 544.80,310.31 545.80,310.00 546.80,309.68 547.80,309.37 548.80,309.06 549.80,308.74 550.80,308.43 551.80,308.12 552.80,307.80 553.80,307.49 554.80,307.18 555.80,306.86 556.80,306.55 557.80,306.24 558.80,305.92 559.80,305.61 560.80,305.30 561.80,304.98 562.80,304.67 563.80,304.36 564.80,304.04 565.80,303.73 566.80,303.42 567.80,303.11 568.80,302.79 569.80,302.48 570.80,302.17 571.80,301.85 572.80,301.54 573.80,301.23 574.80,300.91 575.80,300.60 576.80,300.29 577.80,299.97 578.80,299.66 579.80,299.35 580.80,299.03 581.80,298.72 582.80,298.41 583.80,298.09 584.80,297.78 585.80,297.47 586.80,297.15 587.80,296.84 588.80,296.53 589.80,296.22 590.80,295.90 591.80,295.59 592.80,295.28 593.80,294.96 594.80,294.65 595.80,294.34 596.80,294.02 597.80,293.71 598.80,293.40 599.80,293.08 600.80,292.77 601.80,292.46 602.80,292.14 603.80,291.83 604.80,291.63 605.80,291.45 606.80,291.27 607.80,291.09 608.80,290.92 609.80,290.74 610.80,290.56 611.80,290.38 612.80,290.21 613.80,290.03 614.80,289.85 615.80,289.67 616.80,289.50 617.80,289.32 618.80,289.14 619.80,288.96 620.80,288.79 621.80,288.61 622.80,288.43 623.80,288.25 624.80,288.07 625.80,287.90 626.80,287.72 627.80,287.54 628.80,287.36 629.80,287.19 630.80,287.01 631.80,286.83 632.80,286.65 633.80,286.48 634.80,286.30 635.80,286.12 636.80,285.94 637.80,285.77 638.80,285.59 639.80,285.41 640.80,285.23 641.80,285.06 642.80,284.88 643.80,284.70 644.80,284.52 645.80,284.35 646.80,284.17 647.80,283.99 648.80,283.81 649.80,283.64 650.80,283.46 651.80,283.28 652.80,283.10 653.80,282.93 654.80,282.75" fill="none" stroke="#e60a0a" stroke-width="0.90"/>
<polyline points="459.80,347.20 460.80,343.91 461.80,341.33 462.80,339.54 463.80,338.29 464.80,337.38 465.80,336.71 466.80,336.24 467.80,335.91 468.80,335.38 469.80,334.90 470.80,334.59 471.80,334.29 472.80,333.98 473.80,333.68 474.80,333.37 475.80,333.07 476.80,332.76 477.80,332.46 478.80,332.15 479.80,331.85 480.80,331.54 481.80,331.24 482.80,330.93 483.80,330.63 484.80,330.32 485.80,330.02 486.80,329.71 487.80,329.41 488.80,329.10 489.80,328.80 490.80,328.49 491.80,328.19 492.80,327.88 493.80,327.58 494.80,327.26 495.80,326.93 496.80,326.61 497.80,326.28 498.80,325.96 499.80,325.63 500.80,325.31 501.80,324.98 502.80,324.66 503.80,324.33 504.80,324.01 505.80,323.68 506.80,323.36 507.80,323.03 508.80,322.71 509.80,322.38 510.80,322.06 511.80,321.73 512.80,321.41 513.80,321.08 514.80,320.76 515.80,320.43 516.80,320.11 517.80,319.78 518.80,319.46 519.80,319.13 520.80,318.81 521.80,318.48 522.80,318.16 523.80,317.83 524.80,317.51 525.80,317.18 526.80,316.86 527.80,316.53 528.80,316.21 529.80,315.88 530.80,315.56 531.80,315.23 532.80,314.91 533.80,314.58 534.80,314.26 535.80,313.93 536.80,313.61 537.80,313.28 538.80,312.96 539.80,312.63 540.80,312.31 541.80,311.98 542.80,311.66 543.80,311.33 544.80,311.01 545.80,310.68 546.80,310.36 547.80,310.03 548.80,309.71 549.80,309.38 550.80,309.06 551.80,308.73 552.80,308.41 553.80,308.08 554.80,307.76 555.80,307.43 556.80,307.11 557.80,306.78 558.80,306.46 559.80,306.13 560.80,305.81 561.80,305.48 562.80,305.16 563.80,304.83 564.80,304.51 565.80,304.18 566.80,303.86 567.80,303.53 568.80,303.21 569.80,302.88 570.80,302.56 571.80,302.23 572.80,301.91 573.80,301.58 574.80,301.26 575.80,300.93 576.80,300.61 577.80,300.28 578.80,299.96 579.80,299.63 580.80,299.31 581.80,298.98 582.80,298.66 583.80,298.33 584.80,298.01 585.80,297.68 586.80,297.36 587.80,297.03 588.80,296.71 589.80,296.38 590.80,296.06 591.80,295.73 592.80,295.41 593.80,295.08 594.80,294.76 595.80,294.43 596.80,294.11 597.80,293.78 598.80,293.46 599.80,293.13 600.80,292.81 601.80,292.48 602.80,292.16 603.80,291.83 604.80,291.62 605.80,291.43 606.80,291.24 607.80,291.06 608.80,290.87 609.80,290.68 610.80,290.49 611.80,290.31 612.80,290.12 613.80,289.93 614.80,289.74 615.80,289.56 616.80,289.37 617.80,289.18 618.80,289.00 619.80,288.81 620.80,288.62 621.80,288.43 622.80,288.25 623.80,288.06 624.80,287.87 625.80,287.68 626.80,287.50 627.80,287.31 628.80,287.12 629.80,286.93 630.80,286.75 631.80,286.56 632.80,286.37 633.80,286.18 634.80,286.00 635.80,285.81 636.80,285.62 637.80,285.44 638.80,285.25 639.80,285.06 640.80,284.87 641.80,284.69 642.80,284.50 643.80,284.31 644.80,284.12 645.80,283.94 646.80,283.75 647.80,283.56 648.80,283.37 649.80,283.19 650.80,283.00 651.80,282.81 652.80,282.63 653.80,282.44 654.80,282.25" fill="none" stroke="#e60a0a" stroke-width="1.10"/>
<polyline points="471.00,347.30 472.00,347.30 473.00,347.30 474.00,346.30 475.00,345.97 476.00,345.64 477.00,345.30 478.00,344.97 479.00,344.64 480.00,344.31 481.00,343.98 482.00,343.65 483.00,343.33 484.00,343.00 485.00,342.67 486.00,342.34 487.00,342.01 488.00,341.69 489.00,341.36 490.00,341.03 491.00,340.71 492.00,340.38 493.00,340.06 494.00,339.73 495.00,339.41 496.00,339.08 497.00,338.76 498.00,338.43 499.00,338.21 500.00,337.98 501.00,337.75 502.00,337.52 503.00,337.29 504.00,337.07 505.00,336.84 506.00,336.61 507.00,336.39 508.00,336.16 509.00,335.93 510.00,335.71 511.00,335.48 512.00,335.25 513.00,335.03 514.00,334.80 515.00,334.57 516.00,334.35 517.00,334.12 518.00,333.89 519.00,333.67 520.00,333.44 521.00,333.21 522.00,332.98 523.00,332.76 524.00,332.53 525.00,332.30 526.00,332.07 527.00,331.85 528.00,331.62 529.00,331.39 530.00,331.16 531.00,330.93 532.00,330.71 533.00,330.48 534.00,330.25 535.00,330.02 536.00,329.79 537.00,329.56 538.00,329.33 539.00,329.10 540.00,328.87 541.00,328.63 542.00,328.40 543.00,328.17 544.00,327.94 545.00,327.71 546.00,327.47 547.00,327.24 548.00,327.00 549.00,326.77 550.00,326.54 551.00,326.30 552.00,326.06 553.00,325.83 554.00,325.59 555.00,325.35 556.00,325.12 557.00,324.88 558.00,324.64 559.00,324.40 560.00,324.16 561.00,323.92 562.00,323.68 563.00,323.44 564.00,323.19 565.00,322.95 566.00,322.71 567.00,322.46 568.00,322.22 569.00,321.97 570.00,321.72 571.00,321.48 572.00,321.23 573.00,320.98 574.00,320.73 575.00,320.48 576.00,320.23 577.00,319.98 578.00,319.73 579.00,319.47 580.00,319.22 581.00,318.96 582.00,318.71 583.00,318.45 584.00,318.19 585.00,317.93 586.00,317.67 587.00,317.41 588.00,317.15 589.00,316.89 590.00,316.63 591.00,316.36 592.00,316.10 593.00,315.83 594.00,315.56 595.00,315.30 596.00,315.03 597.00,314.76 598.00,314.49 599.00,314.21 600.00,313.94 601.00,313.66 602.00,313.39 603.00,313.11 604.00,312.83 605.00,312.56 606.00,312.28 607.00,311.99 608.00,311.71 609.00,311.43 610.00,311.14 611.00,310.86 612.00,310.57 613.00,310.28 614.00,309.99 615.00,309.70 616.00,309.41 617.00,309.11 618.00,308.82 619.00,308.52 620.00,308.22 621.00,307.92 622.00,307.62 623.00,307.32 624.00,307.02 625.00,306.71 626.00,306.41 627.00,306.10 628.00,305.79 629.00,305.48 630.00,305.17 631.00,304.86 632.00,304.54 633.00,304.23 634.00,303.91 635.00,303.59 636.00,303.27 637.00,302.95 638.00,302.62 639.00,302.30 640.00,301.97 641.00,301.64 642.00,301.31 643.00,300.98 644.00,300.64 645.00,300.31 646.00,299.97 647.00,299.63 648.00,299.29 649.00,298.95 650.00,298.61 651.00,298.26 652.00,297.92 653.00,297.57" fill="none" stroke="#000" stroke-width="0.75"/>
<polyline points="471.00,347.30 472.00,347.30 473.00,347.30 474.00,346.36 475.00,346.09 476.00,345.82 477.00,345.54 478.00,345.27 479.00,345.00 480.00,344.73 481.00,344.46 482.00,344.19 483.00,343.93 484.00,343.66 485.00,343.39 486.00,343.12 487.00,342.85 488.00,342.59 489.00,342.32 490.00,342.05 491.00,341.79 492.00,341.52 493.00,341.26 494.00,340.99 495.00,340.73 496.00,340.46 497.00,340.20 498.00,339.93 499.00,339.71 500.00,339.48 501.00,339.25 502.00,339.02 503.00,338.79 504.00,338.57 505.00,338.34 506.00,338.11 507.00,337.89 508.00,337.66 509.00,337.43 510.00,337.21 511.00,336.98 512.00,336.75 513.00,336.53 514.00,336.30 515.00,336.07 516.00,335.85 517.00,335.62 518.00,335.39 519.00,335.17 520.00,334.94 521.00,334.71 522.00,334.48 523.00,334.26 524.00,334.03 525.00,333.80 526.00,333.57 527.00,333.35 528.00,333.12 529.00,332.89 530.00,332.66 531.00,332.43 532.00,332.21 533.00,331.98 534.00,331.75 535.00,331.52 536.00,331.29 537.00,331.06 538.00,330.83 539.00,330.60 540.00,330.37 541.00,330.13 542.00,329.90 543.00,329.67 544.00,329.44 545.00,329.21 546.00,328.97 547.00,328.74 548.00,328.50 549.00,328.27 550.00,328.04 551.00,327.80 552.00,327.56 553.00,327.33 554.00,327.09 555.00,326.85 556.00,326.62 557.00,326.38 558.00,326.14 559.00,325.90 560.00,325.66 561.00,325.42 562.00,325.18 563.00,324.94 564.00,324.69 565.00,324.45 566.00,324.21 567.00,323.96 568.00,323.72 569.00,323.47 570.00,323.22 571.00,322.98 572.00,322.73 573.00,322.48 574.00,322.23 575.00,321.98 576.00,321.73 577.00,321.48 578.00,321.23 579.00,320.97 580.00,320.72 581.00,320.46 582.00,320.21 583.00,319.95 584.00,319.69 585.00,319.43 586.00,319.17 587.00,318.91 588.00,318.65 589.00,318.39 590.00,318.13 591.00,317.86 592.00,317.60 593.00,317.33 594.00,317.06 595.00,316.80 596.00,316.53 597.00,316.26 598.00,315.99 599.00,315.71 600.00,315.44 601.00,315.16 602.00,314.89 603.00,314.61 604.00,314.33 605.00,314.06 606.00,313.78 607.00,313.49 608.00,313.21 609.00,312.93 610.00,312.64 611.00,312.36 612.00,312.07 613.00,311.78 614.00,311.49 615.00,311.20 616.00,310.91 617.00,310.61 618.00,310.32 619.00,310.02 620.00,309.72 621.00,309.42 622.00,309.12 623.00,308.82 624.00,308.52 625.00,308.21 626.00,307.91 627.00,307.60 628.00,307.29 629.00,306.98 630.00,306.67 631.00,306.36 632.00,306.04 633.00,305.73 634.00,305.41 635.00,305.09 636.00,304.77 637.00,304.45 638.00,304.12 639.00,303.80 640.00,303.47 641.00,303.14 642.00,302.81 643.00,302.48 644.00,302.14 645.00,301.81 646.00,301.47 647.00,301.13 648.00,300.79 649.00,300.45 650.00,300.11 651.00,299.76 652.00,299.42 653.00,299.07 654.00,298.72 655.00,298.36" fill="none" stroke="#000" stroke-width="0.75"/>
<polyline points="471.00,347.25 472.00,347.28 473.00,347.30 474.00,346.42 475.00,346.21 476.00,346.00 477.00,345.78 478.00,345.57 479.00,345.36 480.00,345.15 481.00,344.94 482.00,344.73 483.00,344.53 484.00,344.32 485.00,344.11 486.00,343.90 487.00,343.69 488.00,343.49 489.00,343.28 490.00,343.07 491.00,342.87 492.00,342.66 493.00,342.46 494.00,342.25 495.00,342.05 496.00,341.84 497.00,341.64 498.00,341.43 499.00,341.21 500.00,340.98 501.00,340.75 502.00,340.52 503.00,340.29 504.00,340.07 505.00,339.84 506.00,339.61 507.00,339.39 508.00,339.16 509.00,338.93 510.00,338.71 511.00,338.48 512.00,338.25 513.00,338.03 514.00,337.80 515.00,337.57 516.00,337.35 517.00,337.12 518.00,336.89 519.00,336.67 520.00,336.44 521.00,336.21 522.00,335.98 523.00,335.76 524.00,335.53 525.00,335.30 526.00,335.07 527.00,334.85 528.00,334.62 529.00,334.39 530.00,334.16 531.00,333.93 532.00,333.71 533.00,333.48 534.00,333.25 535.00,333.02 536.00,332.79 537.00,332.56 538.00,332.33 539.00,332.10 540.00,331.87 541.00,331.63 542.00,331.40 543.00,331.17 544.00,330.94 545.00,330.71 546.00,330.47 547.00,330.24 548.00,330.00 549.00,329.77 550.00,329.54 551.00,329.30 552.00,329.06 553.00,328.83 554.00,328.59 555.00,328.35 556.00,328.12 557.00,327.88 558.00,327.64 559.00,327.40 560.00,327.16 561.00,326.92 562.00,326.68 563.00,326.44 564.00,326.19 565.00,325.95 566.00,325.71 567.00,325.46 568.00,325.22 569.00,324.97 570.00,324.72 571.00,324.48 572.00,324.23 573.00,323.98 574.00,323.73 575.00,323.48 576.00,323.23 577.00,322.98 578.00,322.73 579.00,322.47 580.00,322.22 581.00,321.96 582.00,321.71 583.00,321.45 584.00,321.19 585.00,320.93 586.00,320.67 587.00,320.41 588.00,320.15 589.00,319.89 590.00,319.63 591.00,319.36 592.00,319.10 593.00,318.83 594.00,318.56 595.00,318.30 596.00,318.03 597.00,317.76 598.00,317.49 599.00,317.21 600.00,316.94 601.00,316.66 602.00,316.39 603.00,316.11 604.00,315.83 605.00,315.56 606.00,315.28 607.00,314.99 608.00,314.71 609.00,314.43 610.00,314.14 611.00,313.86 612.00,313.57 613.00,313.28 614.00,312.99 615.00,312.70 616.00,312.41 617.00,312.11 618.00,311.82 619.00,311.52 620.00,311.22 621.00,310.92 622.00,310.62 623.00,310.32 624.00,310.02 625.00,309.71 626.00,309.41 627.00,309.10 628.00,308.79 629.00,308.48 630.00,308.17 631.00,307.86 632.00,307.54 633.00,307.23 634.00,306.91 635.00,306.59 636.00,306.27 637.00,305.95 638.00,305.62 639.00,305.30 640.00,304.97 641.00,304.64 642.00,304.31 643.00,303.98 644.00,303.64 645.00,303.31 646.00,302.97 647.00,302.63 648.00,302.29 649.00,301.95 650.00,301.61 651.00,301.26 652.00,300.92 653.00,300.57 654.00,300.22 655.00,299.86 656.00,299.51 657.00,299.15 658.00,298.80" fill="none" stroke="#000" stroke-width="0.90"/>
<polyline points="471.00,347.16 472.00,347.23 473.00,347.30 474.00,346.46 475.00,346.30 476.00,346.13 477.00,345.96 478.00,345.79 479.00,345.63 480.00,345.46 481.00,345.30 482.00,345.13 483.00,344.97 484.00,344.80 485.00,344.64 486.00,344.47 487.00,344.31 488.00,344.15 489.00,343.98 490.00,343.82 491.00,343.66 492.00,343.50 493.00,343.34 494.00,343.18 495.00,343.02 496.00,342.85 497.00,342.69 498.00,342.53 499.00,342.31 500.00,342.08 501.00,341.85 502.00,341.62 503.00,341.39 504.00,341.17 505.00,340.94 506.00,340.71 507.00,340.49 508.00,340.26 509.00,340.03 510.00,339.81 511.00,339.58 512.00,339.35 513.00,339.13 514.00,338.90 515.00,338.67 516.00,338.45 517.00,338.22 518.00,337.99 519.00,337.77 520.00,337.54 521.00,337.31 522.00,337.08 523.00,336.86 524.00,336.63 525.00,336.40 526.00,336.17 527.00,335.95 528.00,335.72 529.00,335.49 530.00,335.26 531.00,335.03 532.00,334.81 533.00,334.58 534.00,334.35 535.00,334.12 536.00,333.89 537.00,333.66 538.00,333.43 539.00,333.20 540.00,332.97 541.00,332.73 542.00,332.50 543.00,332.27 544.00,332.04 545.00,331.81 546.00,331.57 547.00,331.34 548.00,331.10 549.00,330.87 550.00,330.64 551.00,330.40 552.00,330.16 553.00,329.93 554.00,329.69 555.00,329.45 556.00,329.22 557.00,328.98 558.00,328.74 559.00,328.50 560.00,328.26 561.00,328.02 562.00,327.78 563.00,327.54 564.00,327.29 565.00,327.05 566.00,326.81 567.00,326.56 568.00,326.32 569.00,326.07 570.00,325.82 571.00,325.58 572.00,325.33 573.00,325.08 574.00,324.83 575.00,324.58 576.00,324.33 577.00,324.08 578.00,323.83 579.00,323.57 580.00,323.32 581.00,323.06 582.00,322.81 583.00,322.55 584.00,322.29 585.00,322.03 586.00,321.77 587.00,321.51 588.00,321.25 589.00,320.99 590.00,320.73 591.00,320.46 592.00,320.20 593.00,319.93 594.00,319.66 595.00,319.40 596.00,319.13 597.00,318.86 598.00,318.59 599.00,318.31 600.00,318.04 601.00,317.76 602.00,317.49 603.00,317.21 604.00,316.93 605.00,316.66 606.00,316.38 607.00,316.09 608.00,315.81 609.00,315.53 610.00,315.24 611.00,314.96 612.00,314.67 613.00,314.38 614.00,314.09 615.00,313.80 616.00,313.51 617.00,313.21 618.00,312.92 619.00,312.62 620.00,312.32 621.00,312.02 622.00,311.72 623.00,311.42 624.00,311.12 625.00,310.81 626.00,310.51 627.00,310.20 628.00,309.89 629.00,309.58 630.00,309.27 631.00,308.96 632.00,308.64 633.00,308.33 634.00,308.01 635.00,307.69 636.00,307.37 637.00,307.05 638.00,306.72 639.00,306.40 640.00,306.07 641.00,305.74 642.00,305.41 643.00,305.08 644.00,304.74 645.00,304.41 646.00,304.07 647.00,303.73 648.00,303.39 649.00,303.05 650.00,302.71 651.00,302.36 652.00,302.02 653.00,301.67 654.00,301.32 655.00,300.96 656.00,300.61 657.00,300.25 658.00,299.90" fill="none" stroke="#000" stroke-width="1.20"/>
<polyline points="473.00,347.30 474.00,347.30 475.00,347.22 476.00,347.07 477.00,346.91 478.00,346.76 479.00,346.59 480.00,346.43 481.00,346.26 482.00,346.08 483.00,345.91 484.00,345.73 485.00,345.54 486.00,345.36 487.00,345.17 488.00,344.97 489.00,344.77 490.00,344.57 491.00,344.37 492.00,344.16 493.00,343.94 494.00,343.73 495.00,343.51 496.00,343.28 497.00,343.05 498.00,342.82 499.00,342.59 500.00,342.35 501.00,342.10 502.00,341.85 503.00,341.60 504.00,341.35 505.00,341.09 506.00,340.82 507.00,340.56 508.00,340.28 509.00,340.01 510.00,339.73 511.00,339.45 512.00,339.16 513.00,338.86 514.00,338.57 515.00,338.27 516.00,337.96 517.00,337.65 518.00,337.34 519.00,337.02 520.00,336.70 521.00,336.37 522.00,336.04 523.00,335.71 524.00,335.37 525.00,335.02 526.00,334.67 527.00,334.32 528.00,333.96 529.00,333.60 530.00,333.23 531.00,332.86 532.00,332.49 533.00,332.11 534.00,331.72 535.00,331.33 536.00,330.94 537.00,330.54 538.00,330.13 539.00,329.73 540.00,329.31 541.00,328.90 542.00,328.47 543.00,328.04 544.00,327.61 545.00,327.17 546.00,326.73 547.00,326.29 548.00,325.83 549.00,325.38 550.00,324.91 551.00,324.45 552.00,323.98 553.00,323.50 554.00,323.02 555.00,322.53 556.00,322.04 557.00,321.54 558.00,321.04 559.00,320.53 560.00,320.02 561.00,319.50 562.00,318.98 563.00,318.45 564.00,317.91 565.00,317.37 566.00,316.83 567.00,316.28 568.00,315.72 569.00,315.16 570.00,314.60 571.00,314.03 572.00,313.45 573.00,312.87 574.00,312.28 575.00,311.69 576.00,311.09 577.00,310.48 578.00,309.87 579.00,309.26 580.00,308.64 581.00,308.01 582.00,307.38 583.00,306.74 584.00,306.10 585.00,305.45 586.00,304.79 587.00,304.13 588.00,303.46 589.00,302.79 590.00,302.11 591.00,301.43 592.00,300.74 593.00,300.04 594.00,299.34 595.00,298.63 596.00,297.92 597.00,297.20 598.00,296.47 599.00,295.74 600.00,295.00 601.00,294.26 602.00,293.51 603.00,292.75 604.00,291.99 605.00,291.22 606.00,290.45 607.00,289.67 608.00,288.88 609.00,288.09 610.00,287.29 611.00,286.48 612.00,285.67 613.00,284.85 614.00,284.03 615.00,283.20 616.00,282.36 617.00,281.51 618.00,280.66 619.00,279.81 620.00,278.94 621.00,278.07 622.00,277.20 623.00,276.32 624.00,275.43 625.00,274.53 626.00,273.63 627.00,272.72 628.00,271.80 629.00,270.88 630.00,269.95 631.00,269.01 632.00,268.07 633.00,267.12 634.00,266.17 635.00,265.20 636.00,264.23 637.00,263.26 638.00,262.27 639.00,261.28 640.00,260.29 641.00,259.28 642.00,258.27 643.00,257.25 644.00,256.23 645.00,255.19 646.00,254.16 647.00,253.11 648.00,252.06 649.00,251.00 650.00,249.93 651.00,248.85 652.00,247.77 653.00,246.68 654.00,245.59 655.00,244.48 656.00,243.37 657.00,242.25 658.00,241.13 659.00,240.00 660.00,238.86 661.00,237.71" fill="none" stroke="#000" stroke-width="1.5" stroke-dasharray="3.0,2.6"/>
</g>
<text x="545.30" y="270.30" font-family='"Liberation Sans", sans-serif' font-size="9.30" font-weight="normal" font-style="normal" fill="#e60a0a" text-anchor="start" >1</text>
<text x="545.00" y="299.80" font-family='"Liberation Sans", sans-serif' font-size="9.30" font-weight="normal" font-style="normal" fill="#e60a0a" text-anchor="start" >2-4</text>
<text x="577.50" y="289.50" font-family='"Liberation Serif", serif' font-size="11.80" font-weight="normal" font-style="normal" fill="#e60a0a" text-anchor="start" >skin1</text>
<text x="545.30" y="322.60" font-family='"Liberation Sans", sans-serif' font-size="9.30" font-weight="normal" font-style="normal" fill="#000" text-anchor="start" >1</text>
<text x="545.00" y="343.40" font-family='"Liberation Sans", sans-serif' font-size="9.30" font-weight="normal" font-style="normal" fill="#000" text-anchor="start" >2-4</text>
<text x="577.80" y="334.80" font-family='"Liberation Serif", serif' font-size="11.80" font-weight="normal" font-style="normal" fill="#000" text-anchor="start" >skin2</text>
</svg>
</body></html>
